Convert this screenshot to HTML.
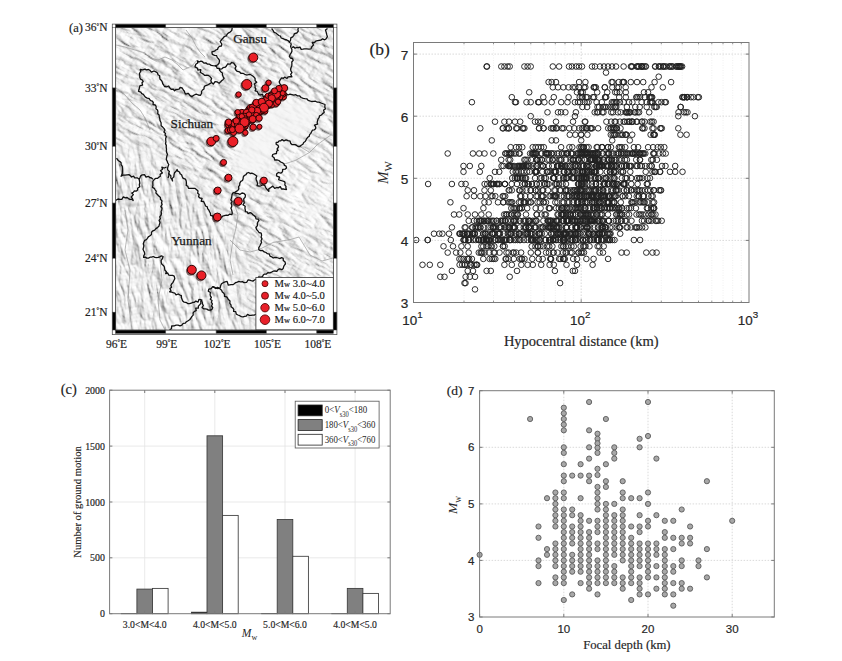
<!DOCTYPE html>
<html><head><meta charset="utf-8"><style>html,body{margin:0;padding:0;background:#fff}svg{display:block}</style></head>
<body><svg width="842" height="661" viewBox="0 0 842 661">
<defs>
<clipPath id="mclip"><rect x="115.5" y="27.6" width="217.9" height="302.4"/></clipPath>
<filter id="reliefA" x="0" y="0" width="100%" height="100%">
<feTurbulence type="turbulence" baseFrequency="0.04 0.12" numOctaves="5" seed="3" result="n"/>
<feColorMatrix in="n" type="matrix" values="0 0 0 0 0  0 0 0 0 0  0 0 0 0 0  1 0 0 0 0" result="h"/>
<feDiffuseLighting in="h" surfaceScale="3.5" diffuseConstant="1.05" lighting-color="#fff"><feDistantLight azimuth="315" elevation="50"/></feDiffuseLighting>
</filter>
<filter id="reliefB" x="0" y="0" width="100%" height="100%">
<feTurbulence type="turbulence" baseFrequency="0.12 0.035" numOctaves="5" seed="5" result="n"/>
<feColorMatrix in="n" type="matrix" values="0 0 0 0 0  0 0 0 0 0  0 0 0 0 0  1 0 0 0 0" result="h"/>
<feDiffuseLighting in="h" surfaceScale="3.5" diffuseConstant="1.05" lighting-color="#fff"><feDistantLight azimuth="315" elevation="50"/></feDiffuseLighting>
</filter>
<filter id="blur2"><feGaussianBlur stdDeviation="6"/></filter>
<filter id="mblur" x="-20%" y="-20%" width="140%" height="140%"><feGaussianBlur stdDeviation="12"/></filter>
<mask id="southwest" maskUnits="userSpaceOnUse" x="0" y="0" width="842" height="661"><polygon points="80,150 150,150 175,175 215,215 235,240 250,370 80,370" fill="#fff" filter="url(#mblur)"/></mask>
<mask id="north" maskUnits="userSpaceOnUse" x="0" y="0" width="842" height="661"><rect x="0" y="0" width="842" height="661" fill="#fff"/><polygon points="80,150 150,150 175,175 215,215 235,240 250,370 80,370" fill="#000" filter="url(#mblur)"/></mask>
</defs>
<g clip-path="url(#mclip)">
<rect x="115.5" y="27.6" width="217.89999999999998" height="302.4" fill="#ffffff"/>
<g mask="url(#north)"><rect x="-150" y="-100" width="600" height="500" transform="rotate(28 225 180)" filter="url(#reliefA)" opacity="0.72"/></g>
<g mask="url(#southwest)"><rect x="90" y="130" width="200" height="220" transform="rotate(-8 190 240)" filter="url(#reliefB)" opacity="0.72"/></g>
<polygon points="238,140 255,112 283,95 318,104 322,112 312,132 298,146 282,142 276,162 262,178 240,182 232,162" fill="#f6f6f6" opacity="0.85" filter="url(#blur2)"/>
<polygon points="280,150 300,148 333,140 333,230 300,240 275,225 270,190" fill="#fff" opacity="0.35" filter="url(#blur2)"/>
<polyline fill="none" stroke="#9a9a9a" stroke-width="0.7" points="116.0,45.0 125.0,47.0 135.0,50.0 145.0,53.0 150.0,58.0 158.0,60.0 165.0,57.0 172.0,60.0 178.0,65.0 183.0,70.0 192.0,66.0 197.0,60.0"/>
<polyline fill="none" stroke="#9a9a9a" stroke-width="0.7" points="186.0,30.0 192.0,38.0 196.0,46.0 200.0,52.0 205.0,57.0"/>
<polyline fill="none" stroke="#9a9a9a" stroke-width="0.7" points="116.0,88.0 125.0,95.0 132.0,103.0 140.0,110.0 145.0,118.0 150.0,130.0"/>
<polyline fill="none" stroke="#9a9a9a" stroke-width="0.7" points="258.8,249.7 273.0,242.5 290.0,239.6 299.0,237.0 310.0,255.0 322.0,261.0 333.0,258.0"/>
<polyline fill="none" stroke="#9a9a9a" stroke-width="0.7" points="230.0,240.0 240.0,250.0 250.0,252.0 258.8,249.7"/>
<polyline fill="none" stroke="#9a9a9a" stroke-width="0.7" points="233.0,200.0 238.0,215.0 236.0,228.0 233.0,240.0 230.0,260.0 233.0,275.0"/>
<polyline fill="none" stroke="#9a9a9a" stroke-width="0.7" points="299.8,146.5 309.6,152.4 317.5,144.5 331.3,134.6"/>
<polyline fill="none" stroke="#9a9a9a" stroke-width="0.7" points="284.1,164.2 295.9,160.2 309.6,152.4"/>
<polyline fill="none" stroke="#9a9a9a" stroke-width="0.7" points="160.0,260.0 162.0,280.0 158.0,300.0 160.0,320.0 165.0,330.0"/>
<polyline fill="none" stroke="#9a9a9a" stroke-width="0.7" points="125.0,210.0 128.0,230.0 125.0,250.0 130.0,270.0 128.0,300.0 132.0,330.0"/>
<polyline fill="none" stroke="#111" stroke-width="1.3" stroke-linejoin="round" points="168.0,178.0 168.9,175.7 168.7,173.3 169.4,171.5 167.7,169.9 167.5,168.2 168.1,166.4 168.8,164.5 167.7,162.9 167.2,161.2 166.3,159.5 166.5,157.8 166.9,156.0 167.5,154.2 166.7,152.6 166.4,150.8 166.5,149.1 166.2,147.3 166.3,145.4 165.5,143.7 165.9,141.8 165.7,140.0 165.7,138.3 166.4,136.6 165.0,135.1 165.5,133.4 163.9,132.0 164.9,130.1 164.1,128.6 162.7,127.1 161.1,125.7 161.1,122.7 160.1,120.8 159.8,118.8 159.2,116.8 159.1,115.0 157.7,113.7 157.9,111.7 157.5,110.0 155.9,108.8 156.2,106.8 155.5,105.2 153.0,104.5 153.3,102.5 152.3,101.1 150.4,100.5 149.2,98.6 147.2,98.1 145.4,97.2 144.4,95.8 143.4,94.4 141.7,93.6 140.8,92.1 138.5,91.3 139.1,89.3 139.5,87.3 140.0,85.6 142.6,85.2 142.0,82.8 143.2,81.5 142.4,80.0 140.5,79.1 139.8,77.5 139.8,75.5 139.4,73.5 140.7,71.5 140.3,69.5 142.7,69.9 145.0,69.2 146.6,69.8 148.4,69.5 150.0,70.3 151.4,72.2 154.0,71.0 155.8,71.8 157.5,73.0 158.0,74.7 159.7,75.7 159.7,77.6 160.1,79.3 161.5,80.5 162.3,82.0 162.7,83.6 163.7,85.0 164.5,86.5 166.3,86.8 168.7,86.0 169.8,87.9 171.2,89.4 173.3,89.1 174.5,90.8 175.7,89.7 177.3,89.3 179.1,89.1 180.0,87.5 182.2,88.0 183.3,90.0 184.4,91.2 184.8,92.8 185.8,94.1 188.3,93.3 189.7,95.2 191.7,96.6 194.2,95.0 196.2,94.1 198.3,95.0 200.5,95.3 201.6,93.3 201.5,91.5 202.5,90.0 204.0,89.0 204.1,87.1 205.0,85.8 207.2,85.2 209.1,84.1 211.6,82.5 210.8,80.8 211.6,78.5 210.0,76.6 208.5,75.5 206.7,75.2 204.7,75.4 203.3,74.1 201.8,73.2 200.3,72.5 200.8,69.6 197.9,70.2 197.5,68.3 195.0,66.9 195.8,64.2 197.7,63.0 197.5,60.8 199.0,62.0 200.9,61.2 202.5,61.7 203.9,63.1 206.1,62.9 207.5,64.2 209.5,64.2 211.2,65.4 213.1,65.7 215.0,65.8 216.5,66.4 217.1,68.4 219.1,68.3 219.5,70.2 220.7,71.7 222.4,73.0 222.5,75.0 223.2,76.7 224.1,78.3 223.0,79.7 221.6,80.8 220.4,82.1 219.1,83.3 217.3,81.9 215.0,81.6 213.3,84.1 211.6,82.5"/>
<polyline fill="none" stroke="#111" stroke-width="1.3" stroke-linejoin="round" points="232.2,27.6 231.8,30.4 230.2,32.0 228.2,33.1 227.1,34.3 226.3,35.8 224.4,36.5 223.1,38.0 221.8,39.4 220.2,41.7 221.8,44.0 221.4,46.0 219.4,46.4 218.2,47.6 217.5,49.4 215.8,50.0 214.5,51.2 211.9,51.8 212.3,54.4 214.5,55.3 216.6,55.6 217.3,57.6 218.5,58.8 219.5,60.3 219.1,63.1 217.5,65.0 215.0,65.8"/>
<polyline fill="none" stroke="#111" stroke-width="1.3" stroke-linejoin="round" points="219.1,68.3 220.0,69.2 221.9,68.8 223.3,67.6 225.3,67.2 226.6,65.8 227.7,63.8 230.3,64.2 231.6,62.5 233.7,63.2 235.0,65.0 236.1,66.5 235.1,68.4 235.8,70.0 237.3,71.4 239.4,71.8 240.8,73.3 242.9,73.3 244.7,74.3 246.6,75.0 248.3,74.7 250.0,74.3 252.0,75.5 253.8,76.8 255.1,78.5 255.1,80.6 256.7,82.3 254.2,84.0 255.1,85.7 255.0,87.4 255.9,89.1 255.1,90.8 257.1,91.3 258.0,93.0 258.9,94.6 260.6,94.8 262.5,94.1 263.3,97.0 265.2,96.5 266.7,95.9 267.8,94.5 269.4,94.0 270.7,93.0 272.0,92.0 273.8,91.8 274.9,90.4 276.7,90.2 278.2,89.5 278.9,87.5 280.2,86.6 281.8,86.0"/>
<polyline fill="none" stroke="#111" stroke-width="1.3" stroke-linejoin="round" points="290.6,42.5 291.2,44.4 290.6,46.3 291.2,48.0 291.9,49.6 291.9,51.4 291.0,53.1 290.0,54.7 289.4,56.5 290.4,58.0 292.5,58.5 293.2,60.3 291.8,62.0 291.9,64.1 291.7,65.9 291.1,67.5 290.6,69.2 290.9,70.9 292.0,72.6 290.6,74.3 291.9,76.8 290.0,76.6 288.1,76.8 287.0,78.5 284.8,77.1 283.5,78.3 281.7,77.8 280.5,79.3 279.2,81.9 280.1,84.1 281.8,85.7 281.3,87.6 281.8,89.5 282.2,91.9 284.3,93.3 286.2,93.6 287.9,95.0 290.0,94.2 291.9,94.6 293.8,95.1 295.8,94.7 297.5,95.9 299.5,95.8 301.1,97.5 303.3,98.4 305.0,98.7 306.8,98.8 308.1,100.3 309.7,100.9 311.5,101.5 313.5,101.4 315.5,101.2 317.3,102.2 319.1,102.2 320.7,102.9 322.4,103.5 325.0,104.5 324.8,107.0 325.4,109.0 323.6,110.0 324.2,112.5 322.6,113.6 321.5,115.0 319.5,115.8 319.1,117.7 318.0,119.1 317.5,120.9 317.2,122.5 317.6,124.2 314.4,125.1 315.8,127.1 315.6,128.7 314.3,129.8 312.4,130.2 311.6,131.8 310.8,133.4 309.6,134.6 309.2,136.4 307.7,137.3 306.7,138.6 306.0,140.1 305.2,141.5 303.7,142.5 302.9,144.3 301.2,145.2 299.8,146.5 298.1,146.5 296.7,145.4 295.2,144.6 293.5,144.7 291.9,144.5 290.6,143.2 290.1,141.1 288.0,140.6 286.1,139.8 283.9,140.9 282.1,139.6 280.8,140.8 279.1,140.9 277.9,142.3 276.2,142.5 276.1,144.2 278.1,145.4 278.6,146.9 277.1,149.0 278.1,150.4 276.6,151.3 276.5,153.5 274.5,153.9 272.7,154.5 272.2,156.3 274.1,157.7 274.7,160.0 276.9,159.9 278.9,160.5 280.6,162.0 282.3,162.7 283.8,163.5 284.4,165.3 286.0,166.0 286.5,167.9 285.1,169.2 282.7,169.4 282.5,171.8 280.8,173.2 278.4,172.5 276.7,173.8 276.6,176.0 279.5,177.2 278.6,179.7 280.5,180.4 282.5,181.0 284.5,181.6 285.1,183.1 284.8,184.9 286.0,186.3 285.9,188.0 286.5,189.5 284.8,189.4 283.2,188.9 281.5,189.0 280.3,186.6 278.3,187.9 276.7,187.5 274.7,188.3 272.8,186.1 270.8,187.5 268.8,188.9 268.8,191.4 267.7,190.0 266.5,188.8 265.5,187.3 264.9,185.6 262.9,184.7 260.9,185.8 259.0,186.1 257.0,185.6 257.6,183.6 257.0,181.6 256.3,179.9 256.0,178.2 256.8,176.0 255.0,174.7 253.5,173.8 251.9,173.2 250.2,173.5 248.7,172.5 246.9,173.1 246.0,174.6 244.3,175.5 243.3,176.8 243.1,178.8 242.5,180.5 240.8,181.4 239.8,183.1 239.7,185.1 238.6,186.7 238.8,188.8 237.8,190.5 236.3,191.4 234.9,192.4 233.0,192.9 232.1,194.4 231.8,196.5 231.5,198.2 230.8,199.9 232.2,201.6 231.0,203.3 231.8,205.0 231.7,206.6 230.9,208.2 231.6,209.8 232.0,211.5 232.3,213.1 231.8,214.7 229.8,214.1 228.2,215.3 226.3,215.1 224.5,215.6 222.7,216.2 221.1,217.9 219.0,216.4 217.3,217.4 215.4,217.1 213.6,217.7 212.9,216.0 210.6,215.4 210.4,213.3 209.6,211.7 208.8,210.0 207.6,208.6 207.3,206.9 205.5,206.0 205.0,204.5 204.3,203.0 203.6,201.5 201.2,201.3 202.1,198.4 200.0,198.0 198.6,196.7 199.2,194.4 197.7,193.2 198.0,191.0 196.7,189.7 195.2,188.4 192.9,188.4 190.7,188.4 188.5,188.4 187.8,186.3 186.2,185.4 186.4,183.2 186.2,180.9 185.4,179.1 183.2,178.4 182.3,176.7 181.6,174.8 180.1,173.8 179.5,172.0 177.8,171.2 177.1,169.5 176.1,171.3 174.5,172.7 174.0,174.8 173.8,176.9 172.1,178.6 172.5,180.9 171.9,179.3 170.8,177.9 170.9,176.0 169.8,174.7 168.7,173.3"/>
<polyline fill="none" stroke="#111" stroke-width="1.3" stroke-linejoin="round" points="271.6,28.5 273.0,30.3 274.1,32.4 275.9,33.0 277.3,34.3 278.8,35.5 280.5,36.2 281.2,38.0 283.0,38.7 284.8,39.5 286.8,40.0 288.4,40.9 289.4,42.5 290.6,40.0 290.8,37.9 292.7,36.9 293.8,35.3 294.5,33.6 296.8,33.0 298.3,31.1 297.9,29.5 298.3,27.9"/>
<polyline fill="none" stroke="#111" stroke-width="1.3" stroke-linejoin="round" points="291.9,47.6 293.5,46.7 295.1,48.2 296.7,47.5 298.3,47.6 300.0,47.1 301.2,49.4 302.9,49.2 304.6,48.9 306.7,48.9 308.9,49.1 311.0,48.9 311.8,46.7 313.5,45.0 312.2,42.5 314.2,42.7 315.7,41.2 317.5,40.7 319.3,40.3 321.1,40.0 322.6,38.8 324.7,39.8 326.2,38.7 327.4,36.6 326.7,34.5 326.2,32.4 325.5,30.0 327.5,28.5"/>
<polyline fill="none" stroke="#111" stroke-width="1.3" stroke-linejoin="round" points="234.5,193.5 236.3,193.5 238.2,193.6 239.9,194.5 242.0,193.0 243.8,193.3 245.4,195.0 245.2,197.1 243.7,198.9 243.9,201.1 244.3,202.8 242.9,204.8 245.2,206.3 244.9,208.2 245.3,209.9 245.4,211.7 247.1,211.8 248.1,213.6 250.2,212.6 251.7,213.4 252.9,214.7 254.3,215.7 255.6,216.9 256.0,218.9 258.0,219.2 259.0,220.7 257.8,222.1 257.3,223.8 257.4,225.7 255.9,227.5 256.6,229.5 257.9,230.9 259.0,232.5 261.2,233.1 261.6,235.3 261.1,237.1 262.0,238.9 261.0,240.7 261.6,242.5 260.6,244.2 259.8,246.0 258.8,247.6 258.8,249.7 260.5,250.6 262.6,250.5 264.2,251.9 266.0,252.5 267.4,253.7 269.3,254.0 270.0,256.1 271.7,256.8 273.2,258.0 275.0,257.4 276.6,257.5 278.2,258.0 279.8,258.6 281.6,257.7 283.2,258.3 283.3,260.4 285.1,261.9 285.4,264.0 284.3,265.3 283.6,266.8 283.2,268.4 281.8,269.7 279.7,268.9 278.1,269.7 276.8,271.4 274.9,271.0 273.1,271.2 271.5,272.2 269.9,272.9 267.8,272.7 266.4,274.0 264.5,274.1 263.2,275.1 262.4,276.7 260.7,277.2 258.5,277.0 258.0,279.0 256.2,279.2 254.5,280.0 252.9,281.1 251.2,280.7 249.6,280.1 248.0,280.0 246.7,282.3 244.1,282.7 242.5,281.6 240.6,281.9 238.8,281.4 237.3,282.1 235.7,282.6 234.3,283.8 232.9,284.7 231.0,284.6 228.3,285.2 227.7,283.3 227.1,281.4 225.1,281.9 223.2,282.7 221.5,283.8 220.6,285.7 220.2,287.9 217.9,288.5 216.1,288.1 214.4,287.2 212.7,286.6 211.2,288.6 208.8,289.2 208.3,291.2 210.4,292.5 210.1,294.4 210.4,296.0 211.4,297.4 210.3,299.2 212.0,300.6 211.4,302.3 212.4,303.9 211.5,306.0 212.7,307.5 212.0,309.4 210.1,310.1 208.4,310.1 206.9,309.1 205.3,308.9 203.6,308.8 202.1,307.4 203.4,305.5 202.4,304.0 202.3,302.3 200.9,299.6 198.9,299.5 198.1,302.1 195.8,301.1 194.4,302.3 192.7,302.4 191.2,303.2 189.6,303.6 187.9,303.6 186.3,302.5 184.2,302.2 182.7,300.9 182.0,299.2 181.3,297.6 181.4,295.7 179.8,295.0 178.3,294.0 176.0,294.8 174.8,293.1 173.1,292.7 171.4,292.0 169.6,291.8 171.0,290.5 169.9,288.6 171.6,287.3 170.9,285.5 171.6,284.0 173.0,282.4 173.9,280.5 174.8,278.7 174.2,276.1 172.6,275.4 170.7,275.3 168.9,275.2 167.7,273.0 165.7,273.5 166.4,271.7 165.0,270.3 164.6,268.6 164.4,267.0 163.4,265.4 161.9,264.2 161.2,262.5 161.1,260.5 162.4,258.6 163.1,256.5 161.4,255.9 159.8,256.8 158.2,257.4 156.6,257.6 154.9,257.4 153.2,256.5 151.6,257.1 150.0,257.2 148.4,258.2 146.8,258.1 145.2,257.1 143.6,257.3 143.8,255.7 144.8,254.1 144.5,252.4 143.7,250.8 143.0,249.2 143.5,247.6 143.9,245.8 143.3,243.8 143.9,242.0 144.7,240.3 146.4,239.7 147.4,238.3 148.3,236.9 150.0,235.8 151.5,234.5 151.5,232.2 152.9,230.8 154.7,230.1 155.9,228.6 157.5,227.6 158.9,226.3 159.4,224.4 160.0,222.6 159.1,220.4 160.4,218.7 159.7,216.8 161.0,215.2 161.5,213.5 161.1,211.6 161.7,209.9 162.0,208.1 160.8,206.5 162.1,204.5 161.5,202.8 162.0,200.9 160.4,199.3 160.4,197.5 158.8,196.1 157.4,194.5 155.9,193.0 156.2,191.1 155.1,189.8 154.3,188.3 152.4,187.3 152.9,185.4 152.8,183.2 152.9,181.1 154.4,179.3 155.8,178.4 157.7,178.3 158.9,177.1 160.4,176.3 160.1,174.4 162.4,172.9 160.5,170.7 162.5,169.2 161.9,167.2 164.2,168.0 166.5,167.2"/>
<polyline fill="none" stroke="#111" stroke-width="1.3" stroke-linejoin="round" points="212.7,286.6 214.2,287.3 215.5,288.5 217.6,287.4 219.1,288.3 220.5,289.2 221.7,290.4 222.3,292.0 223.6,293.0 224.5,294.4 224.5,296.4 226.7,296.8 227.6,298.2 228.4,299.6 230.0,301.0 229.8,303.3 231.0,304.9 231.1,306.7 232.8,308.0 233.8,309.4 233.6,311.4 235.7,311.6 236.3,314.2 238.0,315.0 239.7,315.7 241.4,316.6 243.1,316.9 244.6,316.4 246.2,316.1 247.5,314.4 249.3,315.3 251.0,315.3 252.7,315.1 254.5,315.1 256.0,314.0"/>
<polyline fill="none" stroke="#111" stroke-width="1.3" stroke-linejoin="round" points="202.3,299.6 200.8,301.1 200.9,303.3 199.6,304.9 198.4,306.1 198.3,308.1 195.7,308.2 196.2,310.7 194.4,311.4 193.1,312.9 193.2,315.1 191.8,316.6 190.9,318.3 189.6,319.7 188.1,320.7 186.4,321.7 185.3,323.2 183.2,323.4 181.9,325.1 180.0,325.8 178.1,325.2 176.1,325.2 174.2,325.8 171.7,326.0 171.4,328.7 169.6,329.7"/>
<polyline fill="none" stroke="#111" stroke-width="1.3" stroke-linejoin="round" points="116.5,158.2 117.5,159.5 118.5,160.8 119.9,161.6 121.1,162.7 121.1,164.7 122.3,166.4 122.5,168.4 122.6,170.3 122.5,172.4 122.0,174.4 121.1,176.3 122.9,175.2 125.1,175.2 127.1,174.8 128.9,174.6 130.3,175.6 131.5,177.0 133.6,176.2 134.7,177.8 137.2,177.8 139.2,179.3 140.0,177.6 140.7,175.9 142.3,174.8 144.5,174.6 146.0,177.1 148.3,176.3 149.7,177.5 151.5,178.0 152.9,179.3"/>
<polyline fill="none" stroke="#111" stroke-width="1.3" stroke-linejoin="round" points="139.2,179.3 139.5,181.2 139.8,183.0 139.3,184.8 139.8,186.7 137.6,188.2 137.7,190.0 136.4,191.1 134.4,190.9 133.2,192.3 131.7,193.0 133.4,194.6 131.2,197.0 132.5,198.7 133.2,200.5 131.9,199.2 130.0,199.4 128.4,198.6 127.1,197.5 125.3,197.9 123.3,196.9 121.8,199.3 119.9,199.4 118.0,199.0 115.5,200.5"/>
<text x="233.2" y="42.6" font-size="13.2" font-family='"Liberation Serif", serif' text-anchor="start" fill="#1a1a1a" stroke="#1a1a1a" stroke-width="0.25">Gansu</text>
<text x="170.6" y="128.2" font-size="13.2" font-family='"Liberation Serif", serif' text-anchor="start" fill="#1a1a1a" stroke="#1a1a1a" stroke-width="0.25">Sichuan</text>
<text x="171.3" y="245.2" font-size="13.2" font-family='"Liberation Serif", serif' text-anchor="start" fill="#1a1a1a" stroke="#1a1a1a" stroke-width="0.25">Yunnan</text>
<circle cx="248.1" cy="110.9" r="3.7" fill="#2a0a0a" opacity="0.6"/>
<circle cx="254.4" cy="111.8" r="4.2" fill="#2a0a0a" opacity="0.6"/>
<circle cx="253.4" cy="111.1" r="3.7" fill="#2a0a0a" opacity="0.6"/>
<circle cx="249.8" cy="120.8" r="2.7" fill="#2a0a0a" opacity="0.6"/>
<circle cx="258.4" cy="109.5" r="4.2" fill="#2a0a0a" opacity="0.6"/>
<circle cx="259.9" cy="102.6" r="2.7" fill="#2a0a0a" opacity="0.6"/>
<circle cx="234.5" cy="128.9" r="2.7" fill="#2a0a0a" opacity="0.6"/>
<circle cx="268.2" cy="104.3" r="3.2" fill="#2a0a0a" opacity="0.6"/>
<circle cx="254.9" cy="108.3" r="2.7" fill="#2a0a0a" opacity="0.6"/>
<circle cx="252.1" cy="121.4" r="2.7" fill="#2a0a0a" opacity="0.6"/>
<circle cx="265.5" cy="105.5" r="3.2" fill="#2a0a0a" opacity="0.6"/>
<circle cx="231.2" cy="127.8" r="2.7" fill="#2a0a0a" opacity="0.6"/>
<circle cx="268.4" cy="102.9" r="2.7" fill="#2a0a0a" opacity="0.6"/>
<circle cx="242.2" cy="121.3" r="3.7" fill="#2a0a0a" opacity="0.6"/>
<circle cx="279.0" cy="94.6" r="3.2" fill="#2a0a0a" opacity="0.6"/>
<circle cx="269.6" cy="102.3" r="3.2" fill="#2a0a0a" opacity="0.6"/>
<circle cx="226.8" cy="131.8" r="3.2" fill="#2a0a0a" opacity="0.6"/>
<circle cx="243.8" cy="121.0" r="3.7" fill="#2a0a0a" opacity="0.6"/>
<circle cx="237.1" cy="121.9" r="3.2" fill="#2a0a0a" opacity="0.6"/>
<circle cx="280.4" cy="91.2" r="3.7" fill="#2a0a0a" opacity="0.6"/>
<circle cx="235.1" cy="125.9" r="3.2" fill="#2a0a0a" opacity="0.6"/>
<circle cx="277.3" cy="97.7" r="2.7" fill="#2a0a0a" opacity="0.6"/>
<circle cx="237.5" cy="124.7" r="4.2" fill="#2a0a0a" opacity="0.6"/>
<circle cx="237.5" cy="125.6" r="3.2" fill="#2a0a0a" opacity="0.6"/>
<circle cx="227.7" cy="125.9" r="3.7" fill="#2a0a0a" opacity="0.6"/>
<circle cx="237.3" cy="128.4" r="3.2" fill="#2a0a0a" opacity="0.6"/>
<circle cx="229.2" cy="131.3" r="3.2" fill="#2a0a0a" opacity="0.6"/>
<circle cx="275.5" cy="95.1" r="3.7" fill="#2a0a0a" opacity="0.6"/>
<circle cx="243.0" cy="127.2" r="4.2" fill="#2a0a0a" opacity="0.6"/>
<circle cx="244.8" cy="124.1" r="4.2" fill="#2a0a0a" opacity="0.6"/>
<circle cx="245.5" cy="120.6" r="4.2" fill="#2a0a0a" opacity="0.6"/>
<circle cx="235.9" cy="126.8" r="4.2" fill="#2a0a0a" opacity="0.6"/>
<circle cx="279.2" cy="98.5" r="3.2" fill="#2a0a0a" opacity="0.6"/>
<circle cx="254.2" cy="112.5" r="4.2" fill="#2a0a0a" opacity="0.6"/>
<circle cx="239.4" cy="122.1" r="3.2" fill="#2a0a0a" opacity="0.6"/>
<circle cx="252.8" cy="109.2" r="2.7" fill="#2a0a0a" opacity="0.6"/>
<circle cx="246.3" cy="118.4" r="2.7" fill="#2a0a0a" opacity="0.6"/>
<circle cx="232.7" cy="127.8" r="2.7" fill="#2a0a0a" opacity="0.6"/>
<circle cx="237.4" cy="125.3" r="3.2" fill="#2a0a0a" opacity="0.6"/>
<circle cx="237.2" cy="128.1" r="3.2" fill="#2a0a0a" opacity="0.6"/>
<circle cx="262.5" cy="102.6" r="3.2" fill="#2a0a0a" opacity="0.6"/>
<circle cx="262.8" cy="106.8" r="3.2" fill="#2a0a0a" opacity="0.6"/>
<circle cx="266.4" cy="103.9" r="2.7" fill="#2a0a0a" opacity="0.6"/>
<circle cx="254.6" cy="109.8" r="2.7" fill="#2a0a0a" opacity="0.6"/>
<circle cx="230.6" cy="125.4" r="3.2" fill="#2a0a0a" opacity="0.6"/>
<circle cx="272.5" cy="99.6" r="3.7" fill="#2a0a0a" opacity="0.6"/>
<circle cx="277.6" cy="95.0" r="2.7" fill="#2a0a0a" opacity="0.6"/>
<circle cx="270.8" cy="96.7" r="3.7" fill="#2a0a0a" opacity="0.6"/>
<circle cx="250.7" cy="115.7" r="2.7" fill="#2a0a0a" opacity="0.6"/>
<circle cx="267.9" cy="106.1" r="3.2" fill="#2a0a0a" opacity="0.6"/>
<circle cx="249.9" cy="112.0" r="3.7" fill="#2a0a0a" opacity="0.6"/>
<circle cx="251.0" cy="111.9" r="4.2" fill="#2a0a0a" opacity="0.6"/>
<circle cx="230.0" cy="126.5" r="3.2" fill="#2a0a0a" opacity="0.6"/>
<circle cx="282.0" cy="97.7" r="3.7" fill="#2a0a0a" opacity="0.6"/>
<circle cx="245.7" cy="120.2" r="4.2" fill="#2a0a0a" opacity="0.6"/>
<circle cx="243.6" cy="126.8" r="3.7" fill="#2a0a0a" opacity="0.6"/>
<circle cx="255.9" cy="113.9" r="3.2" fill="#2a0a0a" opacity="0.6"/>
<circle cx="236.6" cy="124.1" r="3.2" fill="#2a0a0a" opacity="0.6"/>
<circle cx="272.3" cy="99.8" r="3.2" fill="#2a0a0a" opacity="0.6"/>
<circle cx="242.8" cy="123.5" r="2.7" fill="#2a0a0a" opacity="0.6"/>
<circle cx="268.3" cy="103.1" r="3.2" fill="#2a0a0a" opacity="0.6"/>
<circle cx="230.8" cy="126.3" r="3.7" fill="#2a0a0a" opacity="0.6"/>
<circle cx="246.2" cy="115.1" r="4.2" fill="#2a0a0a" opacity="0.6"/>
<circle cx="254.0" cy="113.3" r="4.2" fill="#2a0a0a" opacity="0.6"/>
<circle cx="232.0" cy="124.7" r="3.2" fill="#2a0a0a" opacity="0.6"/>
<circle cx="260.0" cy="104.5" r="3.7" fill="#2a0a0a" opacity="0.6"/>
<circle cx="258.2" cy="113.7" r="3.2" fill="#2a0a0a" opacity="0.6"/>
<circle cx="271.8" cy="94.4" r="2.7" fill="#2a0a0a" opacity="0.6"/>
<circle cx="250.6" cy="110.6" r="3.2" fill="#2a0a0a" opacity="0.6"/>
<circle cx="278.1" cy="93.3" r="3.7" fill="#2a0a0a" opacity="0.6"/>
<circle cx="242.7" cy="116.0" r="4.2" fill="#2a0a0a" opacity="0.6"/>
<circle cx="267.4" cy="105.4" r="3.2" fill="#2a0a0a" opacity="0.6"/>
<circle cx="260.6" cy="108.9" r="3.2" fill="#2a0a0a" opacity="0.6"/>
<circle cx="251.9" cy="109.9" r="2.7" fill="#2a0a0a" opacity="0.6"/>
<circle cx="253.3" cy="113.0" r="3.7" fill="#2a0a0a" opacity="0.6"/>
<circle cx="249.6" cy="109.1" r="3.7" fill="#2a0a0a" opacity="0.6"/>
<circle cx="256.6" cy="107.1" r="3.2" fill="#2a0a0a" opacity="0.6"/>
<circle cx="253.0" cy="111.2" r="2.7" fill="#2a0a0a" opacity="0.6"/>
<circle cx="247.1" cy="117.5" r="3.2" fill="#2a0a0a" opacity="0.6"/>
<circle cx="258.2" cy="107.8" r="2.7" fill="#2a0a0a" opacity="0.6"/>
<circle cx="250.6" cy="118.1" r="4.2" fill="#2a0a0a" opacity="0.6"/>
<circle cx="251.0" cy="119.7" r="3.2" fill="#2a0a0a" opacity="0.6"/>
<circle cx="275.4" cy="101.9" r="3.2" fill="#2a0a0a" opacity="0.6"/>
<circle cx="255.3" cy="105.0" r="3.7" fill="#2a0a0a" opacity="0.6"/>
<circle cx="234.2" cy="123.5" r="3.7" fill="#2a0a0a" opacity="0.6"/>
<circle cx="272.0" cy="95.5" r="2.7" fill="#2a0a0a" opacity="0.6"/>
<circle cx="265.7" cy="103.2" r="4.2" fill="#2a0a0a" opacity="0.6"/>
<circle cx="258.0" cy="105.6" r="4.2" fill="#2a0a0a" opacity="0.6"/>
<circle cx="240.7" cy="114.6" r="4.2" fill="#2a0a0a" opacity="0.6"/>
<circle cx="245.1" cy="116.5" r="4.2" fill="#2a0a0a" opacity="0.6"/>
<circle cx="241.9" cy="119.5" r="2.7" fill="#2a0a0a" opacity="0.6"/>
<circle cx="255.5" cy="110.8" r="2.7" fill="#2a0a0a" opacity="0.6"/>
<circle cx="253.0" cy="113.4" r="4.2" fill="#2a0a0a" opacity="0.6"/>
<circle cx="238.2" cy="125.7" r="4.2" fill="#2a0a0a" opacity="0.6"/>
<circle cx="257.7" cy="110.6" r="3.7" fill="#2a0a0a" opacity="0.6"/>
<circle cx="243.0" cy="119.8" r="3.7" fill="#2a0a0a" opacity="0.6"/>
<circle cx="281.0" cy="94.7" r="4.2" fill="#2a0a0a" opacity="0.6"/>
<circle cx="247.9" cy="121.1" r="3.2" fill="#2a0a0a" opacity="0.6"/>
<circle cx="237.4" cy="124.1" r="3.2" fill="#2a0a0a" opacity="0.6"/>
<circle cx="240.6" cy="123.9" r="3.2" fill="#2a0a0a" opacity="0.6"/>
<circle cx="240.1" cy="120.5" r="4.2" fill="#2a0a0a" opacity="0.6"/>
<circle cx="235.0" cy="124.8" r="3.2" fill="#2a0a0a" opacity="0.6"/>
<circle cx="266.3" cy="103.7" r="3.7" fill="#2a0a0a" opacity="0.6"/>
<circle cx="269.7" cy="97.5" r="4.2" fill="#2a0a0a" opacity="0.6"/>
<circle cx="257.9" cy="105.4" r="4.2" fill="#2a0a0a" opacity="0.6"/>
<circle cx="263.8" cy="112.4" r="3.2" fill="#2a0a0a" opacity="0.6"/>
<circle cx="275.1" cy="98.8" r="3.2" fill="#2a0a0a" opacity="0.6"/>
<circle cx="246.9" cy="121.4" r="3.2" fill="#2a0a0a" opacity="0.6"/>
<circle cx="276.0" cy="98.1" r="3.7" fill="#2a0a0a" opacity="0.6"/>
<circle cx="236.9" cy="123.5" r="3.2" fill="#2a0a0a" opacity="0.6"/>
<circle cx="237.7" cy="118.9" r="2.7" fill="#2a0a0a" opacity="0.6"/>
<circle cx="238.6" cy="117.1" r="3.2" fill="#2a0a0a" opacity="0.6"/>
<circle cx="232.4" cy="125.0" r="4.2" fill="#2a0a0a" opacity="0.6"/>
<circle cx="283.0" cy="89.4" r="3.7" fill="#2a0a0a" opacity="0.6"/>
<circle cx="239.2" cy="126.2" r="4.2" fill="#2a0a0a" opacity="0.6"/>
<circle cx="274.4" cy="96.9" r="2.7" fill="#2a0a0a" opacity="0.6"/>
<circle cx="245.1" cy="115.5" r="2.7" fill="#2a0a0a" opacity="0.6"/>
<circle cx="262.3" cy="111.3" r="2.7" fill="#2a0a0a" opacity="0.6"/>
<circle cx="267.7" cy="104.3" r="4.2" fill="#2a0a0a" opacity="0.6"/>
<circle cx="249.1" cy="118.9" r="2.7" fill="#2a0a0a" opacity="0.6"/>
<circle cx="274.2" cy="101.4" r="3.2" fill="#2a0a0a" opacity="0.6"/>
<circle cx="251.6" cy="116.1" r="4.2" fill="#2a0a0a" opacity="0.6"/>
<circle cx="269.9" cy="101.7" r="3.7" fill="#2a0a0a" opacity="0.6"/>
<circle cx="260.5" cy="111.9" r="3.2" fill="#2a0a0a" opacity="0.6"/>
<circle cx="270.8" cy="105.8" r="3.2" fill="#2a0a0a" opacity="0.6"/>
<circle cx="267.1" cy="102.9" r="4.2" fill="#2a0a0a" opacity="0.6"/>
<circle cx="266.0" cy="100.1" r="3.7" fill="#2a0a0a" opacity="0.6"/>
<circle cx="242.9" cy="126.0" r="3.2" fill="#2a0a0a" opacity="0.6"/>
<circle cx="256.6" cy="112.6" r="4.2" fill="#2a0a0a" opacity="0.6"/>
<circle cx="232.4" cy="133.8" r="3.2" fill="#2a0a0a" opacity="0.6"/>
<circle cx="245.9" cy="114.4" r="4.2" fill="#2a0a0a" opacity="0.6"/>
<circle cx="231.7" cy="126.3" r="3.2" fill="#2a0a0a" opacity="0.6"/>
<circle cx="266.4" cy="97.1" r="2.7" fill="#2a0a0a" opacity="0.6"/>
<circle cx="238.0" cy="126.3" r="3.7" fill="#2a0a0a" opacity="0.6"/>
<circle cx="252.4" cy="115.4" r="3.7" fill="#2a0a0a" opacity="0.6"/>
<circle cx="231.2" cy="130.9" r="3.2" fill="#2a0a0a" opacity="0.6"/>
<circle cx="251.8" cy="109.2" r="4.2" fill="#2a0a0a" opacity="0.6"/>
<circle cx="275.3" cy="100.4" r="2.7" fill="#2a0a0a" opacity="0.6"/>
<circle cx="255.2" cy="104.1" r="3.7" fill="#2a0a0a" opacity="0.6"/>
<circle cx="278.8" cy="98.2" r="3.2" fill="#2a0a0a" opacity="0.6"/>
<circle cx="270.3" cy="97.6" r="3.7" fill="#2a0a0a" opacity="0.6"/>
<circle cx="275.4" cy="96.7" r="4.2" fill="#2a0a0a" opacity="0.6"/>
<circle cx="243.6" cy="117.5" r="3.2" fill="#2a0a0a" opacity="0.6"/>
<circle cx="258.0" cy="113.0" r="3.2" fill="#2a0a0a" opacity="0.6"/>
<circle cx="232.6" cy="125.0" r="3.2" fill="#2a0a0a" opacity="0.6"/>
<circle cx="250.9" cy="113.8" r="3.2" fill="#2a0a0a" opacity="0.6"/>
<circle cx="275.3" cy="104.7" r="3.2" fill="#2a0a0a" opacity="0.6"/>
<circle cx="236.7" cy="125.2" r="3.7" fill="#2a0a0a" opacity="0.6"/>
<circle cx="243.4" cy="119.5" r="2.7" fill="#2a0a0a" opacity="0.6"/>
<circle cx="277.2" cy="92.8" r="3.2" fill="#2a0a0a" opacity="0.6"/>
<circle cx="275.1" cy="95.4" r="4.4" fill="#2a0a0a" opacity="0.6"/>
<circle cx="277.8" cy="89.9" r="3.4000000000000004" fill="#2a0a0a" opacity="0.6"/>
<circle cx="281.5" cy="94.5" r="2.7" fill="#2a0a0a" opacity="0.6"/>
<circle cx="273.3" cy="92.2" r="3.2" fill="#2a0a0a" opacity="0.6"/>
<circle cx="270.6" cy="99.5" r="3.8000000000000003" fill="#2a0a0a" opacity="0.6"/>
<circle cx="276.9" cy="103.1" r="2.9000000000000004" fill="#2a0a0a" opacity="0.6"/>
<circle cx="260.6" cy="103.1" r="3.8000000000000003" fill="#2a0a0a" opacity="0.6"/>
<circle cx="267.8" cy="104.9" r="3.8000000000000003" fill="#2a0a0a" opacity="0.6"/>
<circle cx="262.8" cy="109.0" r="4.7" fill="#2a0a0a" opacity="0.6"/>
<circle cx="256.0" cy="112.2" r="3.8000000000000003" fill="#2a0a0a" opacity="0.6"/>
<circle cx="250.6" cy="111.3" r="3.4000000000000004" fill="#2a0a0a" opacity="0.6"/>
<circle cx="236.5" cy="113.5" r="2.9000000000000004" fill="#2a0a0a" opacity="0.6"/>
<circle cx="240.6" cy="117.6" r="2.9000000000000004" fill="#2a0a0a" opacity="0.6"/>
<circle cx="247.8" cy="115.8" r="2.9000000000000004" fill="#2a0a0a" opacity="0.6"/>
<circle cx="255.1" cy="116.7" r="3.2" fill="#2a0a0a" opacity="0.6"/>
<circle cx="251.5" cy="120.4" r="3.8000000000000003" fill="#2a0a0a" opacity="0.6"/>
<circle cx="257.9" cy="119.4" r="3.4000000000000004" fill="#2a0a0a" opacity="0.6"/>
<circle cx="243.3" cy="123.5" r="4.7" fill="#2a0a0a" opacity="0.6"/>
<circle cx="235.1" cy="122.2" r="3.4000000000000004" fill="#2a0a0a" opacity="0.6"/>
<circle cx="227.4" cy="123.5" r="3.4000000000000004" fill="#2a0a0a" opacity="0.6"/>
<circle cx="238.3" cy="129.9" r="4.7" fill="#2a0a0a" opacity="0.6"/>
<circle cx="252.0" cy="128.5" r="3.4000000000000004" fill="#2a0a0a" opacity="0.6"/>
<circle cx="258.3" cy="128.1" r="2.7" fill="#2a0a0a" opacity="0.6"/>
<circle cx="244.2" cy="134.0" r="2.9000000000000004" fill="#2a0a0a" opacity="0.6"/>
<circle cx="252.1" cy="58.8" r="4.7" fill="#2a0a0a" opacity="0.6"/>
<circle cx="245.6" cy="85.8" r="5.2" fill="#2a0a0a" opacity="0.6"/>
<circle cx="267.4" cy="84.0" r="2.9000000000000004" fill="#2a0a0a" opacity="0.6"/>
<circle cx="264.2" cy="89.5" r="3.7" fill="#2a0a0a" opacity="0.6"/>
<circle cx="237.4" cy="95.8" r="2.9000000000000004" fill="#2a0a0a" opacity="0.6"/>
<circle cx="231.7" cy="142.8" r="5.2" fill="#2a0a0a" opacity="0.6"/>
<circle cx="210.1" cy="142.7" r="4.5" fill="#2a0a0a" opacity="0.6"/>
<circle cx="215.0" cy="139.7" r="3.2" fill="#2a0a0a" opacity="0.6"/>
<circle cx="222.4" cy="163.7" r="3.2" fill="#2a0a0a" opacity="0.6"/>
<circle cx="227.3" cy="179.0" r="3.7" fill="#2a0a0a" opacity="0.6"/>
<circle cx="216.5" cy="191.8" r="3.7" fill="#2a0a0a" opacity="0.6"/>
<circle cx="237.1" cy="202.6" r="4.2" fill="#2a0a0a" opacity="0.6"/>
<circle cx="262.7" cy="181.9" r="3.7" fill="#2a0a0a" opacity="0.6"/>
<circle cx="216.1" cy="218.3" r="4.2" fill="#2a0a0a" opacity="0.6"/>
<circle cx="190.6" cy="271.1" r="4.7" fill="#2a0a0a" opacity="0.6"/>
<circle cx="200.3" cy="276.7" r="4.7" fill="#2a0a0a" opacity="0.6"/>
<circle cx="249.3" cy="109.6" r="3.5" fill="#ea1f27" stroke="#2a0404" stroke-width="1.0"/>
<circle cx="255.6" cy="110.5" r="4" fill="#ea1f27" stroke="#2a0404" stroke-width="1.0"/>
<circle cx="254.6" cy="109.8" r="3.5" fill="#ea1f27" stroke="#2a0404" stroke-width="1.0"/>
<circle cx="251.0" cy="119.5" r="2.5" fill="#ea1f27" stroke="#2a0404" stroke-width="1.0"/>
<circle cx="259.6" cy="108.2" r="4" fill="#ea1f27" stroke="#2a0404" stroke-width="1.0"/>
<circle cx="261.1" cy="101.3" r="2.5" fill="#ea1f27" stroke="#2a0404" stroke-width="1.0"/>
<circle cx="235.7" cy="127.6" r="2.5" fill="#ea1f27" stroke="#2a0404" stroke-width="1.0"/>
<circle cx="269.4" cy="103.0" r="3" fill="#ea1f27" stroke="#2a0404" stroke-width="1.0"/>
<circle cx="256.1" cy="107.0" r="2.5" fill="#ea1f27" stroke="#2a0404" stroke-width="1.0"/>
<circle cx="253.3" cy="120.1" r="2.5" fill="#ea1f27" stroke="#2a0404" stroke-width="1.0"/>
<circle cx="266.7" cy="104.2" r="3" fill="#ea1f27" stroke="#2a0404" stroke-width="1.0"/>
<circle cx="232.4" cy="126.5" r="2.5" fill="#ea1f27" stroke="#2a0404" stroke-width="1.0"/>
<circle cx="269.6" cy="101.6" r="2.5" fill="#ea1f27" stroke="#2a0404" stroke-width="1.0"/>
<circle cx="243.4" cy="120.0" r="3.5" fill="#ea1f27" stroke="#2a0404" stroke-width="1.0"/>
<circle cx="280.2" cy="93.3" r="3" fill="#ea1f27" stroke="#2a0404" stroke-width="1.0"/>
<circle cx="270.8" cy="101.0" r="3" fill="#ea1f27" stroke="#2a0404" stroke-width="1.0"/>
<circle cx="228.0" cy="130.5" r="3" fill="#ea1f27" stroke="#2a0404" stroke-width="1.0"/>
<circle cx="245.0" cy="119.7" r="3.5" fill="#ea1f27" stroke="#2a0404" stroke-width="1.0"/>
<circle cx="238.3" cy="120.6" r="3" fill="#ea1f27" stroke="#2a0404" stroke-width="1.0"/>
<circle cx="281.6" cy="89.9" r="3.5" fill="#ea1f27" stroke="#2a0404" stroke-width="1.0"/>
<circle cx="236.3" cy="124.6" r="3" fill="#ea1f27" stroke="#2a0404" stroke-width="1.0"/>
<circle cx="278.5" cy="96.4" r="2.5" fill="#ea1f27" stroke="#2a0404" stroke-width="1.0"/>
<circle cx="238.7" cy="123.4" r="4" fill="#ea1f27" stroke="#2a0404" stroke-width="1.0"/>
<circle cx="238.7" cy="124.3" r="3" fill="#ea1f27" stroke="#2a0404" stroke-width="1.0"/>
<circle cx="228.9" cy="124.6" r="3.5" fill="#ea1f27" stroke="#2a0404" stroke-width="1.0"/>
<circle cx="238.5" cy="127.1" r="3" fill="#ea1f27" stroke="#2a0404" stroke-width="1.0"/>
<circle cx="230.4" cy="130.0" r="3" fill="#ea1f27" stroke="#2a0404" stroke-width="1.0"/>
<circle cx="276.7" cy="93.8" r="3.5" fill="#ea1f27" stroke="#2a0404" stroke-width="1.0"/>
<circle cx="244.2" cy="125.9" r="4" fill="#ea1f27" stroke="#2a0404" stroke-width="1.0"/>
<circle cx="246.0" cy="122.8" r="4" fill="#ea1f27" stroke="#2a0404" stroke-width="1.0"/>
<circle cx="246.7" cy="119.3" r="4" fill="#ea1f27" stroke="#2a0404" stroke-width="1.0"/>
<circle cx="237.1" cy="125.5" r="4" fill="#ea1f27" stroke="#2a0404" stroke-width="1.0"/>
<circle cx="280.4" cy="97.2" r="3" fill="#ea1f27" stroke="#2a0404" stroke-width="1.0"/>
<circle cx="255.4" cy="111.2" r="4" fill="#ea1f27" stroke="#2a0404" stroke-width="1.0"/>
<circle cx="240.6" cy="120.8" r="3" fill="#ea1f27" stroke="#2a0404" stroke-width="1.0"/>
<circle cx="254.0" cy="107.9" r="2.5" fill="#ea1f27" stroke="#2a0404" stroke-width="1.0"/>
<circle cx="247.5" cy="117.1" r="2.5" fill="#ea1f27" stroke="#2a0404" stroke-width="1.0"/>
<circle cx="233.9" cy="126.5" r="2.5" fill="#ea1f27" stroke="#2a0404" stroke-width="1.0"/>
<circle cx="238.6" cy="124.0" r="3" fill="#ea1f27" stroke="#2a0404" stroke-width="1.0"/>
<circle cx="238.4" cy="126.8" r="3" fill="#ea1f27" stroke="#2a0404" stroke-width="1.0"/>
<circle cx="263.7" cy="101.3" r="3" fill="#ea1f27" stroke="#2a0404" stroke-width="1.0"/>
<circle cx="264.0" cy="105.5" r="3" fill="#ea1f27" stroke="#2a0404" stroke-width="1.0"/>
<circle cx="267.6" cy="102.6" r="2.5" fill="#ea1f27" stroke="#2a0404" stroke-width="1.0"/>
<circle cx="255.8" cy="108.5" r="2.5" fill="#ea1f27" stroke="#2a0404" stroke-width="1.0"/>
<circle cx="231.8" cy="124.1" r="3" fill="#ea1f27" stroke="#2a0404" stroke-width="1.0"/>
<circle cx="273.7" cy="98.3" r="3.5" fill="#ea1f27" stroke="#2a0404" stroke-width="1.0"/>
<circle cx="278.8" cy="93.7" r="2.5" fill="#ea1f27" stroke="#2a0404" stroke-width="1.0"/>
<circle cx="272.0" cy="95.4" r="3.5" fill="#ea1f27" stroke="#2a0404" stroke-width="1.0"/>
<circle cx="251.9" cy="114.4" r="2.5" fill="#ea1f27" stroke="#2a0404" stroke-width="1.0"/>
<circle cx="269.1" cy="104.8" r="3" fill="#ea1f27" stroke="#2a0404" stroke-width="1.0"/>
<circle cx="251.1" cy="110.7" r="3.5" fill="#ea1f27" stroke="#2a0404" stroke-width="1.0"/>
<circle cx="252.2" cy="110.6" r="4" fill="#ea1f27" stroke="#2a0404" stroke-width="1.0"/>
<circle cx="231.2" cy="125.2" r="3" fill="#ea1f27" stroke="#2a0404" stroke-width="1.0"/>
<circle cx="283.2" cy="96.4" r="3.5" fill="#ea1f27" stroke="#2a0404" stroke-width="1.0"/>
<circle cx="246.9" cy="118.9" r="4" fill="#ea1f27" stroke="#2a0404" stroke-width="1.0"/>
<circle cx="244.8" cy="125.5" r="3.5" fill="#ea1f27" stroke="#2a0404" stroke-width="1.0"/>
<circle cx="257.1" cy="112.6" r="3" fill="#ea1f27" stroke="#2a0404" stroke-width="1.0"/>
<circle cx="237.8" cy="122.8" r="3" fill="#ea1f27" stroke="#2a0404" stroke-width="1.0"/>
<circle cx="273.5" cy="98.5" r="3" fill="#ea1f27" stroke="#2a0404" stroke-width="1.0"/>
<circle cx="244.0" cy="122.2" r="2.5" fill="#ea1f27" stroke="#2a0404" stroke-width="1.0"/>
<circle cx="269.5" cy="101.8" r="3" fill="#ea1f27" stroke="#2a0404" stroke-width="1.0"/>
<circle cx="232.0" cy="125.0" r="3.5" fill="#ea1f27" stroke="#2a0404" stroke-width="1.0"/>
<circle cx="247.4" cy="113.8" r="4" fill="#ea1f27" stroke="#2a0404" stroke-width="1.0"/>
<circle cx="255.2" cy="112.0" r="4" fill="#ea1f27" stroke="#2a0404" stroke-width="1.0"/>
<circle cx="233.2" cy="123.4" r="3" fill="#ea1f27" stroke="#2a0404" stroke-width="1.0"/>
<circle cx="261.2" cy="103.2" r="3.5" fill="#ea1f27" stroke="#2a0404" stroke-width="1.0"/>
<circle cx="259.4" cy="112.4" r="3" fill="#ea1f27" stroke="#2a0404" stroke-width="1.0"/>
<circle cx="273.0" cy="93.1" r="2.5" fill="#ea1f27" stroke="#2a0404" stroke-width="1.0"/>
<circle cx="251.8" cy="109.3" r="3" fill="#ea1f27" stroke="#2a0404" stroke-width="1.0"/>
<circle cx="279.3" cy="92.0" r="3.5" fill="#ea1f27" stroke="#2a0404" stroke-width="1.0"/>
<circle cx="243.9" cy="114.7" r="4" fill="#ea1f27" stroke="#2a0404" stroke-width="1.0"/>
<circle cx="268.6" cy="104.1" r="3" fill="#ea1f27" stroke="#2a0404" stroke-width="1.0"/>
<circle cx="261.8" cy="107.6" r="3" fill="#ea1f27" stroke="#2a0404" stroke-width="1.0"/>
<circle cx="253.1" cy="108.6" r="2.5" fill="#ea1f27" stroke="#2a0404" stroke-width="1.0"/>
<circle cx="254.5" cy="111.7" r="3.5" fill="#ea1f27" stroke="#2a0404" stroke-width="1.0"/>
<circle cx="250.8" cy="107.8" r="3.5" fill="#ea1f27" stroke="#2a0404" stroke-width="1.0"/>
<circle cx="257.8" cy="105.8" r="3" fill="#ea1f27" stroke="#2a0404" stroke-width="1.0"/>
<circle cx="254.2" cy="109.9" r="2.5" fill="#ea1f27" stroke="#2a0404" stroke-width="1.0"/>
<circle cx="248.3" cy="116.2" r="3" fill="#ea1f27" stroke="#2a0404" stroke-width="1.0"/>
<circle cx="259.4" cy="106.5" r="2.5" fill="#ea1f27" stroke="#2a0404" stroke-width="1.0"/>
<circle cx="251.8" cy="116.8" r="4" fill="#ea1f27" stroke="#2a0404" stroke-width="1.0"/>
<circle cx="252.2" cy="118.4" r="3" fill="#ea1f27" stroke="#2a0404" stroke-width="1.0"/>
<circle cx="276.6" cy="100.6" r="3" fill="#ea1f27" stroke="#2a0404" stroke-width="1.0"/>
<circle cx="256.5" cy="103.7" r="3.5" fill="#ea1f27" stroke="#2a0404" stroke-width="1.0"/>
<circle cx="235.4" cy="122.2" r="3.5" fill="#ea1f27" stroke="#2a0404" stroke-width="1.0"/>
<circle cx="273.2" cy="94.2" r="2.5" fill="#ea1f27" stroke="#2a0404" stroke-width="1.0"/>
<circle cx="266.9" cy="101.9" r="4" fill="#ea1f27" stroke="#2a0404" stroke-width="1.0"/>
<circle cx="259.2" cy="104.3" r="4" fill="#ea1f27" stroke="#2a0404" stroke-width="1.0"/>
<circle cx="241.9" cy="113.3" r="4" fill="#ea1f27" stroke="#2a0404" stroke-width="1.0"/>
<circle cx="246.3" cy="115.2" r="4" fill="#ea1f27" stroke="#2a0404" stroke-width="1.0"/>
<circle cx="243.1" cy="118.2" r="2.5" fill="#ea1f27" stroke="#2a0404" stroke-width="1.0"/>
<circle cx="256.7" cy="109.5" r="2.5" fill="#ea1f27" stroke="#2a0404" stroke-width="1.0"/>
<circle cx="254.2" cy="112.1" r="4" fill="#ea1f27" stroke="#2a0404" stroke-width="1.0"/>
<circle cx="239.4" cy="124.4" r="4" fill="#ea1f27" stroke="#2a0404" stroke-width="1.0"/>
<circle cx="258.9" cy="109.3" r="3.5" fill="#ea1f27" stroke="#2a0404" stroke-width="1.0"/>
<circle cx="244.2" cy="118.5" r="3.5" fill="#ea1f27" stroke="#2a0404" stroke-width="1.0"/>
<circle cx="282.2" cy="93.4" r="4" fill="#ea1f27" stroke="#2a0404" stroke-width="1.0"/>
<circle cx="249.1" cy="119.8" r="3" fill="#ea1f27" stroke="#2a0404" stroke-width="1.0"/>
<circle cx="238.6" cy="122.8" r="3" fill="#ea1f27" stroke="#2a0404" stroke-width="1.0"/>
<circle cx="241.8" cy="122.6" r="3" fill="#ea1f27" stroke="#2a0404" stroke-width="1.0"/>
<circle cx="241.3" cy="119.2" r="4" fill="#ea1f27" stroke="#2a0404" stroke-width="1.0"/>
<circle cx="236.2" cy="123.5" r="3" fill="#ea1f27" stroke="#2a0404" stroke-width="1.0"/>
<circle cx="267.5" cy="102.4" r="3.5" fill="#ea1f27" stroke="#2a0404" stroke-width="1.0"/>
<circle cx="270.9" cy="96.2" r="4" fill="#ea1f27" stroke="#2a0404" stroke-width="1.0"/>
<circle cx="259.1" cy="104.1" r="4" fill="#ea1f27" stroke="#2a0404" stroke-width="1.0"/>
<circle cx="265.0" cy="111.1" r="3" fill="#ea1f27" stroke="#2a0404" stroke-width="1.0"/>
<circle cx="276.3" cy="97.5" r="3" fill="#ea1f27" stroke="#2a0404" stroke-width="1.0"/>
<circle cx="248.1" cy="120.1" r="3" fill="#ea1f27" stroke="#2a0404" stroke-width="1.0"/>
<circle cx="277.2" cy="96.8" r="3.5" fill="#ea1f27" stroke="#2a0404" stroke-width="1.0"/>
<circle cx="238.1" cy="122.2" r="3" fill="#ea1f27" stroke="#2a0404" stroke-width="1.0"/>
<circle cx="238.9" cy="117.6" r="2.5" fill="#ea1f27" stroke="#2a0404" stroke-width="1.0"/>
<circle cx="239.8" cy="115.8" r="3" fill="#ea1f27" stroke="#2a0404" stroke-width="1.0"/>
<circle cx="233.6" cy="123.7" r="4" fill="#ea1f27" stroke="#2a0404" stroke-width="1.0"/>
<circle cx="284.2" cy="88.1" r="3.5" fill="#ea1f27" stroke="#2a0404" stroke-width="1.0"/>
<circle cx="240.4" cy="124.9" r="4" fill="#ea1f27" stroke="#2a0404" stroke-width="1.0"/>
<circle cx="275.6" cy="95.6" r="2.5" fill="#ea1f27" stroke="#2a0404" stroke-width="1.0"/>
<circle cx="246.3" cy="114.2" r="2.5" fill="#ea1f27" stroke="#2a0404" stroke-width="1.0"/>
<circle cx="263.5" cy="110.0" r="2.5" fill="#ea1f27" stroke="#2a0404" stroke-width="1.0"/>
<circle cx="268.9" cy="103.0" r="4" fill="#ea1f27" stroke="#2a0404" stroke-width="1.0"/>
<circle cx="250.3" cy="117.6" r="2.5" fill="#ea1f27" stroke="#2a0404" stroke-width="1.0"/>
<circle cx="275.4" cy="100.1" r="3" fill="#ea1f27" stroke="#2a0404" stroke-width="1.0"/>
<circle cx="252.8" cy="114.8" r="4" fill="#ea1f27" stroke="#2a0404" stroke-width="1.0"/>
<circle cx="271.1" cy="100.4" r="3.5" fill="#ea1f27" stroke="#2a0404" stroke-width="1.0"/>
<circle cx="261.7" cy="110.6" r="3" fill="#ea1f27" stroke="#2a0404" stroke-width="1.0"/>
<circle cx="272.0" cy="104.5" r="3" fill="#ea1f27" stroke="#2a0404" stroke-width="1.0"/>
<circle cx="268.3" cy="101.6" r="4" fill="#ea1f27" stroke="#2a0404" stroke-width="1.0"/>
<circle cx="267.2" cy="98.8" r="3.5" fill="#ea1f27" stroke="#2a0404" stroke-width="1.0"/>
<circle cx="244.1" cy="124.7" r="3" fill="#ea1f27" stroke="#2a0404" stroke-width="1.0"/>
<circle cx="257.8" cy="111.3" r="4" fill="#ea1f27" stroke="#2a0404" stroke-width="1.0"/>
<circle cx="233.6" cy="132.5" r="3" fill="#ea1f27" stroke="#2a0404" stroke-width="1.0"/>
<circle cx="247.1" cy="113.1" r="4" fill="#ea1f27" stroke="#2a0404" stroke-width="1.0"/>
<circle cx="232.9" cy="125.0" r="3" fill="#ea1f27" stroke="#2a0404" stroke-width="1.0"/>
<circle cx="267.6" cy="95.8" r="2.5" fill="#ea1f27" stroke="#2a0404" stroke-width="1.0"/>
<circle cx="239.2" cy="125.0" r="3.5" fill="#ea1f27" stroke="#2a0404" stroke-width="1.0"/>
<circle cx="253.6" cy="114.1" r="3.5" fill="#ea1f27" stroke="#2a0404" stroke-width="1.0"/>
<circle cx="232.4" cy="129.6" r="3" fill="#ea1f27" stroke="#2a0404" stroke-width="1.0"/>
<circle cx="253.0" cy="107.9" r="4" fill="#ea1f27" stroke="#2a0404" stroke-width="1.0"/>
<circle cx="276.5" cy="99.1" r="2.5" fill="#ea1f27" stroke="#2a0404" stroke-width="1.0"/>
<circle cx="256.4" cy="102.8" r="3.5" fill="#ea1f27" stroke="#2a0404" stroke-width="1.0"/>
<circle cx="280.0" cy="96.9" r="3" fill="#ea1f27" stroke="#2a0404" stroke-width="1.0"/>
<circle cx="271.5" cy="96.3" r="3.5" fill="#ea1f27" stroke="#2a0404" stroke-width="1.0"/>
<circle cx="276.6" cy="95.4" r="4" fill="#ea1f27" stroke="#2a0404" stroke-width="1.0"/>
<circle cx="244.8" cy="116.2" r="3" fill="#ea1f27" stroke="#2a0404" stroke-width="1.0"/>
<circle cx="259.2" cy="111.7" r="3" fill="#ea1f27" stroke="#2a0404" stroke-width="1.0"/>
<circle cx="233.8" cy="123.7" r="3" fill="#ea1f27" stroke="#2a0404" stroke-width="1.0"/>
<circle cx="252.1" cy="112.5" r="3" fill="#ea1f27" stroke="#2a0404" stroke-width="1.0"/>
<circle cx="276.5" cy="103.4" r="3" fill="#ea1f27" stroke="#2a0404" stroke-width="1.0"/>
<circle cx="237.9" cy="123.9" r="3.5" fill="#ea1f27" stroke="#2a0404" stroke-width="1.0"/>
<circle cx="244.6" cy="118.2" r="2.5" fill="#ea1f27" stroke="#2a0404" stroke-width="1.0"/>
<circle cx="278.4" cy="91.5" r="3" fill="#ea1f27" stroke="#2a0404" stroke-width="1.0"/>
<circle cx="276.3" cy="94.1" r="4.2" fill="#ea1f27" stroke="#2a0404" stroke-width="1.0"/>
<circle cx="279.0" cy="88.6" r="3.2" fill="#ea1f27" stroke="#2a0404" stroke-width="1.0"/>
<circle cx="282.7" cy="93.2" r="2.5" fill="#ea1f27" stroke="#2a0404" stroke-width="1.0"/>
<circle cx="274.5" cy="90.9" r="3" fill="#ea1f27" stroke="#2a0404" stroke-width="1.0"/>
<circle cx="271.8" cy="98.2" r="3.6" fill="#ea1f27" stroke="#2a0404" stroke-width="1.0"/>
<circle cx="278.1" cy="101.8" r="2.7" fill="#ea1f27" stroke="#2a0404" stroke-width="1.0"/>
<circle cx="261.8" cy="101.8" r="3.6" fill="#ea1f27" stroke="#2a0404" stroke-width="1.0"/>
<circle cx="269.0" cy="103.6" r="3.6" fill="#ea1f27" stroke="#2a0404" stroke-width="1.0"/>
<circle cx="264.0" cy="107.7" r="4.5" fill="#ea1f27" stroke="#2a0404" stroke-width="1.0"/>
<circle cx="257.2" cy="110.9" r="3.6" fill="#ea1f27" stroke="#2a0404" stroke-width="1.0"/>
<circle cx="251.8" cy="110.0" r="3.2" fill="#ea1f27" stroke="#2a0404" stroke-width="1.0"/>
<circle cx="237.7" cy="112.2" r="2.7" fill="#ea1f27" stroke="#2a0404" stroke-width="1.0"/>
<circle cx="241.8" cy="116.3" r="2.7" fill="#ea1f27" stroke="#2a0404" stroke-width="1.0"/>
<circle cx="249.0" cy="114.5" r="2.7" fill="#ea1f27" stroke="#2a0404" stroke-width="1.0"/>
<circle cx="256.3" cy="115.4" r="3" fill="#ea1f27" stroke="#2a0404" stroke-width="1.0"/>
<circle cx="252.7" cy="119.1" r="3.6" fill="#ea1f27" stroke="#2a0404" stroke-width="1.0"/>
<circle cx="259.1" cy="118.1" r="3.2" fill="#ea1f27" stroke="#2a0404" stroke-width="1.0"/>
<circle cx="244.5" cy="122.2" r="4.5" fill="#ea1f27" stroke="#2a0404" stroke-width="1.0"/>
<circle cx="236.3" cy="120.9" r="3.2" fill="#ea1f27" stroke="#2a0404" stroke-width="1.0"/>
<circle cx="228.6" cy="122.2" r="3.2" fill="#ea1f27" stroke="#2a0404" stroke-width="1.0"/>
<circle cx="239.5" cy="128.6" r="4.5" fill="#ea1f27" stroke="#2a0404" stroke-width="1.0"/>
<circle cx="253.2" cy="127.2" r="3.2" fill="#ea1f27" stroke="#2a0404" stroke-width="1.0"/>
<circle cx="259.5" cy="126.8" r="2.5" fill="#ea1f27" stroke="#2a0404" stroke-width="1.0"/>
<circle cx="245.4" cy="132.7" r="2.7" fill="#ea1f27" stroke="#2a0404" stroke-width="1.0"/>
<circle cx="253.3" cy="57.5" r="4.5" fill="#ea1f27" stroke="#2a0404" stroke-width="1.0"/>
<circle cx="246.8" cy="84.5" r="5" fill="#ea1f27" stroke="#2a0404" stroke-width="1.0"/>
<circle cx="268.6" cy="82.7" r="2.7" fill="#ea1f27" stroke="#2a0404" stroke-width="1.0"/>
<circle cx="265.4" cy="88.2" r="3.5" fill="#ea1f27" stroke="#2a0404" stroke-width="1.0"/>
<circle cx="238.6" cy="94.5" r="2.7" fill="#ea1f27" stroke="#2a0404" stroke-width="1.0"/>
<circle cx="232.9" cy="141.5" r="5" fill="#ea1f27" stroke="#2a0404" stroke-width="1.0"/>
<circle cx="211.3" cy="141.4" r="4.3" fill="#ea1f27" stroke="#2a0404" stroke-width="1.0"/>
<circle cx="216.2" cy="138.4" r="3" fill="#ea1f27" stroke="#2a0404" stroke-width="1.0"/>
<circle cx="223.6" cy="162.4" r="3" fill="#ea1f27" stroke="#2a0404" stroke-width="1.0"/>
<circle cx="228.5" cy="177.7" r="3.5" fill="#ea1f27" stroke="#2a0404" stroke-width="1.0"/>
<circle cx="217.7" cy="190.5" r="3.5" fill="#ea1f27" stroke="#2a0404" stroke-width="1.0"/>
<circle cx="238.3" cy="201.3" r="4" fill="#ea1f27" stroke="#2a0404" stroke-width="1.0"/>
<circle cx="263.9" cy="180.6" r="3.5" fill="#ea1f27" stroke="#2a0404" stroke-width="1.0"/>
<circle cx="217.3" cy="217.0" r="4" fill="#ea1f27" stroke="#2a0404" stroke-width="1.0"/>
<circle cx="191.8" cy="269.8" r="4.5" fill="#ea1f27" stroke="#2a0404" stroke-width="1.0"/>
<circle cx="201.5" cy="275.4" r="4.5" fill="#ea1f27" stroke="#2a0404" stroke-width="1.0"/>
</g>
<rect x="255.9" y="277.5" width="77.4" height="52.5" fill="#fff" stroke="#333" stroke-width="0.8"/>
<circle cx="265" cy="283.7" r="3" fill="#e8202a" stroke="#5a0a0a" stroke-width="0.9"/>
<text x="274.6" y="287.3" font-size="10.6" font-family='"Liberation Serif", serif' text-anchor="start" fill="#1a1a1a"  stroke="#1a1a1a" stroke-width="0.18">M<tspan font-size="8.3">w</tspan> 3.0~4.0</text>
<circle cx="265" cy="295.7" r="3.5" fill="#e8202a" stroke="#5a0a0a" stroke-width="0.9"/>
<text x="274.6" y="299.3" font-size="10.6" font-family='"Liberation Serif", serif' text-anchor="start" fill="#1a1a1a"  stroke="#1a1a1a" stroke-width="0.18">M<tspan font-size="8.3">w</tspan> 4.0~5.0</text>
<circle cx="265" cy="307.7" r="4.2" fill="#e8202a" stroke="#5a0a0a" stroke-width="0.9"/>
<text x="274.6" y="311.3" font-size="10.6" font-family='"Liberation Serif", serif' text-anchor="start" fill="#1a1a1a"  stroke="#1a1a1a" stroke-width="0.18">M<tspan font-size="8.3">w</tspan> 5.0~6.0</text>
<circle cx="265" cy="319.7" r="4.8" fill="#e8202a" stroke="#5a0a0a" stroke-width="0.9"/>
<text x="274.6" y="323.3" font-size="10.6" font-family='"Liberation Serif", serif' text-anchor="start" fill="#1a1a1a"  stroke="#1a1a1a" stroke-width="0.18">M<tspan font-size="8.3">w</tspan> 6.0~7.0</text>
<rect x="112.3" y="24.1" width="224.59999999999997" height="310.5" fill="none" stroke="#555" stroke-width="0.8"/>
<rect x="115.5" y="24.3" width="50.3" height="3.3" fill="#000" stroke="#444" stroke-width="0.5"/>
<rect x="115.5" y="330.1" width="50.3" height="3.3" fill="#000" stroke="#444" stroke-width="0.5"/>
<rect x="165.8" y="24.3" width="50.3" height="3.3" fill="#fff" stroke="#444" stroke-width="0.5"/>
<rect x="165.8" y="330.1" width="50.3" height="3.3" fill="#fff" stroke="#444" stroke-width="0.5"/>
<rect x="216.2" y="24.3" width="50.3" height="3.3" fill="#000" stroke="#444" stroke-width="0.5"/>
<rect x="216.2" y="330.1" width="50.3" height="3.3" fill="#000" stroke="#444" stroke-width="0.5"/>
<rect x="266.5" y="24.3" width="50.3" height="3.3" fill="#fff" stroke="#444" stroke-width="0.5"/>
<rect x="266.5" y="330.1" width="50.3" height="3.3" fill="#fff" stroke="#444" stroke-width="0.5"/>
<rect x="316.9" y="24.3" width="16.5" height="3.3" fill="#000" stroke="#444" stroke-width="0.5"/>
<rect x="316.9" y="330.1" width="16.5" height="3.3" fill="#000" stroke="#444" stroke-width="0.5"/>
<rect x="112.5" y="27.6" width="3.3" height="60.4" fill="#fff" stroke="#444" stroke-width="0.5"/>
<rect x="333.5" y="27.6" width="3.3" height="60.4" fill="#fff" stroke="#444" stroke-width="0.5"/>
<rect x="112.5" y="88.0" width="3.3" height="58.4" fill="#000" stroke="#444" stroke-width="0.5"/>
<rect x="333.5" y="88.0" width="3.3" height="58.4" fill="#000" stroke="#444" stroke-width="0.5"/>
<rect x="112.5" y="146.4" width="3.3" height="56.7" fill="#fff" stroke="#444" stroke-width="0.5"/>
<rect x="333.5" y="146.4" width="3.3" height="56.7" fill="#fff" stroke="#444" stroke-width="0.5"/>
<rect x="112.5" y="203.1" width="3.3" height="55.2" fill="#000" stroke="#444" stroke-width="0.5"/>
<rect x="333.5" y="203.1" width="3.3" height="55.2" fill="#000" stroke="#444" stroke-width="0.5"/>
<rect x="112.5" y="258.3" width="3.3" height="53.9" fill="#fff" stroke="#444" stroke-width="0.5"/>
<rect x="333.5" y="258.3" width="3.3" height="53.9" fill="#fff" stroke="#444" stroke-width="0.5"/>
<rect x="112.5" y="312.2" width="3.3" height="17.8" fill="#000" stroke="#444" stroke-width="0.5"/>
<rect x="333.5" y="312.2" width="3.3" height="17.8" fill="#000" stroke="#444" stroke-width="0.5"/>
<rect x="115.5" y="27.6" width="217.89999999999998" height="302.4" fill="none" stroke="#333" stroke-width="0.6"/>
<text x="69.0" y="31.6" font-size="12.5" font-family='"Liberation Serif", serif' text-anchor="start" fill="#222"  stroke="#222" stroke-width="0.18">(a)</text>
<text x="107.5" y="31.4" font-size="11.5" font-family='"Liberation Serif", serif' text-anchor="end" fill="#222"  stroke="#222" stroke-width="0.18">36<tspan font-size="6.5" dy="-3.6">°</tspan><tspan dy="3.6">N</tspan></text>
<text x="107.5" y="91.8" font-size="11.5" font-family='"Liberation Serif", serif' text-anchor="end" fill="#222"  stroke="#222" stroke-width="0.18">33<tspan font-size="6.5" dy="-3.6">°</tspan><tspan dy="3.6">N</tspan></text>
<text x="107.5" y="150.2" font-size="11.5" font-family='"Liberation Serif", serif' text-anchor="end" fill="#222"  stroke="#222" stroke-width="0.18">30<tspan font-size="6.5" dy="-3.6">°</tspan><tspan dy="3.6">N</tspan></text>
<text x="107.5" y="206.9" font-size="11.5" font-family='"Liberation Serif", serif' text-anchor="end" fill="#222"  stroke="#222" stroke-width="0.18">27<tspan font-size="6.5" dy="-3.6">°</tspan><tspan dy="3.6">N</tspan></text>
<text x="107.5" y="262.1" font-size="11.5" font-family='"Liberation Serif", serif' text-anchor="end" fill="#222"  stroke="#222" stroke-width="0.18">24<tspan font-size="6.5" dy="-3.6">°</tspan><tspan dy="3.6">N</tspan></text>
<text x="107.5" y="316.0" font-size="11.5" font-family='"Liberation Serif", serif' text-anchor="end" fill="#222"  stroke="#222" stroke-width="0.18">21<tspan font-size="6.5" dy="-3.6">°</tspan><tspan dy="3.6">N</tspan></text>
<text x="116.5" y="347.6" font-size="11.5" font-family='"Liberation Serif", serif' text-anchor="middle" fill="#222"  stroke="#222" stroke-width="0.18">96<tspan font-size="6.5" dy="-3.6">°</tspan><tspan dy="3.6">E</tspan></text>
<text x="166.8" y="347.6" font-size="11.5" font-family='"Liberation Serif", serif' text-anchor="middle" fill="#222"  stroke="#222" stroke-width="0.18">99<tspan font-size="6.5" dy="-3.6">°</tspan><tspan dy="3.6">E</tspan></text>
<text x="217.2" y="347.6" font-size="11.5" font-family='"Liberation Serif", serif' text-anchor="middle" fill="#222"  stroke="#222" stroke-width="0.18">102<tspan font-size="6.5" dy="-3.6">°</tspan><tspan dy="3.6">E</tspan></text>
<text x="267.5" y="347.6" font-size="11.5" font-family='"Liberation Serif", serif' text-anchor="middle" fill="#222"  stroke="#222" stroke-width="0.18">105<tspan font-size="6.5" dy="-3.6">°</tspan><tspan dy="3.6">E</tspan></text>
<text x="317.9" y="347.6" font-size="11.5" font-family='"Liberation Serif", serif' text-anchor="middle" fill="#222"  stroke="#222" stroke-width="0.18">108<tspan font-size="6.5" dy="-3.6">°</tspan><tspan dy="3.6">E</tspan></text>
<rect x="413.5" y="42.5" width="335.5" height="260.0" fill="#fff"/>
<line x1="464.0" y1="42.5" x2="464.0" y2="302.5" stroke="#ececec" stroke-width="0.8" stroke-dasharray="1,1.5"/>
<line x1="493.5" y1="42.5" x2="493.5" y2="302.5" stroke="#ececec" stroke-width="0.8" stroke-dasharray="1,1.5"/>
<line x1="514.5" y1="42.5" x2="514.5" y2="302.5" stroke="#ececec" stroke-width="0.8" stroke-dasharray="1,1.5"/>
<line x1="530.8" y1="42.5" x2="530.8" y2="302.5" stroke="#ececec" stroke-width="0.8" stroke-dasharray="1,1.5"/>
<line x1="544.0" y1="42.5" x2="544.0" y2="302.5" stroke="#ececec" stroke-width="0.8" stroke-dasharray="1,1.5"/>
<line x1="555.3" y1="42.5" x2="555.3" y2="302.5" stroke="#ececec" stroke-width="0.8" stroke-dasharray="1,1.5"/>
<line x1="565.0" y1="42.5" x2="565.0" y2="302.5" stroke="#ececec" stroke-width="0.8" stroke-dasharray="1,1.5"/>
<line x1="573.6" y1="42.5" x2="573.6" y2="302.5" stroke="#ececec" stroke-width="0.8" stroke-dasharray="1,1.5"/>
<line x1="631.7" y1="42.5" x2="631.7" y2="302.5" stroke="#ececec" stroke-width="0.8" stroke-dasharray="1,1.5"/>
<line x1="661.3" y1="42.5" x2="661.3" y2="302.5" stroke="#ececec" stroke-width="0.8" stroke-dasharray="1,1.5"/>
<line x1="682.2" y1="42.5" x2="682.2" y2="302.5" stroke="#ececec" stroke-width="0.8" stroke-dasharray="1,1.5"/>
<line x1="698.5" y1="42.5" x2="698.5" y2="302.5" stroke="#ececec" stroke-width="0.8" stroke-dasharray="1,1.5"/>
<line x1="711.8" y1="42.5" x2="711.8" y2="302.5" stroke="#ececec" stroke-width="0.8" stroke-dasharray="1,1.5"/>
<line x1="723.0" y1="42.5" x2="723.0" y2="302.5" stroke="#ececec" stroke-width="0.8" stroke-dasharray="1,1.5"/>
<line x1="732.7" y1="42.5" x2="732.7" y2="302.5" stroke="#ececec" stroke-width="0.8" stroke-dasharray="1,1.5"/>
<line x1="741.3" y1="42.5" x2="741.3" y2="302.5" stroke="#ececec" stroke-width="0.8" stroke-dasharray="1,1.5"/>
<line x1="581.2" y1="42.5" x2="581.2" y2="302.5" stroke="#d0d0d0" stroke-width="0.8" stroke-dasharray="1.5,1.5"/>
<line x1="413.5" y1="240.4" x2="749.0" y2="240.4" stroke="#d0d0d0" stroke-width="0.8" stroke-dasharray="1.5,1.5"/>
<line x1="413.5" y1="178.3" x2="749.0" y2="178.3" stroke="#d0d0d0" stroke-width="0.8" stroke-dasharray="1.5,1.5"/>
<line x1="413.5" y1="116.2" x2="749.0" y2="116.2" stroke="#d0d0d0" stroke-width="0.8" stroke-dasharray="1.5,1.5"/>
<line x1="413.5" y1="54.1" x2="749.0" y2="54.1" stroke="#d0d0d0" stroke-width="0.8" stroke-dasharray="1.5,1.5"/>
<g fill="none" stroke="#222" stroke-width="0.95">
<circle cx="486.6" cy="66.5" r="2.8"/>
<circle cx="487.0" cy="66.5" r="2.8"/>
<circle cx="501.3" cy="66.5" r="2.8"/>
<circle cx="504.4" cy="66.5" r="2.8"/>
<circle cx="507.6" cy="66.5" r="2.8"/>
<circle cx="509.7" cy="66.5" r="2.8"/>
<circle cx="524.4" cy="66.5" r="2.8"/>
<circle cx="527.6" cy="66.5" r="2.8"/>
<circle cx="530.7" cy="66.5" r="2.8"/>
<circle cx="552.8" cy="66.5" r="2.8"/>
<circle cx="559.1" cy="66.5" r="2.8"/>
<circle cx="569.0" cy="66.5" r="2.8"/>
<circle cx="572.0" cy="66.5" r="2.8"/>
<circle cx="576.0" cy="66.5" r="2.8"/>
<circle cx="579.0" cy="66.5" r="2.8"/>
<circle cx="582.0" cy="66.5" r="2.8"/>
<circle cx="592.0" cy="66.5" r="2.8"/>
<circle cx="595.0" cy="66.5" r="2.8"/>
<circle cx="600.0" cy="66.5" r="2.8"/>
<circle cx="604.0" cy="66.5" r="2.8"/>
<circle cx="608.0" cy="66.5" r="2.8"/>
<circle cx="612.0" cy="66.5" r="2.8"/>
<circle cx="616.0" cy="66.5" r="2.8"/>
<circle cx="623.6" cy="66.5" r="2.8"/>
<circle cx="663.3" cy="66.5" r="2.8"/>
<circle cx="669.5" cy="66.5" r="2.8"/>
<circle cx="672.3" cy="66.5" r="2.8"/>
<circle cx="680.0" cy="66.5" r="2.8"/>
<circle cx="669.4" cy="66.5" r="2.8"/>
<circle cx="678.9" cy="66.5" r="2.8"/>
<circle cx="632.3" cy="66.5" r="2.8"/>
<circle cx="655.1" cy="66.5" r="2.8"/>
<circle cx="680.0" cy="66.5" r="2.8"/>
<circle cx="664.7" cy="66.5" r="2.8"/>
<circle cx="677.8" cy="66.5" r="2.8"/>
<circle cx="636.7" cy="66.5" r="2.8"/>
<circle cx="655.3" cy="66.5" r="2.8"/>
<circle cx="643.7" cy="66.5" r="2.8"/>
<circle cx="659.2" cy="66.5" r="2.8"/>
<circle cx="660.8" cy="66.5" r="2.8"/>
<circle cx="631.5" cy="66.5" r="2.8"/>
<circle cx="642.1" cy="66.5" r="2.8"/>
<circle cx="645.4" cy="66.5" r="2.8"/>
<circle cx="678.6" cy="66.5" r="2.8"/>
<circle cx="670.8" cy="66.5" r="2.8"/>
<circle cx="639.1" cy="66.5" r="2.8"/>
<circle cx="672.4" cy="66.5" r="2.8"/>
<circle cx="638.0" cy="66.5" r="2.8"/>
<circle cx="663.0" cy="66.5" r="2.8"/>
<circle cx="637.4" cy="66.5" r="2.8"/>
<circle cx="630.9" cy="66.5" r="2.8"/>
<circle cx="676.3" cy="66.5" r="2.8"/>
<circle cx="641.7" cy="66.5" r="2.8"/>
<circle cx="642.0" cy="66.5" r="2.8"/>
<circle cx="682.1" cy="66.5" r="2.8"/>
<circle cx="676.3" cy="66.5" r="2.8"/>
<circle cx="645.9" cy="66.5" r="2.8"/>
<circle cx="681.0" cy="66.5" r="2.8"/>
<circle cx="658.9" cy="66.5" r="2.8"/>
<circle cx="666.2" cy="66.5" r="2.8"/>
<circle cx="641.5" cy="66.5" r="2.8"/>
<circle cx="606.0" cy="72.6" r="2.8"/>
<circle cx="658.7" cy="76.7" r="2.8"/>
<circle cx="548.6" cy="82.1" r="2.8"/>
<circle cx="551.7" cy="82.1" r="2.8"/>
<circle cx="556.0" cy="82.1" r="2.8"/>
<circle cx="579.1" cy="82.1" r="2.8"/>
<circle cx="585.4" cy="82.1" r="2.8"/>
<circle cx="630.8" cy="82.1" r="2.8"/>
<circle cx="637.0" cy="82.1" r="2.8"/>
<circle cx="643.2" cy="82.1" r="2.8"/>
<circle cx="654.6" cy="82.1" r="2.8"/>
<circle cx="671.1" cy="82.1" r="2.8"/>
<circle cx="623.5" cy="82.1" r="2.8"/>
<circle cx="618.8" cy="82.1" r="2.8"/>
<circle cx="624.0" cy="82.1" r="2.8"/>
<circle cx="622.6" cy="82.1" r="2.8"/>
<circle cx="611.6" cy="82.1" r="2.8"/>
<circle cx="612.7" cy="82.1" r="2.8"/>
<circle cx="552.8" cy="87.3" r="2.8"/>
<circle cx="558.0" cy="87.3" r="2.8"/>
<circle cx="563.3" cy="87.3" r="2.8"/>
<circle cx="568.6" cy="87.3" r="2.8"/>
<circle cx="572.8" cy="87.3" r="2.8"/>
<circle cx="651.5" cy="87.3" r="2.8"/>
<circle cx="662.8" cy="87.3" r="2.8"/>
<circle cx="585.3" cy="87.3" r="2.8"/>
<circle cx="584.0" cy="87.3" r="2.8"/>
<circle cx="579.0" cy="87.3" r="2.8"/>
<circle cx="593.7" cy="87.3" r="2.8"/>
<circle cx="612.4" cy="87.3" r="2.8"/>
<circle cx="575.2" cy="87.3" r="2.8"/>
<circle cx="617.0" cy="87.3" r="2.8"/>
<circle cx="595.9" cy="87.3" r="2.8"/>
<circle cx="594.2" cy="87.3" r="2.8"/>
<circle cx="625.7" cy="87.3" r="2.8"/>
<circle cx="604.8" cy="87.3" r="2.8"/>
<circle cx="594.6" cy="87.3" r="2.8"/>
<circle cx="604.8" cy="87.3" r="2.8"/>
<circle cx="618.7" cy="87.3" r="2.8"/>
<circle cx="529.2" cy="92.3" r="2.8"/>
<circle cx="577.0" cy="92.3" r="2.8"/>
<circle cx="644.0" cy="92.3" r="2.8"/>
<circle cx="648.0" cy="92.3" r="2.8"/>
<circle cx="582.7" cy="92.3" r="2.8"/>
<circle cx="625.8" cy="92.3" r="2.8"/>
<circle cx="581.1" cy="92.3" r="2.8"/>
<circle cx="615.2" cy="92.3" r="2.8"/>
<circle cx="619.7" cy="92.3" r="2.8"/>
<circle cx="580.8" cy="92.3" r="2.8"/>
<circle cx="617.0" cy="92.3" r="2.8"/>
<circle cx="597.2" cy="92.3" r="2.8"/>
<circle cx="607.2" cy="92.3" r="2.8"/>
<circle cx="511.8" cy="97.2" r="2.8"/>
<circle cx="543.3" cy="97.2" r="2.8"/>
<circle cx="553.8" cy="97.2" r="2.8"/>
<circle cx="568.6" cy="97.2" r="2.8"/>
<circle cx="579.7" cy="97.2" r="2.8"/>
<circle cx="582.6" cy="97.2" r="2.8"/>
<circle cx="592.9" cy="97.2" r="2.8"/>
<circle cx="652.2" cy="97.2" r="2.8"/>
<circle cx="594.1" cy="97.2" r="2.8"/>
<circle cx="636.9" cy="97.2" r="2.8"/>
<circle cx="650.2" cy="97.2" r="2.8"/>
<circle cx="651.2" cy="97.2" r="2.8"/>
<circle cx="605.4" cy="97.2" r="2.8"/>
<circle cx="606.2" cy="97.2" r="2.8"/>
<circle cx="619.2" cy="97.2" r="2.8"/>
<circle cx="638.4" cy="97.2" r="2.8"/>
<circle cx="587.3" cy="97.2" r="2.8"/>
<circle cx="636.3" cy="97.2" r="2.8"/>
<circle cx="640.1" cy="97.2" r="2.8"/>
<circle cx="644.9" cy="97.2" r="2.8"/>
<circle cx="581.8" cy="97.2" r="2.8"/>
<circle cx="651.4" cy="97.2" r="2.8"/>
<circle cx="586.0" cy="97.2" r="2.8"/>
<circle cx="605.1" cy="97.2" r="2.8"/>
<circle cx="625.8" cy="97.2" r="2.8"/>
<circle cx="649.3" cy="97.2" r="2.8"/>
<circle cx="687.4" cy="97.2" r="2.8"/>
<circle cx="697.7" cy="97.2" r="2.8"/>
<circle cx="691.0" cy="97.2" r="2.8"/>
<circle cx="686.9" cy="97.2" r="2.8"/>
<circle cx="687.0" cy="97.2" r="2.8"/>
<circle cx="684.5" cy="97.2" r="2.8"/>
<circle cx="682.8" cy="97.2" r="2.8"/>
<circle cx="684.0" cy="97.2" r="2.8"/>
<circle cx="693.5" cy="97.2" r="2.8"/>
<circle cx="698.9" cy="97.2" r="2.8"/>
<circle cx="684.2" cy="97.2" r="2.8"/>
<circle cx="682.3" cy="97.2" r="2.8"/>
<circle cx="471.9" cy="102.2" r="2.8"/>
<circle cx="515.0" cy="102.2" r="2.8"/>
<circle cx="516.0" cy="102.2" r="2.8"/>
<circle cx="526.5" cy="102.2" r="2.8"/>
<circle cx="530.7" cy="102.2" r="2.8"/>
<circle cx="538.1" cy="102.2" r="2.8"/>
<circle cx="539.0" cy="102.2" r="2.8"/>
<circle cx="544.4" cy="102.2" r="2.8"/>
<circle cx="551.7" cy="102.2" r="2.8"/>
<circle cx="561.2" cy="102.2" r="2.8"/>
<circle cx="567.5" cy="102.2" r="2.8"/>
<circle cx="574.9" cy="102.2" r="2.8"/>
<circle cx="664.8" cy="102.2" r="2.8"/>
<circle cx="623.6" cy="102.2" r="2.8"/>
<circle cx="611.9" cy="102.2" r="2.8"/>
<circle cx="596.6" cy="102.2" r="2.8"/>
<circle cx="629.1" cy="102.2" r="2.8"/>
<circle cx="650.2" cy="102.2" r="2.8"/>
<circle cx="616.5" cy="102.2" r="2.8"/>
<circle cx="613.4" cy="102.2" r="2.8"/>
<circle cx="580.1" cy="102.2" r="2.8"/>
<circle cx="658.4" cy="102.2" r="2.8"/>
<circle cx="578.0" cy="102.2" r="2.8"/>
<circle cx="619.9" cy="102.2" r="2.8"/>
<circle cx="651.3" cy="102.2" r="2.8"/>
<circle cx="586.9" cy="102.2" r="2.8"/>
<circle cx="641.6" cy="102.2" r="2.8"/>
<circle cx="661.4" cy="102.2" r="2.8"/>
<circle cx="632.4" cy="102.2" r="2.8"/>
<circle cx="646.7" cy="102.2" r="2.8"/>
<circle cx="584.7" cy="102.2" r="2.8"/>
<circle cx="614.5" cy="102.2" r="2.8"/>
<circle cx="588.6" cy="102.2" r="2.8"/>
<circle cx="651.9" cy="102.2" r="2.8"/>
<circle cx="601.8" cy="102.2" r="2.8"/>
<circle cx="616.2" cy="102.2" r="2.8"/>
<circle cx="665.9" cy="102.2" r="2.8"/>
<circle cx="652.6" cy="102.2" r="2.8"/>
<circle cx="655.7" cy="107.0" r="2.8"/>
<circle cx="612.5" cy="107.0" r="2.8"/>
<circle cx="615.4" cy="107.0" r="2.8"/>
<circle cx="635.3" cy="107.0" r="2.8"/>
<circle cx="614.6" cy="107.0" r="2.8"/>
<circle cx="599.1" cy="107.0" r="2.8"/>
<circle cx="608.4" cy="107.0" r="2.8"/>
<circle cx="587.1" cy="107.0" r="2.8"/>
<circle cx="606.2" cy="107.0" r="2.8"/>
<circle cx="656.7" cy="107.0" r="2.8"/>
<circle cx="654.4" cy="107.0" r="2.8"/>
<circle cx="626.9" cy="107.0" r="2.8"/>
<circle cx="616.3" cy="107.0" r="2.8"/>
<circle cx="603.0" cy="107.0" r="2.8"/>
<circle cx="582.4" cy="107.0" r="2.8"/>
<circle cx="597.5" cy="107.0" r="2.8"/>
<circle cx="639.7" cy="107.0" r="2.8"/>
<circle cx="646.7" cy="107.0" r="2.8"/>
<circle cx="604.9" cy="107.0" r="2.8"/>
<circle cx="680.7" cy="107.0" r="2.8"/>
<circle cx="680.6" cy="107.0" r="2.8"/>
<circle cx="547.5" cy="112.3" r="2.8"/>
<circle cx="558.0" cy="112.3" r="2.8"/>
<circle cx="561.0" cy="112.3" r="2.8"/>
<circle cx="565.4" cy="112.3" r="2.8"/>
<circle cx="629.5" cy="112.3" r="2.8"/>
<circle cx="627.1" cy="112.3" r="2.8"/>
<circle cx="634.6" cy="112.3" r="2.8"/>
<circle cx="603.5" cy="112.3" r="2.8"/>
<circle cx="630.3" cy="112.3" r="2.8"/>
<circle cx="597.0" cy="112.3" r="2.8"/>
<circle cx="613.1" cy="112.3" r="2.8"/>
<circle cx="635.4" cy="112.3" r="2.8"/>
<circle cx="629.2" cy="112.3" r="2.8"/>
<circle cx="598.1" cy="112.3" r="2.8"/>
<circle cx="649.2" cy="112.3" r="2.8"/>
<circle cx="626.0" cy="112.3" r="2.8"/>
<circle cx="620.6" cy="112.3" r="2.8"/>
<circle cx="575.9" cy="112.3" r="2.8"/>
<circle cx="617.9" cy="112.3" r="2.8"/>
<circle cx="594.7" cy="112.3" r="2.8"/>
<circle cx="627.7" cy="112.3" r="2.8"/>
<circle cx="611.3" cy="112.3" r="2.8"/>
<circle cx="639.1" cy="112.3" r="2.8"/>
<circle cx="625.8" cy="112.3" r="2.8"/>
<circle cx="637.6" cy="112.3" r="2.8"/>
<circle cx="602.3" cy="112.3" r="2.8"/>
<circle cx="684.0" cy="112.3" r="2.8"/>
<circle cx="685.8" cy="112.3" r="2.8"/>
<circle cx="687.5" cy="112.3" r="2.8"/>
<circle cx="678.5" cy="112.3" r="2.8"/>
<circle cx="530.7" cy="116.2" r="2.8"/>
<circle cx="574.9" cy="116.2" r="2.8"/>
<circle cx="678.3" cy="116.2" r="2.8"/>
<circle cx="694.9" cy="116.2" r="2.8"/>
<circle cx="495.0" cy="121.7" r="2.8"/>
<circle cx="504.4" cy="121.7" r="2.8"/>
<circle cx="509.0" cy="121.7" r="2.8"/>
<circle cx="515.0" cy="121.7" r="2.8"/>
<circle cx="520.2" cy="121.7" r="2.8"/>
<circle cx="535.0" cy="121.7" r="2.8"/>
<circle cx="538.0" cy="121.7" r="2.8"/>
<circle cx="541.2" cy="121.7" r="2.8"/>
<circle cx="556.0" cy="121.7" r="2.8"/>
<circle cx="642.3" cy="121.7" r="2.8"/>
<circle cx="644.6" cy="121.7" r="2.8"/>
<circle cx="629.1" cy="121.7" r="2.8"/>
<circle cx="653.6" cy="121.7" r="2.8"/>
<circle cx="651.9" cy="121.7" r="2.8"/>
<circle cx="614.7" cy="121.7" r="2.8"/>
<circle cx="615.6" cy="121.7" r="2.8"/>
<circle cx="584.8" cy="121.7" r="2.8"/>
<circle cx="641.7" cy="121.7" r="2.8"/>
<circle cx="650.3" cy="121.7" r="2.8"/>
<circle cx="611.2" cy="121.7" r="2.8"/>
<circle cx="629.4" cy="121.7" r="2.8"/>
<circle cx="631.8" cy="121.7" r="2.8"/>
<circle cx="632.7" cy="121.7" r="2.8"/>
<circle cx="585.3" cy="121.7" r="2.8"/>
<circle cx="637.0" cy="121.7" r="2.8"/>
<circle cx="620.0" cy="121.7" r="2.8"/>
<circle cx="627.2" cy="121.7" r="2.8"/>
<circle cx="606.4" cy="121.7" r="2.8"/>
<circle cx="623.7" cy="121.7" r="2.8"/>
<circle cx="636.5" cy="121.7" r="2.8"/>
<circle cx="624.8" cy="121.7" r="2.8"/>
<circle cx="631.9" cy="121.7" r="2.8"/>
<circle cx="573.0" cy="121.7" r="2.8"/>
<circle cx="480.3" cy="128.3" r="2.8"/>
<circle cx="678.3" cy="128.3" r="2.8"/>
<circle cx="506.7" cy="128.3" r="2.8"/>
<circle cx="516.2" cy="128.3" r="2.8"/>
<circle cx="523.2" cy="128.3" r="2.8"/>
<circle cx="508.7" cy="128.3" r="2.8"/>
<circle cx="524.4" cy="128.3" r="2.8"/>
<circle cx="522.6" cy="128.3" r="2.8"/>
<circle cx="502.7" cy="128.3" r="2.8"/>
<circle cx="517.2" cy="128.3" r="2.8"/>
<circle cx="508.9" cy="128.3" r="2.8"/>
<circle cx="503.1" cy="128.3" r="2.8"/>
<circle cx="555.9" cy="128.3" r="2.8"/>
<circle cx="579.3" cy="128.3" r="2.8"/>
<circle cx="562.0" cy="128.3" r="2.8"/>
<circle cx="563.5" cy="128.3" r="2.8"/>
<circle cx="543.5" cy="128.3" r="2.8"/>
<circle cx="598.1" cy="128.3" r="2.8"/>
<circle cx="587.3" cy="128.3" r="2.8"/>
<circle cx="616.6" cy="128.3" r="2.8"/>
<circle cx="613.9" cy="128.3" r="2.8"/>
<circle cx="569.2" cy="128.3" r="2.8"/>
<circle cx="653.6" cy="128.3" r="2.8"/>
<circle cx="539.1" cy="128.3" r="2.8"/>
<circle cx="590.4" cy="128.3" r="2.8"/>
<circle cx="574.3" cy="128.3" r="2.8"/>
<circle cx="591.0" cy="128.3" r="2.8"/>
<circle cx="553.6" cy="128.3" r="2.8"/>
<circle cx="644.5" cy="128.3" r="2.8"/>
<circle cx="586.4" cy="128.3" r="2.8"/>
<circle cx="543.6" cy="128.3" r="2.8"/>
<circle cx="616.9" cy="128.3" r="2.8"/>
<circle cx="551.0" cy="128.3" r="2.8"/>
<circle cx="608.2" cy="128.3" r="2.8"/>
<circle cx="582.1" cy="128.3" r="2.8"/>
<circle cx="612.7" cy="128.3" r="2.8"/>
<circle cx="660.6" cy="128.3" r="2.8"/>
<circle cx="642.9" cy="128.3" r="2.8"/>
<circle cx="592.2" cy="128.3" r="2.8"/>
<circle cx="642.2" cy="128.3" r="2.8"/>
<circle cx="620.5" cy="128.3" r="2.8"/>
<circle cx="585.9" cy="128.3" r="2.8"/>
<circle cx="557.0" cy="128.3" r="2.8"/>
<circle cx="614.6" cy="128.3" r="2.8"/>
<circle cx="610.6" cy="128.3" r="2.8"/>
<circle cx="660.5" cy="128.3" r="2.8"/>
<circle cx="661.8" cy="128.3" r="2.8"/>
<circle cx="616.2" cy="128.3" r="2.8"/>
<circle cx="583.6" cy="128.3" r="2.8"/>
<circle cx="652.4" cy="128.3" r="2.8"/>
<circle cx="539.1" cy="128.3" r="2.8"/>
<circle cx="552.7" cy="128.3" r="2.8"/>
<circle cx="610.8" cy="128.3" r="2.8"/>
<circle cx="680.4" cy="134.7" r="2.8"/>
<circle cx="686.6" cy="134.7" r="2.8"/>
<circle cx="581.0" cy="134.7" r="2.8"/>
<circle cx="569.8" cy="134.7" r="2.8"/>
<circle cx="581.3" cy="134.7" r="2.8"/>
<circle cx="587.4" cy="134.7" r="2.8"/>
<circle cx="575.3" cy="134.7" r="2.8"/>
<circle cx="622.7" cy="134.7" r="2.8"/>
<circle cx="610.8" cy="134.7" r="2.8"/>
<circle cx="614.6" cy="134.7" r="2.8"/>
<circle cx="654.0" cy="134.7" r="2.8"/>
<circle cx="619.7" cy="134.7" r="2.8"/>
<circle cx="653.3" cy="134.7" r="2.8"/>
<circle cx="650.6" cy="134.7" r="2.8"/>
<circle cx="632.2" cy="134.7" r="2.8"/>
<circle cx="612.7" cy="134.7" r="2.8"/>
<circle cx="654.5" cy="134.7" r="2.8"/>
<circle cx="626.4" cy="134.7" r="2.8"/>
<circle cx="621.8" cy="134.7" r="2.8"/>
<circle cx="616.2" cy="134.7" r="2.8"/>
<circle cx="654.7" cy="134.7" r="2.8"/>
<circle cx="626.2" cy="134.7" r="2.8"/>
<circle cx="614.3" cy="134.7" r="2.8"/>
<circle cx="625.3" cy="134.7" r="2.8"/>
<circle cx="491.8" cy="140.4" r="2.8"/>
<circle cx="551.7" cy="140.4" r="2.8"/>
<circle cx="556.0" cy="140.4" r="2.8"/>
<circle cx="581.2" cy="140.4" r="2.8"/>
<circle cx="612.2" cy="140.4" r="2.8"/>
<circle cx="629.8" cy="140.4" r="2.8"/>
<circle cx="510.7" cy="147.2" r="2.8"/>
<circle cx="516.0" cy="147.2" r="2.8"/>
<circle cx="519.0" cy="147.2" r="2.8"/>
<circle cx="522.3" cy="147.2" r="2.8"/>
<circle cx="532.7" cy="147.2" r="2.8"/>
<circle cx="541.1" cy="147.2" r="2.8"/>
<circle cx="538.2" cy="147.2" r="2.8"/>
<circle cx="535.6" cy="147.2" r="2.8"/>
<circle cx="543.8" cy="147.2" r="2.8"/>
<circle cx="625.3" cy="147.2" r="2.8"/>
<circle cx="561.1" cy="147.2" r="2.8"/>
<circle cx="602.1" cy="147.2" r="2.8"/>
<circle cx="581.7" cy="147.2" r="2.8"/>
<circle cx="633.9" cy="147.2" r="2.8"/>
<circle cx="621.8" cy="147.2" r="2.8"/>
<circle cx="579.5" cy="147.2" r="2.8"/>
<circle cx="581.2" cy="147.2" r="2.8"/>
<circle cx="572.3" cy="147.2" r="2.8"/>
<circle cx="638.1" cy="147.2" r="2.8"/>
<circle cx="583.2" cy="147.2" r="2.8"/>
<circle cx="608.1" cy="147.2" r="2.8"/>
<circle cx="597.5" cy="147.2" r="2.8"/>
<circle cx="611.0" cy="147.2" r="2.8"/>
<circle cx="607.7" cy="147.2" r="2.8"/>
<circle cx="618.8" cy="147.2" r="2.8"/>
<circle cx="569.4" cy="147.2" r="2.8"/>
<circle cx="620.1" cy="147.2" r="2.8"/>
<circle cx="583.8" cy="147.2" r="2.8"/>
<circle cx="602.2" cy="147.2" r="2.8"/>
<circle cx="586.6" cy="147.2" r="2.8"/>
<circle cx="583.5" cy="147.2" r="2.8"/>
<circle cx="601.9" cy="147.2" r="2.8"/>
<circle cx="596.7" cy="147.2" r="2.8"/>
<circle cx="588.6" cy="147.2" r="2.8"/>
<circle cx="664.3" cy="147.2" r="2.8"/>
<circle cx="660.8" cy="147.2" r="2.8"/>
<circle cx="648.1" cy="147.2" r="2.8"/>
<circle cx="653.1" cy="147.2" r="2.8"/>
<circle cx="657.7" cy="147.2" r="2.8"/>
<circle cx="447.7" cy="153.5" r="2.8"/>
<circle cx="472.9" cy="153.5" r="2.8"/>
<circle cx="479.2" cy="153.5" r="2.8"/>
<circle cx="484.5" cy="153.5" r="2.8"/>
<circle cx="519.8" cy="153.5" r="2.8"/>
<circle cx="519.0" cy="153.5" r="2.8"/>
<circle cx="508.9" cy="153.5" r="2.8"/>
<circle cx="493.3" cy="153.5" r="2.8"/>
<circle cx="515.8" cy="153.5" r="2.8"/>
<circle cx="505.5" cy="153.5" r="2.8"/>
<circle cx="509.8" cy="153.5" r="2.8"/>
<circle cx="513.7" cy="153.5" r="2.8"/>
<circle cx="511.5" cy="153.5" r="2.8"/>
<circle cx="507.1" cy="153.5" r="2.8"/>
<circle cx="653.6" cy="153.5" r="2.8"/>
<circle cx="580.2" cy="153.5" r="2.8"/>
<circle cx="581.1" cy="153.5" r="2.8"/>
<circle cx="645.3" cy="153.5" r="2.8"/>
<circle cx="553.9" cy="153.5" r="2.8"/>
<circle cx="567.8" cy="153.5" r="2.8"/>
<circle cx="642.2" cy="153.5" r="2.8"/>
<circle cx="535.7" cy="153.5" r="2.8"/>
<circle cx="643.1" cy="153.5" r="2.8"/>
<circle cx="623.3" cy="153.5" r="2.8"/>
<circle cx="586.8" cy="153.5" r="2.8"/>
<circle cx="566.4" cy="153.5" r="2.8"/>
<circle cx="635.3" cy="153.5" r="2.8"/>
<circle cx="653.4" cy="153.5" r="2.8"/>
<circle cx="546.4" cy="153.5" r="2.8"/>
<circle cx="593.2" cy="153.5" r="2.8"/>
<circle cx="603.0" cy="153.5" r="2.8"/>
<circle cx="595.9" cy="153.5" r="2.8"/>
<circle cx="572.6" cy="153.5" r="2.8"/>
<circle cx="547.9" cy="153.5" r="2.8"/>
<circle cx="608.2" cy="153.5" r="2.8"/>
<circle cx="639.7" cy="153.5" r="2.8"/>
<circle cx="536.0" cy="153.5" r="2.8"/>
<circle cx="558.6" cy="153.5" r="2.8"/>
<circle cx="640.8" cy="153.5" r="2.8"/>
<circle cx="636.9" cy="153.5" r="2.8"/>
<circle cx="619.0" cy="153.5" r="2.8"/>
<circle cx="530.1" cy="153.5" r="2.8"/>
<circle cx="627.2" cy="153.5" r="2.8"/>
<circle cx="662.9" cy="153.5" r="2.8"/>
<circle cx="665.7" cy="153.5" r="2.8"/>
<circle cx="624.3" cy="153.5" r="2.8"/>
<circle cx="533.3" cy="153.5" r="2.8"/>
<circle cx="643.9" cy="153.5" r="2.8"/>
<circle cx="557.1" cy="153.5" r="2.8"/>
<circle cx="616.5" cy="153.5" r="2.8"/>
<circle cx="659.2" cy="153.5" r="2.8"/>
<circle cx="625.8" cy="153.5" r="2.8"/>
<circle cx="545.3" cy="153.5" r="2.8"/>
<circle cx="567.3" cy="153.5" r="2.8"/>
<circle cx="654.5" cy="153.5" r="2.8"/>
<circle cx="547.4" cy="153.5" r="2.8"/>
<circle cx="611.6" cy="153.5" r="2.8"/>
<circle cx="584.2" cy="153.5" r="2.8"/>
<circle cx="549.0" cy="153.5" r="2.8"/>
<circle cx="613.3" cy="153.5" r="2.8"/>
<circle cx="532.6" cy="153.5" r="2.8"/>
<circle cx="541.6" cy="153.5" r="2.8"/>
<circle cx="579.4" cy="153.5" r="2.8"/>
<circle cx="536.5" cy="153.5" r="2.8"/>
<circle cx="534.5" cy="153.5" r="2.8"/>
<circle cx="606.7" cy="153.5" r="2.8"/>
<circle cx="565.8" cy="159.8" r="2.8"/>
<circle cx="578.6" cy="159.8" r="2.8"/>
<circle cx="508.6" cy="159.8" r="2.8"/>
<circle cx="536.6" cy="159.8" r="2.8"/>
<circle cx="525.6" cy="159.8" r="2.8"/>
<circle cx="552.4" cy="159.8" r="2.8"/>
<circle cx="542.0" cy="159.8" r="2.8"/>
<circle cx="584.2" cy="159.8" r="2.8"/>
<circle cx="531.2" cy="159.8" r="2.8"/>
<circle cx="501.2" cy="159.8" r="2.8"/>
<circle cx="561.5" cy="159.8" r="2.8"/>
<circle cx="510.2" cy="159.8" r="2.8"/>
<circle cx="555.3" cy="159.8" r="2.8"/>
<circle cx="607.5" cy="159.8" r="2.8"/>
<circle cx="621.5" cy="159.8" r="2.8"/>
<circle cx="609.2" cy="159.8" r="2.8"/>
<circle cx="611.5" cy="159.8" r="2.8"/>
<circle cx="599.1" cy="159.8" r="2.8"/>
<circle cx="609.1" cy="159.8" r="2.8"/>
<circle cx="598.8" cy="159.8" r="2.8"/>
<circle cx="616.0" cy="159.8" r="2.8"/>
<circle cx="656.9" cy="159.8" r="2.8"/>
<circle cx="651.3" cy="159.8" r="2.8"/>
<circle cx="652.8" cy="159.8" r="2.8"/>
<circle cx="463.5" cy="166.0" r="2.8"/>
<circle cx="469.8" cy="166.0" r="2.8"/>
<circle cx="481.3" cy="166.0" r="2.8"/>
<circle cx="675.2" cy="166.0" r="2.8"/>
<circle cx="565.2" cy="166.0" r="2.8"/>
<circle cx="626.1" cy="166.0" r="2.8"/>
<circle cx="533.3" cy="166.0" r="2.8"/>
<circle cx="622.2" cy="166.0" r="2.8"/>
<circle cx="612.5" cy="166.0" r="2.8"/>
<circle cx="517.6" cy="166.0" r="2.8"/>
<circle cx="614.7" cy="166.0" r="2.8"/>
<circle cx="518.6" cy="166.0" r="2.8"/>
<circle cx="524.2" cy="166.0" r="2.8"/>
<circle cx="602.4" cy="166.0" r="2.8"/>
<circle cx="543.1" cy="166.0" r="2.8"/>
<circle cx="649.5" cy="166.0" r="2.8"/>
<circle cx="583.4" cy="166.0" r="2.8"/>
<circle cx="557.3" cy="166.0" r="2.8"/>
<circle cx="636.1" cy="166.0" r="2.8"/>
<circle cx="508.3" cy="166.0" r="2.8"/>
<circle cx="624.2" cy="166.0" r="2.8"/>
<circle cx="512.3" cy="166.0" r="2.8"/>
<circle cx="528.5" cy="166.0" r="2.8"/>
<circle cx="662.0" cy="166.0" r="2.8"/>
<circle cx="616.9" cy="166.0" r="2.8"/>
<circle cx="540.6" cy="166.0" r="2.8"/>
<circle cx="522.7" cy="166.0" r="2.8"/>
<circle cx="665.5" cy="166.0" r="2.8"/>
<circle cx="614.2" cy="166.0" r="2.8"/>
<circle cx="640.1" cy="166.0" r="2.8"/>
<circle cx="526.7" cy="166.0" r="2.8"/>
<circle cx="607.5" cy="166.0" r="2.8"/>
<circle cx="562.4" cy="166.0" r="2.8"/>
<circle cx="542.6" cy="166.0" r="2.8"/>
<circle cx="558.9" cy="166.0" r="2.8"/>
<circle cx="605.7" cy="166.0" r="2.8"/>
<circle cx="561.5" cy="166.0" r="2.8"/>
<circle cx="567.7" cy="166.0" r="2.8"/>
<circle cx="526.1" cy="166.0" r="2.8"/>
<circle cx="641.9" cy="166.0" r="2.8"/>
<circle cx="611.3" cy="166.0" r="2.8"/>
<circle cx="637.4" cy="166.0" r="2.8"/>
<circle cx="575.6" cy="166.0" r="2.8"/>
<circle cx="645.3" cy="166.0" r="2.8"/>
<circle cx="589.6" cy="166.0" r="2.8"/>
<circle cx="602.1" cy="166.0" r="2.8"/>
<circle cx="598.9" cy="166.0" r="2.8"/>
<circle cx="626.7" cy="166.0" r="2.8"/>
<circle cx="569.3" cy="166.0" r="2.8"/>
<circle cx="519.6" cy="166.0" r="2.8"/>
<circle cx="508.9" cy="166.0" r="2.8"/>
<circle cx="537.1" cy="166.0" r="2.8"/>
<circle cx="510.0" cy="166.0" r="2.8"/>
<circle cx="651.6" cy="166.0" r="2.8"/>
<circle cx="583.5" cy="166.0" r="2.8"/>
<circle cx="630.1" cy="166.0" r="2.8"/>
<circle cx="503.5" cy="166.0" r="2.8"/>
<circle cx="581.7" cy="166.0" r="2.8"/>
<circle cx="651.6" cy="166.0" r="2.8"/>
<circle cx="606.6" cy="166.0" r="2.8"/>
<circle cx="574.8" cy="166.0" r="2.8"/>
<circle cx="463.5" cy="171.8" r="2.8"/>
<circle cx="479.8" cy="171.8" r="2.8"/>
<circle cx="495.0" cy="171.8" r="2.8"/>
<circle cx="499.2" cy="171.8" r="2.8"/>
<circle cx="670.0" cy="171.8" r="2.8"/>
<circle cx="675.2" cy="171.8" r="2.8"/>
<circle cx="682.5" cy="171.8" r="2.8"/>
<circle cx="582.6" cy="171.8" r="2.8"/>
<circle cx="527.0" cy="171.8" r="2.8"/>
<circle cx="535.3" cy="171.8" r="2.8"/>
<circle cx="536.0" cy="171.8" r="2.8"/>
<circle cx="568.8" cy="171.8" r="2.8"/>
<circle cx="570.5" cy="171.8" r="2.8"/>
<circle cx="645.7" cy="171.8" r="2.8"/>
<circle cx="534.9" cy="171.8" r="2.8"/>
<circle cx="550.4" cy="171.8" r="2.8"/>
<circle cx="554.0" cy="171.8" r="2.8"/>
<circle cx="536.4" cy="171.8" r="2.8"/>
<circle cx="555.5" cy="171.8" r="2.8"/>
<circle cx="547.6" cy="171.8" r="2.8"/>
<circle cx="585.1" cy="171.8" r="2.8"/>
<circle cx="516.7" cy="171.8" r="2.8"/>
<circle cx="652.4" cy="171.8" r="2.8"/>
<circle cx="567.9" cy="171.8" r="2.8"/>
<circle cx="654.5" cy="171.8" r="2.8"/>
<circle cx="616.4" cy="171.8" r="2.8"/>
<circle cx="614.3" cy="171.8" r="2.8"/>
<circle cx="583.6" cy="171.8" r="2.8"/>
<circle cx="655.6" cy="171.8" r="2.8"/>
<circle cx="529.7" cy="171.8" r="2.8"/>
<circle cx="613.5" cy="171.8" r="2.8"/>
<circle cx="556.1" cy="171.8" r="2.8"/>
<circle cx="614.4" cy="171.8" r="2.8"/>
<circle cx="622.7" cy="171.8" r="2.8"/>
<circle cx="536.6" cy="171.8" r="2.8"/>
<circle cx="542.4" cy="171.8" r="2.8"/>
<circle cx="515.6" cy="171.8" r="2.8"/>
<circle cx="546.9" cy="171.8" r="2.8"/>
<circle cx="523.7" cy="171.8" r="2.8"/>
<circle cx="572.8" cy="171.8" r="2.8"/>
<circle cx="659.9" cy="171.8" r="2.8"/>
<circle cx="567.2" cy="171.8" r="2.8"/>
<circle cx="559.2" cy="171.8" r="2.8"/>
<circle cx="583.0" cy="171.8" r="2.8"/>
<circle cx="554.9" cy="171.8" r="2.8"/>
<circle cx="623.2" cy="171.8" r="2.8"/>
<circle cx="621.0" cy="171.8" r="2.8"/>
<circle cx="536.6" cy="171.8" r="2.8"/>
<circle cx="548.4" cy="171.8" r="2.8"/>
<circle cx="614.0" cy="171.8" r="2.8"/>
<circle cx="654.8" cy="171.8" r="2.8"/>
<circle cx="610.0" cy="171.8" r="2.8"/>
<circle cx="577.3" cy="171.8" r="2.8"/>
<circle cx="660.2" cy="171.8" r="2.8"/>
<circle cx="512.8" cy="171.8" r="2.8"/>
<circle cx="521.1" cy="171.8" r="2.8"/>
<circle cx="630.3" cy="171.8" r="2.8"/>
<circle cx="574.2" cy="171.8" r="2.8"/>
<circle cx="518.6" cy="171.8" r="2.8"/>
<circle cx="489.7" cy="178.1" r="2.8"/>
<circle cx="587.5" cy="178.1" r="2.8"/>
<circle cx="650.0" cy="178.1" r="2.8"/>
<circle cx="583.3" cy="178.1" r="2.8"/>
<circle cx="559.3" cy="178.1" r="2.8"/>
<circle cx="523.0" cy="178.1" r="2.8"/>
<circle cx="519.8" cy="178.1" r="2.8"/>
<circle cx="637.1" cy="178.1" r="2.8"/>
<circle cx="579.3" cy="178.1" r="2.8"/>
<circle cx="642.4" cy="178.1" r="2.8"/>
<circle cx="517.3" cy="178.1" r="2.8"/>
<circle cx="544.2" cy="178.1" r="2.8"/>
<circle cx="516.9" cy="178.1" r="2.8"/>
<circle cx="566.0" cy="178.1" r="2.8"/>
<circle cx="518.2" cy="178.1" r="2.8"/>
<circle cx="545.9" cy="178.1" r="2.8"/>
<circle cx="567.5" cy="178.1" r="2.8"/>
<circle cx="553.1" cy="178.1" r="2.8"/>
<circle cx="517.0" cy="178.1" r="2.8"/>
<circle cx="515.0" cy="178.1" r="2.8"/>
<circle cx="647.5" cy="178.1" r="2.8"/>
<circle cx="535.1" cy="178.1" r="2.8"/>
<circle cx="581.8" cy="178.1" r="2.8"/>
<circle cx="566.8" cy="178.1" r="2.8"/>
<circle cx="585.0" cy="178.1" r="2.8"/>
<circle cx="521.7" cy="178.1" r="2.8"/>
<circle cx="554.2" cy="178.1" r="2.8"/>
<circle cx="525.0" cy="178.1" r="2.8"/>
<circle cx="586.5" cy="178.1" r="2.8"/>
<circle cx="640.3" cy="178.1" r="2.8"/>
<circle cx="594.5" cy="178.1" r="2.8"/>
<circle cx="631.2" cy="178.1" r="2.8"/>
<circle cx="540.1" cy="178.1" r="2.8"/>
<circle cx="512.2" cy="178.1" r="2.8"/>
<circle cx="586.2" cy="178.1" r="2.8"/>
<circle cx="578.7" cy="178.1" r="2.8"/>
<circle cx="590.7" cy="178.1" r="2.8"/>
<circle cx="563.1" cy="178.1" r="2.8"/>
<circle cx="598.3" cy="178.1" r="2.8"/>
<circle cx="612.6" cy="178.1" r="2.8"/>
<circle cx="639.2" cy="178.1" r="2.8"/>
<circle cx="553.3" cy="178.1" r="2.8"/>
<circle cx="573.4" cy="178.1" r="2.8"/>
<circle cx="626.9" cy="178.1" r="2.8"/>
<circle cx="541.5" cy="178.1" r="2.8"/>
<circle cx="526.1" cy="178.1" r="2.8"/>
<circle cx="553.9" cy="178.1" r="2.8"/>
<circle cx="428.1" cy="184.0" r="2.8"/>
<circle cx="451.9" cy="184.0" r="2.8"/>
<circle cx="461.4" cy="184.0" r="2.8"/>
<circle cx="465.6" cy="184.0" r="2.8"/>
<circle cx="497.6" cy="184.0" r="2.8"/>
<circle cx="616.2" cy="184.0" r="2.8"/>
<circle cx="624.3" cy="184.0" r="2.8"/>
<circle cx="536.6" cy="184.0" r="2.8"/>
<circle cx="504.9" cy="184.0" r="2.8"/>
<circle cx="496.6" cy="184.0" r="2.8"/>
<circle cx="524.8" cy="184.0" r="2.8"/>
<circle cx="497.0" cy="184.0" r="2.8"/>
<circle cx="556.6" cy="184.0" r="2.8"/>
<circle cx="582.3" cy="184.0" r="2.8"/>
<circle cx="524.9" cy="184.0" r="2.8"/>
<circle cx="493.0" cy="184.0" r="2.8"/>
<circle cx="603.7" cy="184.0" r="2.8"/>
<circle cx="490.7" cy="184.0" r="2.8"/>
<circle cx="517.0" cy="184.0" r="2.8"/>
<circle cx="531.9" cy="184.0" r="2.8"/>
<circle cx="547.1" cy="184.0" r="2.8"/>
<circle cx="499.5" cy="184.0" r="2.8"/>
<circle cx="555.2" cy="184.0" r="2.8"/>
<circle cx="536.8" cy="184.0" r="2.8"/>
<circle cx="612.7" cy="184.0" r="2.8"/>
<circle cx="578.7" cy="184.0" r="2.8"/>
<circle cx="637.6" cy="184.0" r="2.8"/>
<circle cx="595.7" cy="184.0" r="2.8"/>
<circle cx="614.0" cy="184.0" r="2.8"/>
<circle cx="581.9" cy="184.0" r="2.8"/>
<circle cx="559.0" cy="184.0" r="2.8"/>
<circle cx="623.9" cy="184.0" r="2.8"/>
<circle cx="595.9" cy="184.0" r="2.8"/>
<circle cx="647.8" cy="184.0" r="2.8"/>
<circle cx="608.5" cy="184.0" r="2.8"/>
<circle cx="603.8" cy="184.0" r="2.8"/>
<circle cx="528.8" cy="184.0" r="2.8"/>
<circle cx="623.1" cy="184.0" r="2.8"/>
<circle cx="548.6" cy="184.0" r="2.8"/>
<circle cx="505.0" cy="184.0" r="2.8"/>
<circle cx="493.8" cy="184.0" r="2.8"/>
<circle cx="511.7" cy="184.0" r="2.8"/>
<circle cx="527.9" cy="184.0" r="2.8"/>
<circle cx="599.5" cy="184.0" r="2.8"/>
<circle cx="531.9" cy="184.0" r="2.8"/>
<circle cx="493.4" cy="184.0" r="2.8"/>
<circle cx="614.7" cy="184.0" r="2.8"/>
<circle cx="578.9" cy="184.0" r="2.8"/>
<circle cx="487.2" cy="184.0" r="2.8"/>
<circle cx="491.2" cy="184.0" r="2.8"/>
<circle cx="504.9" cy="184.0" r="2.8"/>
<circle cx="544.3" cy="184.0" r="2.8"/>
<circle cx="631.3" cy="184.0" r="2.8"/>
<circle cx="646.8" cy="184.0" r="2.8"/>
<circle cx="588.4" cy="184.0" r="2.8"/>
<circle cx="522.4" cy="184.0" r="2.8"/>
<circle cx="556.7" cy="184.0" r="2.8"/>
<circle cx="545.2" cy="184.0" r="2.8"/>
<circle cx="539.6" cy="184.0" r="2.8"/>
<circle cx="484.6" cy="184.0" r="2.8"/>
<circle cx="583.6" cy="184.0" r="2.8"/>
<circle cx="625.6" cy="184.0" r="2.8"/>
<circle cx="608.3" cy="184.0" r="2.8"/>
<circle cx="498.9" cy="184.0" r="2.8"/>
<circle cx="467.7" cy="190.3" r="2.8"/>
<circle cx="474.0" cy="190.3" r="2.8"/>
<circle cx="484.5" cy="190.3" r="2.8"/>
<circle cx="490.8" cy="190.3" r="2.8"/>
<circle cx="588.5" cy="190.3" r="2.8"/>
<circle cx="530.9" cy="190.3" r="2.8"/>
<circle cx="617.3" cy="190.3" r="2.8"/>
<circle cx="575.0" cy="190.3" r="2.8"/>
<circle cx="654.0" cy="190.3" r="2.8"/>
<circle cx="631.0" cy="190.3" r="2.8"/>
<circle cx="522.4" cy="190.3" r="2.8"/>
<circle cx="554.3" cy="190.3" r="2.8"/>
<circle cx="650.3" cy="190.3" r="2.8"/>
<circle cx="577.4" cy="190.3" r="2.8"/>
<circle cx="573.1" cy="190.3" r="2.8"/>
<circle cx="574.2" cy="190.3" r="2.8"/>
<circle cx="626.6" cy="190.3" r="2.8"/>
<circle cx="653.7" cy="190.3" r="2.8"/>
<circle cx="588.9" cy="190.3" r="2.8"/>
<circle cx="659.0" cy="190.3" r="2.8"/>
<circle cx="599.1" cy="190.3" r="2.8"/>
<circle cx="520.0" cy="190.3" r="2.8"/>
<circle cx="634.1" cy="190.3" r="2.8"/>
<circle cx="570.7" cy="190.3" r="2.8"/>
<circle cx="511.8" cy="190.3" r="2.8"/>
<circle cx="660.4" cy="190.3" r="2.8"/>
<circle cx="508.7" cy="190.3" r="2.8"/>
<circle cx="596.0" cy="190.3" r="2.8"/>
<circle cx="580.8" cy="190.3" r="2.8"/>
<circle cx="644.9" cy="190.3" r="2.8"/>
<circle cx="566.4" cy="190.3" r="2.8"/>
<circle cx="538.0" cy="190.3" r="2.8"/>
<circle cx="547.9" cy="190.3" r="2.8"/>
<circle cx="535.7" cy="190.3" r="2.8"/>
<circle cx="593.7" cy="190.3" r="2.8"/>
<circle cx="560.7" cy="190.3" r="2.8"/>
<circle cx="623.9" cy="190.3" r="2.8"/>
<circle cx="542.2" cy="190.3" r="2.8"/>
<circle cx="559.9" cy="190.3" r="2.8"/>
<circle cx="543.2" cy="190.3" r="2.8"/>
<circle cx="661.1" cy="190.3" r="2.8"/>
<circle cx="638.3" cy="190.3" r="2.8"/>
<circle cx="639.8" cy="190.3" r="2.8"/>
<circle cx="602.6" cy="190.3" r="2.8"/>
<circle cx="567.7" cy="190.3" r="2.8"/>
<circle cx="526.4" cy="190.3" r="2.8"/>
<circle cx="636.9" cy="190.3" r="2.8"/>
<circle cx="582.1" cy="190.3" r="2.8"/>
<circle cx="509.5" cy="190.3" r="2.8"/>
<circle cx="530.6" cy="190.3" r="2.8"/>
<circle cx="519.2" cy="190.3" r="2.8"/>
<circle cx="618.6" cy="190.3" r="2.8"/>
<circle cx="647.9" cy="190.3" r="2.8"/>
<circle cx="535.4" cy="190.3" r="2.8"/>
<circle cx="631.3" cy="190.3" r="2.8"/>
<circle cx="555.4" cy="190.3" r="2.8"/>
<circle cx="613.0" cy="190.3" r="2.8"/>
<circle cx="641.9" cy="190.3" r="2.8"/>
<circle cx="603.4" cy="190.3" r="2.8"/>
<circle cx="466.6" cy="196.2" r="2.8"/>
<circle cx="474.0" cy="196.2" r="2.8"/>
<circle cx="480.3" cy="196.2" r="2.8"/>
<circle cx="485.5" cy="196.2" r="2.8"/>
<circle cx="622.7" cy="196.2" r="2.8"/>
<circle cx="552.8" cy="196.2" r="2.8"/>
<circle cx="492.5" cy="196.2" r="2.8"/>
<circle cx="575.1" cy="196.2" r="2.8"/>
<circle cx="587.5" cy="196.2" r="2.8"/>
<circle cx="521.2" cy="196.2" r="2.8"/>
<circle cx="554.9" cy="196.2" r="2.8"/>
<circle cx="543.1" cy="196.2" r="2.8"/>
<circle cx="495.3" cy="196.2" r="2.8"/>
<circle cx="542.2" cy="196.2" r="2.8"/>
<circle cx="553.9" cy="196.2" r="2.8"/>
<circle cx="569.3" cy="196.2" r="2.8"/>
<circle cx="606.7" cy="196.2" r="2.8"/>
<circle cx="556.6" cy="196.2" r="2.8"/>
<circle cx="652.7" cy="196.2" r="2.8"/>
<circle cx="625.2" cy="196.2" r="2.8"/>
<circle cx="643.1" cy="196.2" r="2.8"/>
<circle cx="605.0" cy="196.2" r="2.8"/>
<circle cx="601.2" cy="196.2" r="2.8"/>
<circle cx="579.3" cy="196.2" r="2.8"/>
<circle cx="622.4" cy="196.2" r="2.8"/>
<circle cx="550.6" cy="196.2" r="2.8"/>
<circle cx="588.6" cy="196.2" r="2.8"/>
<circle cx="602.8" cy="196.2" r="2.8"/>
<circle cx="576.9" cy="196.2" r="2.8"/>
<circle cx="537.6" cy="196.2" r="2.8"/>
<circle cx="503.6" cy="196.2" r="2.8"/>
<circle cx="505.2" cy="196.2" r="2.8"/>
<circle cx="549.4" cy="196.2" r="2.8"/>
<circle cx="586.4" cy="196.2" r="2.8"/>
<circle cx="616.0" cy="196.2" r="2.8"/>
<circle cx="608.5" cy="196.2" r="2.8"/>
<circle cx="541.4" cy="196.2" r="2.8"/>
<circle cx="643.9" cy="196.2" r="2.8"/>
<circle cx="536.1" cy="196.2" r="2.8"/>
<circle cx="608.8" cy="196.2" r="2.8"/>
<circle cx="502.7" cy="196.2" r="2.8"/>
<circle cx="615.0" cy="196.2" r="2.8"/>
<circle cx="601.2" cy="196.2" r="2.8"/>
<circle cx="648.5" cy="196.2" r="2.8"/>
<circle cx="638.7" cy="196.2" r="2.8"/>
<circle cx="604.1" cy="196.2" r="2.8"/>
<circle cx="628.9" cy="196.2" r="2.8"/>
<circle cx="612.5" cy="196.2" r="2.8"/>
<circle cx="591.5" cy="196.2" r="2.8"/>
<circle cx="525.2" cy="196.2" r="2.8"/>
<circle cx="576.0" cy="196.2" r="2.8"/>
<circle cx="638.5" cy="196.2" r="2.8"/>
<circle cx="530.2" cy="196.2" r="2.8"/>
<circle cx="651.4" cy="196.2" r="2.8"/>
<circle cx="580.4" cy="196.2" r="2.8"/>
<circle cx="555.6" cy="196.2" r="2.8"/>
<circle cx="491.3" cy="196.2" r="2.8"/>
<circle cx="555.1" cy="196.2" r="2.8"/>
<circle cx="520.2" cy="196.2" r="2.8"/>
<circle cx="598.4" cy="196.2" r="2.8"/>
<circle cx="639.0" cy="196.2" r="2.8"/>
<circle cx="450.4" cy="202.3" r="2.8"/>
<circle cx="484.5" cy="202.3" r="2.8"/>
<circle cx="488.7" cy="202.3" r="2.8"/>
<circle cx="644.7" cy="202.3" r="2.8"/>
<circle cx="595.2" cy="202.3" r="2.8"/>
<circle cx="557.4" cy="202.3" r="2.8"/>
<circle cx="511.1" cy="202.3" r="2.8"/>
<circle cx="607.8" cy="202.3" r="2.8"/>
<circle cx="585.2" cy="202.3" r="2.8"/>
<circle cx="612.2" cy="202.3" r="2.8"/>
<circle cx="555.3" cy="202.3" r="2.8"/>
<circle cx="640.8" cy="202.3" r="2.8"/>
<circle cx="528.4" cy="202.3" r="2.8"/>
<circle cx="543.9" cy="202.3" r="2.8"/>
<circle cx="537.5" cy="202.3" r="2.8"/>
<circle cx="596.7" cy="202.3" r="2.8"/>
<circle cx="642.6" cy="202.3" r="2.8"/>
<circle cx="520.8" cy="202.3" r="2.8"/>
<circle cx="598.5" cy="202.3" r="2.8"/>
<circle cx="620.8" cy="202.3" r="2.8"/>
<circle cx="530.4" cy="202.3" r="2.8"/>
<circle cx="503.4" cy="202.3" r="2.8"/>
<circle cx="587.3" cy="202.3" r="2.8"/>
<circle cx="631.4" cy="202.3" r="2.8"/>
<circle cx="639.4" cy="202.3" r="2.8"/>
<circle cx="614.3" cy="202.3" r="2.8"/>
<circle cx="562.4" cy="202.3" r="2.8"/>
<circle cx="563.9" cy="202.3" r="2.8"/>
<circle cx="581.1" cy="202.3" r="2.8"/>
<circle cx="643.8" cy="202.3" r="2.8"/>
<circle cx="543.3" cy="202.3" r="2.8"/>
<circle cx="539.7" cy="202.3" r="2.8"/>
<circle cx="593.9" cy="202.3" r="2.8"/>
<circle cx="654.1" cy="202.3" r="2.8"/>
<circle cx="524.1" cy="202.3" r="2.8"/>
<circle cx="498.0" cy="202.3" r="2.8"/>
<circle cx="512.2" cy="202.3" r="2.8"/>
<circle cx="586.7" cy="202.3" r="2.8"/>
<circle cx="593.6" cy="202.3" r="2.8"/>
<circle cx="523.6" cy="202.3" r="2.8"/>
<circle cx="524.6" cy="202.3" r="2.8"/>
<circle cx="592.1" cy="202.3" r="2.8"/>
<circle cx="600.7" cy="202.3" r="2.8"/>
<circle cx="608.0" cy="202.3" r="2.8"/>
<circle cx="614.5" cy="202.3" r="2.8"/>
<circle cx="503.1" cy="202.3" r="2.8"/>
<circle cx="573.7" cy="202.3" r="2.8"/>
<circle cx="632.1" cy="202.3" r="2.8"/>
<circle cx="652.6" cy="202.3" r="2.8"/>
<circle cx="546.0" cy="202.3" r="2.8"/>
<circle cx="634.7" cy="202.3" r="2.8"/>
<circle cx="600.5" cy="202.3" r="2.8"/>
<circle cx="647.5" cy="202.3" r="2.8"/>
<circle cx="531.1" cy="202.3" r="2.8"/>
<circle cx="609.1" cy="202.3" r="2.8"/>
<circle cx="633.1" cy="202.3" r="2.8"/>
<circle cx="572.4" cy="202.3" r="2.8"/>
<circle cx="509.7" cy="202.3" r="2.8"/>
<circle cx="525.2" cy="202.3" r="2.8"/>
<circle cx="519.0" cy="202.3" r="2.8"/>
<circle cx="508.4" cy="202.3" r="2.8"/>
<circle cx="463.5" cy="208.2" r="2.8"/>
<circle cx="483.4" cy="208.2" r="2.8"/>
<circle cx="527.2" cy="208.2" r="2.8"/>
<circle cx="599.6" cy="208.2" r="2.8"/>
<circle cx="519.8" cy="208.2" r="2.8"/>
<circle cx="621.9" cy="208.2" r="2.8"/>
<circle cx="618.5" cy="208.2" r="2.8"/>
<circle cx="631.0" cy="208.2" r="2.8"/>
<circle cx="629.0" cy="208.2" r="2.8"/>
<circle cx="614.9" cy="208.2" r="2.8"/>
<circle cx="647.8" cy="208.2" r="2.8"/>
<circle cx="653.0" cy="208.2" r="2.8"/>
<circle cx="601.1" cy="208.2" r="2.8"/>
<circle cx="654.2" cy="208.2" r="2.8"/>
<circle cx="519.5" cy="208.2" r="2.8"/>
<circle cx="519.5" cy="208.2" r="2.8"/>
<circle cx="513.5" cy="208.2" r="2.8"/>
<circle cx="535.7" cy="208.2" r="2.8"/>
<circle cx="561.9" cy="208.2" r="2.8"/>
<circle cx="575.1" cy="208.2" r="2.8"/>
<circle cx="609.8" cy="208.2" r="2.8"/>
<circle cx="619.5" cy="208.2" r="2.8"/>
<circle cx="516.5" cy="208.2" r="2.8"/>
<circle cx="566.4" cy="208.2" r="2.8"/>
<circle cx="588.3" cy="208.2" r="2.8"/>
<circle cx="562.0" cy="208.2" r="2.8"/>
<circle cx="521.8" cy="208.2" r="2.8"/>
<circle cx="596.7" cy="208.2" r="2.8"/>
<circle cx="561.9" cy="208.2" r="2.8"/>
<circle cx="610.3" cy="208.2" r="2.8"/>
<circle cx="580.8" cy="208.2" r="2.8"/>
<circle cx="653.9" cy="208.2" r="2.8"/>
<circle cx="651.1" cy="208.2" r="2.8"/>
<circle cx="514.7" cy="208.2" r="2.8"/>
<circle cx="622.2" cy="208.2" r="2.8"/>
<circle cx="616.1" cy="208.2" r="2.8"/>
<circle cx="549.7" cy="208.2" r="2.8"/>
<circle cx="521.7" cy="208.2" r="2.8"/>
<circle cx="578.3" cy="208.2" r="2.8"/>
<circle cx="558.8" cy="208.2" r="2.8"/>
<circle cx="618.6" cy="208.2" r="2.8"/>
<circle cx="646.9" cy="208.2" r="2.8"/>
<circle cx="563.1" cy="208.2" r="2.8"/>
<circle cx="548.8" cy="208.2" r="2.8"/>
<circle cx="581.4" cy="208.2" r="2.8"/>
<circle cx="612.3" cy="208.2" r="2.8"/>
<circle cx="626.7" cy="208.2" r="2.8"/>
<circle cx="593.4" cy="208.2" r="2.8"/>
<circle cx="549.7" cy="208.2" r="2.8"/>
<circle cx="556.1" cy="208.2" r="2.8"/>
<circle cx="635.9" cy="208.2" r="2.8"/>
<circle cx="584.6" cy="208.2" r="2.8"/>
<circle cx="511.3" cy="208.2" r="2.8"/>
<circle cx="569.2" cy="208.2" r="2.8"/>
<circle cx="540.6" cy="208.2" r="2.8"/>
<circle cx="607.5" cy="208.2" r="2.8"/>
<circle cx="454.0" cy="214.5" r="2.8"/>
<circle cx="459.2" cy="214.5" r="2.8"/>
<circle cx="467.7" cy="214.5" r="2.8"/>
<circle cx="475.0" cy="214.5" r="2.8"/>
<circle cx="481.3" cy="214.5" r="2.8"/>
<circle cx="488.7" cy="214.5" r="2.8"/>
<circle cx="514.6" cy="214.5" r="2.8"/>
<circle cx="544.7" cy="214.5" r="2.8"/>
<circle cx="518.0" cy="214.5" r="2.8"/>
<circle cx="576.1" cy="214.5" r="2.8"/>
<circle cx="653.3" cy="214.5" r="2.8"/>
<circle cx="585.8" cy="214.5" r="2.8"/>
<circle cx="562.2" cy="214.5" r="2.8"/>
<circle cx="645.5" cy="214.5" r="2.8"/>
<circle cx="517.4" cy="214.5" r="2.8"/>
<circle cx="557.5" cy="214.5" r="2.8"/>
<circle cx="626.8" cy="214.5" r="2.8"/>
<circle cx="504.2" cy="214.5" r="2.8"/>
<circle cx="620.0" cy="214.5" r="2.8"/>
<circle cx="558.4" cy="214.5" r="2.8"/>
<circle cx="505.9" cy="214.5" r="2.8"/>
<circle cx="541.6" cy="214.5" r="2.8"/>
<circle cx="573.1" cy="214.5" r="2.8"/>
<circle cx="561.7" cy="214.5" r="2.8"/>
<circle cx="582.1" cy="214.5" r="2.8"/>
<circle cx="511.5" cy="214.5" r="2.8"/>
<circle cx="536.7" cy="214.5" r="2.8"/>
<circle cx="651.7" cy="214.5" r="2.8"/>
<circle cx="570.8" cy="214.5" r="2.8"/>
<circle cx="575.2" cy="214.5" r="2.8"/>
<circle cx="516.4" cy="214.5" r="2.8"/>
<circle cx="545.9" cy="214.5" r="2.8"/>
<circle cx="648.7" cy="214.5" r="2.8"/>
<circle cx="608.0" cy="214.5" r="2.8"/>
<circle cx="580.7" cy="214.5" r="2.8"/>
<circle cx="511.5" cy="214.5" r="2.8"/>
<circle cx="563.2" cy="214.5" r="2.8"/>
<circle cx="621.9" cy="214.5" r="2.8"/>
<circle cx="569.6" cy="214.5" r="2.8"/>
<circle cx="593.7" cy="214.5" r="2.8"/>
<circle cx="640.7" cy="214.5" r="2.8"/>
<circle cx="601.6" cy="214.5" r="2.8"/>
<circle cx="600.2" cy="214.5" r="2.8"/>
<circle cx="508.9" cy="214.5" r="2.8"/>
<circle cx="507.0" cy="214.5" r="2.8"/>
<circle cx="620.5" cy="214.5" r="2.8"/>
<circle cx="566.3" cy="214.5" r="2.8"/>
<circle cx="636.5" cy="214.5" r="2.8"/>
<circle cx="629.1" cy="214.5" r="2.8"/>
<circle cx="642.7" cy="214.5" r="2.8"/>
<circle cx="561.0" cy="214.5" r="2.8"/>
<circle cx="655.5" cy="214.5" r="2.8"/>
<circle cx="618.5" cy="214.5" r="2.8"/>
<circle cx="639.1" cy="214.5" r="2.8"/>
<circle cx="526.0" cy="214.5" r="2.8"/>
<circle cx="622.3" cy="214.5" r="2.8"/>
<circle cx="567.6" cy="214.5" r="2.8"/>
<circle cx="651.4" cy="214.5" r="2.8"/>
<circle cx="468.7" cy="220.8" r="2.8"/>
<circle cx="474.0" cy="220.8" r="2.8"/>
<circle cx="661.7" cy="220.8" r="2.8"/>
<circle cx="519.8" cy="220.8" r="2.8"/>
<circle cx="557.2" cy="220.8" r="2.8"/>
<circle cx="529.7" cy="220.8" r="2.8"/>
<circle cx="566.0" cy="220.8" r="2.8"/>
<circle cx="532.6" cy="220.8" r="2.8"/>
<circle cx="601.9" cy="220.8" r="2.8"/>
<circle cx="502.8" cy="220.8" r="2.8"/>
<circle cx="511.2" cy="220.8" r="2.8"/>
<circle cx="563.8" cy="220.8" r="2.8"/>
<circle cx="493.8" cy="220.8" r="2.8"/>
<circle cx="549.9" cy="220.8" r="2.8"/>
<circle cx="644.1" cy="220.8" r="2.8"/>
<circle cx="641.9" cy="220.8" r="2.8"/>
<circle cx="516.2" cy="220.8" r="2.8"/>
<circle cx="483.7" cy="220.8" r="2.8"/>
<circle cx="631.5" cy="220.8" r="2.8"/>
<circle cx="655.6" cy="220.8" r="2.8"/>
<circle cx="589.6" cy="220.8" r="2.8"/>
<circle cx="505.2" cy="220.8" r="2.8"/>
<circle cx="523.5" cy="220.8" r="2.8"/>
<circle cx="648.2" cy="220.8" r="2.8"/>
<circle cx="651.4" cy="220.8" r="2.8"/>
<circle cx="486.0" cy="220.8" r="2.8"/>
<circle cx="514.0" cy="220.8" r="2.8"/>
<circle cx="558.6" cy="220.8" r="2.8"/>
<circle cx="529.0" cy="220.8" r="2.8"/>
<circle cx="617.9" cy="220.8" r="2.8"/>
<circle cx="548.4" cy="220.8" r="2.8"/>
<circle cx="621.8" cy="220.8" r="2.8"/>
<circle cx="508.0" cy="220.8" r="2.8"/>
<circle cx="574.9" cy="220.8" r="2.8"/>
<circle cx="658.2" cy="220.8" r="2.8"/>
<circle cx="608.4" cy="220.8" r="2.8"/>
<circle cx="496.7" cy="220.8" r="2.8"/>
<circle cx="500.6" cy="220.8" r="2.8"/>
<circle cx="597.7" cy="220.8" r="2.8"/>
<circle cx="548.7" cy="220.8" r="2.8"/>
<circle cx="547.6" cy="220.8" r="2.8"/>
<circle cx="567.5" cy="220.8" r="2.8"/>
<circle cx="586.5" cy="220.8" r="2.8"/>
<circle cx="656.6" cy="220.8" r="2.8"/>
<circle cx="524.3" cy="220.8" r="2.8"/>
<circle cx="584.1" cy="220.8" r="2.8"/>
<circle cx="528.3" cy="220.8" r="2.8"/>
<circle cx="579.8" cy="220.8" r="2.8"/>
<circle cx="613.8" cy="220.8" r="2.8"/>
<circle cx="504.7" cy="220.8" r="2.8"/>
<circle cx="568.1" cy="220.8" r="2.8"/>
<circle cx="609.1" cy="220.8" r="2.8"/>
<circle cx="481.8" cy="220.8" r="2.8"/>
<circle cx="621.0" cy="220.8" r="2.8"/>
<circle cx="556.7" cy="220.8" r="2.8"/>
<circle cx="572.3" cy="220.8" r="2.8"/>
<circle cx="591.7" cy="220.8" r="2.8"/>
<circle cx="625.0" cy="220.8" r="2.8"/>
<circle cx="490.5" cy="220.8" r="2.8"/>
<circle cx="571.7" cy="220.8" r="2.8"/>
<circle cx="487.3" cy="220.8" r="2.8"/>
<circle cx="550.7" cy="220.8" r="2.8"/>
<circle cx="543.4" cy="220.8" r="2.8"/>
<circle cx="484.2" cy="220.8" r="2.8"/>
<circle cx="534.6" cy="220.8" r="2.8"/>
<circle cx="562.4" cy="220.8" r="2.8"/>
<circle cx="599.8" cy="220.8" r="2.8"/>
<circle cx="649.1" cy="220.8" r="2.8"/>
<circle cx="547.9" cy="220.8" r="2.8"/>
<circle cx="577.0" cy="220.8" r="2.8"/>
<circle cx="451.9" cy="227.4" r="2.8"/>
<circle cx="465.6" cy="227.4" r="2.8"/>
<circle cx="472.0" cy="227.4" r="2.8"/>
<circle cx="480.3" cy="227.4" r="2.8"/>
<circle cx="601.2" cy="227.4" r="2.8"/>
<circle cx="637.2" cy="227.4" r="2.8"/>
<circle cx="639.2" cy="227.4" r="2.8"/>
<circle cx="645.4" cy="227.4" r="2.8"/>
<circle cx="535.1" cy="227.4" r="2.8"/>
<circle cx="513.4" cy="227.4" r="2.8"/>
<circle cx="636.4" cy="227.4" r="2.8"/>
<circle cx="499.0" cy="227.4" r="2.8"/>
<circle cx="558.7" cy="227.4" r="2.8"/>
<circle cx="604.9" cy="227.4" r="2.8"/>
<circle cx="571.6" cy="227.4" r="2.8"/>
<circle cx="549.1" cy="227.4" r="2.8"/>
<circle cx="635.2" cy="227.4" r="2.8"/>
<circle cx="534.7" cy="227.4" r="2.8"/>
<circle cx="575.3" cy="227.4" r="2.8"/>
<circle cx="619.9" cy="227.4" r="2.8"/>
<circle cx="508.8" cy="227.4" r="2.8"/>
<circle cx="543.0" cy="227.4" r="2.8"/>
<circle cx="566.0" cy="227.4" r="2.8"/>
<circle cx="577.5" cy="227.4" r="2.8"/>
<circle cx="519.9" cy="227.4" r="2.8"/>
<circle cx="559.5" cy="227.4" r="2.8"/>
<circle cx="496.2" cy="227.4" r="2.8"/>
<circle cx="500.7" cy="227.4" r="2.8"/>
<circle cx="541.6" cy="227.4" r="2.8"/>
<circle cx="509.7" cy="227.4" r="2.8"/>
<circle cx="642.1" cy="227.4" r="2.8"/>
<circle cx="528.9" cy="227.4" r="2.8"/>
<circle cx="530.9" cy="227.4" r="2.8"/>
<circle cx="612.5" cy="227.4" r="2.8"/>
<circle cx="605.7" cy="227.4" r="2.8"/>
<circle cx="528.7" cy="227.4" r="2.8"/>
<circle cx="619.8" cy="227.4" r="2.8"/>
<circle cx="587.2" cy="227.4" r="2.8"/>
<circle cx="549.0" cy="227.4" r="2.8"/>
<circle cx="587.6" cy="227.4" r="2.8"/>
<circle cx="526.1" cy="227.4" r="2.8"/>
<circle cx="528.9" cy="227.4" r="2.8"/>
<circle cx="627.5" cy="227.4" r="2.8"/>
<circle cx="557.1" cy="227.4" r="2.8"/>
<circle cx="630.8" cy="227.4" r="2.8"/>
<circle cx="515.0" cy="227.4" r="2.8"/>
<circle cx="508.7" cy="227.4" r="2.8"/>
<circle cx="494.9" cy="227.4" r="2.8"/>
<circle cx="605.5" cy="227.4" r="2.8"/>
<circle cx="576.8" cy="227.4" r="2.8"/>
<circle cx="488.2" cy="227.4" r="2.8"/>
<circle cx="493.6" cy="227.4" r="2.8"/>
<circle cx="619.0" cy="227.4" r="2.8"/>
<circle cx="566.0" cy="227.4" r="2.8"/>
<circle cx="626.6" cy="227.4" r="2.8"/>
<circle cx="493.0" cy="227.4" r="2.8"/>
<circle cx="581.2" cy="227.4" r="2.8"/>
<circle cx="505.5" cy="227.4" r="2.8"/>
<circle cx="602.5" cy="227.4" r="2.8"/>
<circle cx="434.0" cy="233.7" r="2.8"/>
<circle cx="439.3" cy="233.7" r="2.8"/>
<circle cx="442.4" cy="233.7" r="2.8"/>
<circle cx="551.2" cy="233.7" r="2.8"/>
<circle cx="551.3" cy="233.7" r="2.8"/>
<circle cx="485.8" cy="233.7" r="2.8"/>
<circle cx="607.8" cy="233.7" r="2.8"/>
<circle cx="467.3" cy="233.7" r="2.8"/>
<circle cx="459.4" cy="233.7" r="2.8"/>
<circle cx="563.3" cy="233.7" r="2.8"/>
<circle cx="464.3" cy="233.7" r="2.8"/>
<circle cx="459.9" cy="233.7" r="2.8"/>
<circle cx="525.8" cy="233.7" r="2.8"/>
<circle cx="557.5" cy="233.7" r="2.8"/>
<circle cx="598.2" cy="233.7" r="2.8"/>
<circle cx="569.5" cy="233.7" r="2.8"/>
<circle cx="460.3" cy="233.7" r="2.8"/>
<circle cx="556.5" cy="233.7" r="2.8"/>
<circle cx="590.1" cy="233.7" r="2.8"/>
<circle cx="468.9" cy="233.7" r="2.8"/>
<circle cx="575.2" cy="233.7" r="2.8"/>
<circle cx="492.1" cy="233.7" r="2.8"/>
<circle cx="498.8" cy="233.7" r="2.8"/>
<circle cx="449.0" cy="233.7" r="2.8"/>
<circle cx="575.8" cy="233.7" r="2.8"/>
<circle cx="535.1" cy="233.7" r="2.8"/>
<circle cx="599.9" cy="233.7" r="2.8"/>
<circle cx="526.7" cy="233.7" r="2.8"/>
<circle cx="474.7" cy="233.7" r="2.8"/>
<circle cx="485.0" cy="233.7" r="2.8"/>
<circle cx="492.8" cy="233.7" r="2.8"/>
<circle cx="607.4" cy="233.7" r="2.8"/>
<circle cx="483.1" cy="233.7" r="2.8"/>
<circle cx="463.5" cy="233.7" r="2.8"/>
<circle cx="507.8" cy="233.7" r="2.8"/>
<circle cx="462.0" cy="233.7" r="2.8"/>
<circle cx="520.0" cy="233.7" r="2.8"/>
<circle cx="552.9" cy="233.7" r="2.8"/>
<circle cx="557.7" cy="233.7" r="2.8"/>
<circle cx="478.0" cy="233.7" r="2.8"/>
<circle cx="472.0" cy="233.7" r="2.8"/>
<circle cx="531.0" cy="233.7" r="2.8"/>
<circle cx="563.9" cy="233.7" r="2.8"/>
<circle cx="523.6" cy="233.7" r="2.8"/>
<circle cx="544.8" cy="233.7" r="2.8"/>
<circle cx="601.6" cy="233.7" r="2.8"/>
<circle cx="473.0" cy="233.7" r="2.8"/>
<circle cx="493.6" cy="233.7" r="2.8"/>
<circle cx="531.5" cy="233.7" r="2.8"/>
<circle cx="538.6" cy="233.7" r="2.8"/>
<circle cx="599.6" cy="233.7" r="2.8"/>
<circle cx="541.8" cy="233.7" r="2.8"/>
<circle cx="559.7" cy="233.7" r="2.8"/>
<circle cx="519.0" cy="233.7" r="2.8"/>
<circle cx="580.1" cy="233.7" r="2.8"/>
<circle cx="588.8" cy="233.7" r="2.8"/>
<circle cx="497.9" cy="233.7" r="2.8"/>
<circle cx="466.8" cy="233.7" r="2.8"/>
<circle cx="492.1" cy="233.7" r="2.8"/>
<circle cx="508.6" cy="233.7" r="2.8"/>
<circle cx="597.8" cy="233.7" r="2.8"/>
<circle cx="416.2" cy="240.0" r="2.8"/>
<circle cx="427.7" cy="240.0" r="2.8"/>
<circle cx="427.7" cy="240.0" r="2.8"/>
<circle cx="450.8" cy="240.0" r="2.8"/>
<circle cx="463.5" cy="240.0" r="2.8"/>
<circle cx="633.9" cy="240.0" r="2.8"/>
<circle cx="640.1" cy="240.0" r="2.8"/>
<circle cx="510.1" cy="240.0" r="2.8"/>
<circle cx="562.8" cy="240.0" r="2.8"/>
<circle cx="564.4" cy="240.0" r="2.8"/>
<circle cx="610.0" cy="240.0" r="2.8"/>
<circle cx="488.7" cy="240.0" r="2.8"/>
<circle cx="583.1" cy="240.0" r="2.8"/>
<circle cx="520.5" cy="240.0" r="2.8"/>
<circle cx="486.8" cy="240.0" r="2.8"/>
<circle cx="563.2" cy="240.0" r="2.8"/>
<circle cx="593.8" cy="240.0" r="2.8"/>
<circle cx="556.0" cy="240.0" r="2.8"/>
<circle cx="479.1" cy="240.0" r="2.8"/>
<circle cx="612.3" cy="240.0" r="2.8"/>
<circle cx="527.4" cy="240.0" r="2.8"/>
<circle cx="563.8" cy="240.0" r="2.8"/>
<circle cx="576.4" cy="240.0" r="2.8"/>
<circle cx="509.5" cy="240.0" r="2.8"/>
<circle cx="530.9" cy="240.0" r="2.8"/>
<circle cx="519.5" cy="240.0" r="2.8"/>
<circle cx="485.8" cy="240.0" r="2.8"/>
<circle cx="481.2" cy="240.0" r="2.8"/>
<circle cx="575.4" cy="240.0" r="2.8"/>
<circle cx="531.2" cy="240.0" r="2.8"/>
<circle cx="597.5" cy="240.0" r="2.8"/>
<circle cx="481.0" cy="240.0" r="2.8"/>
<circle cx="515.4" cy="240.0" r="2.8"/>
<circle cx="497.9" cy="240.0" r="2.8"/>
<circle cx="608.1" cy="240.0" r="2.8"/>
<circle cx="586.1" cy="240.0" r="2.8"/>
<circle cx="601.3" cy="240.0" r="2.8"/>
<circle cx="545.0" cy="240.0" r="2.8"/>
<circle cx="486.9" cy="240.0" r="2.8"/>
<circle cx="532.0" cy="240.0" r="2.8"/>
<circle cx="504.6" cy="240.0" r="2.8"/>
<circle cx="475.8" cy="240.0" r="2.8"/>
<circle cx="553.5" cy="240.0" r="2.8"/>
<circle cx="513.8" cy="240.0" r="2.8"/>
<circle cx="487.5" cy="240.0" r="2.8"/>
<circle cx="545.8" cy="240.0" r="2.8"/>
<circle cx="606.7" cy="240.0" r="2.8"/>
<circle cx="608.5" cy="240.0" r="2.8"/>
<circle cx="539.2" cy="240.0" r="2.8"/>
<circle cx="486.7" cy="240.0" r="2.8"/>
<circle cx="582.9" cy="240.0" r="2.8"/>
<circle cx="488.5" cy="240.0" r="2.8"/>
<circle cx="549.5" cy="240.0" r="2.8"/>
<circle cx="484.0" cy="240.0" r="2.8"/>
<circle cx="614.5" cy="240.0" r="2.8"/>
<circle cx="550.3" cy="240.0" r="2.8"/>
<circle cx="535.1" cy="240.0" r="2.8"/>
<circle cx="443.5" cy="246.3" r="2.8"/>
<circle cx="453.0" cy="246.3" r="2.8"/>
<circle cx="461.4" cy="246.3" r="2.8"/>
<circle cx="467.7" cy="246.3" r="2.8"/>
<circle cx="483.3" cy="246.3" r="2.8"/>
<circle cx="491.8" cy="246.3" r="2.8"/>
<circle cx="504.7" cy="246.3" r="2.8"/>
<circle cx="488.1" cy="246.3" r="2.8"/>
<circle cx="481.4" cy="246.3" r="2.8"/>
<circle cx="490.7" cy="246.3" r="2.8"/>
<circle cx="503.0" cy="246.3" r="2.8"/>
<circle cx="486.6" cy="246.3" r="2.8"/>
<circle cx="494.3" cy="246.3" r="2.8"/>
<circle cx="503.0" cy="246.3" r="2.8"/>
<circle cx="552.4" cy="246.3" r="2.8"/>
<circle cx="589.5" cy="246.3" r="2.8"/>
<circle cx="568.0" cy="246.3" r="2.8"/>
<circle cx="538.2" cy="246.3" r="2.8"/>
<circle cx="531.7" cy="246.3" r="2.8"/>
<circle cx="599.2" cy="246.3" r="2.8"/>
<circle cx="563.2" cy="246.3" r="2.8"/>
<circle cx="561.4" cy="246.3" r="2.8"/>
<circle cx="597.6" cy="246.3" r="2.8"/>
<circle cx="571.4" cy="246.3" r="2.8"/>
<circle cx="565.8" cy="246.3" r="2.8"/>
<circle cx="549.3" cy="246.3" r="2.8"/>
<circle cx="584.4" cy="246.3" r="2.8"/>
<circle cx="547.2" cy="246.3" r="2.8"/>
<circle cx="563.5" cy="246.3" r="2.8"/>
<circle cx="585.5" cy="246.3" r="2.8"/>
<circle cx="573.8" cy="246.3" r="2.8"/>
<circle cx="537.8" cy="246.3" r="2.8"/>
<circle cx="543.1" cy="246.3" r="2.8"/>
<circle cx="580.6" cy="246.3" r="2.8"/>
<circle cx="583.2" cy="246.3" r="2.8"/>
<circle cx="535.4" cy="246.3" r="2.8"/>
<circle cx="603.7" cy="246.3" r="2.8"/>
<circle cx="537.8" cy="246.3" r="2.8"/>
<circle cx="540.4" cy="246.3" r="2.8"/>
<circle cx="447.7" cy="252.6" r="2.8"/>
<circle cx="456.1" cy="252.6" r="2.8"/>
<circle cx="460.3" cy="252.6" r="2.8"/>
<circle cx="468.7" cy="252.6" r="2.8"/>
<circle cx="621.5" cy="252.6" r="2.8"/>
<circle cx="626.7" cy="252.6" r="2.8"/>
<circle cx="646.3" cy="252.6" r="2.8"/>
<circle cx="652.5" cy="252.6" r="2.8"/>
<circle cx="656.6" cy="252.6" r="2.8"/>
<circle cx="480.7" cy="252.6" r="2.8"/>
<circle cx="499.5" cy="252.6" r="2.8"/>
<circle cx="508.6" cy="252.6" r="2.8"/>
<circle cx="521.1" cy="252.6" r="2.8"/>
<circle cx="484.6" cy="252.6" r="2.8"/>
<circle cx="512.8" cy="252.6" r="2.8"/>
<circle cx="481.5" cy="252.6" r="2.8"/>
<circle cx="506.5" cy="252.6" r="2.8"/>
<circle cx="489.2" cy="252.6" r="2.8"/>
<circle cx="494.7" cy="252.6" r="2.8"/>
<circle cx="478.8" cy="252.6" r="2.8"/>
<circle cx="513.9" cy="252.6" r="2.8"/>
<circle cx="482.4" cy="252.6" r="2.8"/>
<circle cx="516.2" cy="252.6" r="2.8"/>
<circle cx="493.7" cy="252.6" r="2.8"/>
<circle cx="563.0" cy="252.6" r="2.8"/>
<circle cx="565.6" cy="252.6" r="2.8"/>
<circle cx="557.4" cy="252.6" r="2.8"/>
<circle cx="578.4" cy="252.6" r="2.8"/>
<circle cx="580.9" cy="252.6" r="2.8"/>
<circle cx="546.1" cy="252.6" r="2.8"/>
<circle cx="548.9" cy="252.6" r="2.8"/>
<circle cx="578.6" cy="252.6" r="2.8"/>
<circle cx="538.0" cy="252.6" r="2.8"/>
<circle cx="553.6" cy="252.6" r="2.8"/>
<circle cx="553.3" cy="252.6" r="2.8"/>
<circle cx="584.0" cy="252.6" r="2.8"/>
<circle cx="537.7" cy="252.6" r="2.8"/>
<circle cx="566.5" cy="252.6" r="2.8"/>
<circle cx="572.0" cy="252.6" r="2.8"/>
<circle cx="570.5" cy="252.6" r="2.8"/>
<circle cx="530.8" cy="252.6" r="2.8"/>
<circle cx="582.2" cy="252.6" r="2.8"/>
<circle cx="599.6" cy="252.6" r="2.8"/>
<circle cx="603.0" cy="252.6" r="2.8"/>
<circle cx="577.0" cy="258.9" r="2.8"/>
<circle cx="586.4" cy="258.9" r="2.8"/>
<circle cx="593.6" cy="258.9" r="2.8"/>
<circle cx="608.1" cy="258.9" r="2.8"/>
<circle cx="467.5" cy="258.9" r="2.8"/>
<circle cx="461.4" cy="258.9" r="2.8"/>
<circle cx="471.9" cy="258.9" r="2.8"/>
<circle cx="467.8" cy="258.9" r="2.8"/>
<circle cx="459.4" cy="258.9" r="2.8"/>
<circle cx="469.2" cy="258.9" r="2.8"/>
<circle cx="463.5" cy="258.9" r="2.8"/>
<circle cx="493.7" cy="258.9" r="2.8"/>
<circle cx="491.9" cy="258.9" r="2.8"/>
<circle cx="495.3" cy="258.9" r="2.8"/>
<circle cx="483.3" cy="258.9" r="2.8"/>
<circle cx="489.6" cy="258.9" r="2.8"/>
<circle cx="505.6" cy="258.9" r="2.8"/>
<circle cx="560.5" cy="258.9" r="2.8"/>
<circle cx="559.1" cy="258.9" r="2.8"/>
<circle cx="563.7" cy="258.9" r="2.8"/>
<circle cx="508.5" cy="258.9" r="2.8"/>
<circle cx="542.7" cy="258.9" r="2.8"/>
<circle cx="538.8" cy="258.9" r="2.8"/>
<circle cx="513.8" cy="258.9" r="2.8"/>
<circle cx="519.6" cy="258.9" r="2.8"/>
<circle cx="573.2" cy="258.9" r="2.8"/>
<circle cx="564.8" cy="258.9" r="2.8"/>
<circle cx="522.1" cy="258.9" r="2.8"/>
<circle cx="563.1" cy="258.9" r="2.8"/>
<circle cx="550.7" cy="258.9" r="2.8"/>
<circle cx="532.3" cy="258.9" r="2.8"/>
<circle cx="550.3" cy="258.9" r="2.8"/>
<circle cx="521.4" cy="258.9" r="2.8"/>
<circle cx="524.5" cy="258.9" r="2.8"/>
<circle cx="506.2" cy="258.9" r="2.8"/>
<circle cx="551.1" cy="258.9" r="2.8"/>
<circle cx="422.5" cy="264.8" r="2.8"/>
<circle cx="429.8" cy="264.8" r="2.8"/>
<circle cx="440.3" cy="264.8" r="2.8"/>
<circle cx="504.4" cy="264.8" r="2.8"/>
<circle cx="511.8" cy="264.8" r="2.8"/>
<circle cx="521.3" cy="264.8" r="2.8"/>
<circle cx="527.6" cy="264.8" r="2.8"/>
<circle cx="532.8" cy="264.8" r="2.8"/>
<circle cx="541.2" cy="264.8" r="2.8"/>
<circle cx="549.6" cy="264.8" r="2.8"/>
<circle cx="553.8" cy="264.8" r="2.8"/>
<circle cx="566.5" cy="264.8" r="2.8"/>
<circle cx="577.0" cy="264.8" r="2.8"/>
<circle cx="592.6" cy="264.8" r="2.8"/>
<circle cx="470.3" cy="264.8" r="2.8"/>
<circle cx="476.6" cy="264.8" r="2.8"/>
<circle cx="467.3" cy="264.8" r="2.8"/>
<circle cx="464.6" cy="264.8" r="2.8"/>
<circle cx="459.6" cy="264.8" r="2.8"/>
<circle cx="476.3" cy="264.8" r="2.8"/>
<circle cx="462.2" cy="264.8" r="2.8"/>
<circle cx="470.9" cy="264.8" r="2.8"/>
<circle cx="477.2" cy="264.8" r="2.8"/>
<circle cx="465.0" cy="264.8" r="2.8"/>
<circle cx="474.4" cy="264.8" r="2.8"/>
<circle cx="451.9" cy="270.9" r="2.8"/>
<circle cx="467.7" cy="270.9" r="2.8"/>
<circle cx="473.0" cy="270.9" r="2.8"/>
<circle cx="486.6" cy="270.9" r="2.8"/>
<circle cx="490.8" cy="270.9" r="2.8"/>
<circle cx="517.0" cy="270.9" r="2.8"/>
<circle cx="554.9" cy="270.9" r="2.8"/>
<circle cx="572.8" cy="270.9" r="2.8"/>
<circle cx="575.0" cy="270.9" r="2.8"/>
<circle cx="440.3" cy="276.8" r="2.8"/>
<circle cx="444.5" cy="276.8" r="2.8"/>
<circle cx="465.6" cy="276.8" r="2.8"/>
<circle cx="469.8" cy="276.8" r="2.8"/>
<circle cx="475.0" cy="276.8" r="2.8"/>
<circle cx="509.7" cy="276.8" r="2.8"/>
<circle cx="464.5" cy="283.1" r="2.8"/>
<circle cx="465.5" cy="283.1" r="2.8"/>
<circle cx="560.1" cy="283.1" r="2.8"/>
<circle cx="475.0" cy="289.4" r="2.8"/>
<circle cx="602.2" cy="233.7" r="2.8"/>
<circle cx="595.0" cy="153.5" r="2.8"/>
<circle cx="593.5" cy="153.5" r="2.8"/>
<circle cx="594.6" cy="171.8" r="2.8"/>
<circle cx="590.8" cy="196.2" r="2.8"/>
<circle cx="582.0" cy="196.2" r="2.8"/>
<circle cx="605.4" cy="178.1" r="2.8"/>
<circle cx="578.6" cy="202.3" r="2.8"/>
<circle cx="616.0" cy="220.8" r="2.8"/>
<circle cx="603.1" cy="227.4" r="2.8"/>
<circle cx="575.5" cy="208.2" r="2.8"/>
<circle cx="577.6" cy="208.2" r="2.8"/>
<circle cx="560.5" cy="233.7" r="2.8"/>
<circle cx="567.4" cy="208.2" r="2.8"/>
<circle cx="597.0" cy="196.2" r="2.8"/>
<circle cx="613.7" cy="202.3" r="2.8"/>
<circle cx="591.9" cy="184.0" r="2.8"/>
<circle cx="596.0" cy="171.8" r="2.8"/>
<circle cx="603.2" cy="159.8" r="2.8"/>
<circle cx="599.6" cy="166.0" r="2.8"/>
<circle cx="590.3" cy="190.3" r="2.8"/>
<circle cx="591.4" cy="153.5" r="2.8"/>
<circle cx="581.5" cy="190.3" r="2.8"/>
<circle cx="616.1" cy="190.3" r="2.8"/>
<circle cx="611.2" cy="190.3" r="2.8"/>
<circle cx="626.4" cy="220.8" r="2.8"/>
<circle cx="593.4" cy="196.2" r="2.8"/>
<circle cx="598.4" cy="166.0" r="2.8"/>
<circle cx="586.7" cy="196.2" r="2.8"/>
<circle cx="592.1" cy="202.3" r="2.8"/>
<circle cx="592.9" cy="233.7" r="2.8"/>
<circle cx="564.0" cy="233.7" r="2.8"/>
<circle cx="578.2" cy="233.7" r="2.8"/>
<circle cx="563.7" cy="171.8" r="2.8"/>
<circle cx="616.2" cy="190.3" r="2.8"/>
<circle cx="575.0" cy="233.7" r="2.8"/>
<circle cx="576.6" cy="233.7" r="2.8"/>
<circle cx="569.0" cy="220.8" r="2.8"/>
<circle cx="587.4" cy="171.8" r="2.8"/>
<circle cx="562.5" cy="184.0" r="2.8"/>
<circle cx="566.5" cy="233.7" r="2.8"/>
<circle cx="576.7" cy="227.4" r="2.8"/>
<circle cx="620.2" cy="233.7" r="2.8"/>
<circle cx="599.0" cy="166.0" r="2.8"/>
<circle cx="585.0" cy="208.2" r="2.8"/>
<circle cx="595.7" cy="190.3" r="2.8"/>
<circle cx="583.9" cy="178.1" r="2.8"/>
<circle cx="597.2" cy="166.0" r="2.8"/>
<circle cx="599.6" cy="190.3" r="2.8"/>
<circle cx="590.4" cy="159.8" r="2.8"/>
<circle cx="588.8" cy="196.2" r="2.8"/>
<circle cx="563.6" cy="233.7" r="2.8"/>
<circle cx="597.6" cy="159.8" r="2.8"/>
<circle cx="577.0" cy="196.2" r="2.8"/>
<circle cx="591.2" cy="153.5" r="2.8"/>
<circle cx="591.6" cy="220.8" r="2.8"/>
<circle cx="567.1" cy="196.2" r="2.8"/>
<circle cx="572.9" cy="178.1" r="2.8"/>
<circle cx="596.1" cy="184.0" r="2.8"/>
<circle cx="572.4" cy="208.2" r="2.8"/>
<circle cx="607.2" cy="190.3" r="2.8"/>
<circle cx="586.6" cy="190.3" r="2.8"/>
<circle cx="546.2" cy="153.5" r="2.8"/>
<circle cx="573.0" cy="171.8" r="2.8"/>
<circle cx="581.9" cy="202.3" r="2.8"/>
<circle cx="591.0" cy="159.8" r="2.8"/>
<circle cx="593.2" cy="159.8" r="2.8"/>
<circle cx="570.7" cy="214.5" r="2.8"/>
<circle cx="581.7" cy="159.8" r="2.8"/>
<circle cx="577.8" cy="220.8" r="2.8"/>
<circle cx="585.2" cy="184.0" r="2.8"/>
<circle cx="599.4" cy="233.7" r="2.8"/>
<circle cx="590.6" cy="214.5" r="2.8"/>
<circle cx="585.1" cy="214.5" r="2.8"/>
<circle cx="597.1" cy="159.8" r="2.8"/>
<circle cx="551.8" cy="227.4" r="2.8"/>
<circle cx="566.0" cy="214.5" r="2.8"/>
<circle cx="560.7" cy="159.8" r="2.8"/>
<circle cx="609.7" cy="196.2" r="2.8"/>
<circle cx="595.2" cy="171.8" r="2.8"/>
<circle cx="580.9" cy="178.1" r="2.8"/>
<circle cx="593.4" cy="208.2" r="2.8"/>
<circle cx="583.8" cy="214.5" r="2.8"/>
<circle cx="592.0" cy="202.3" r="2.8"/>
<circle cx="590.6" cy="159.8" r="2.8"/>
<circle cx="604.1" cy="208.2" r="2.8"/>
<circle cx="577.2" cy="178.1" r="2.8"/>
<circle cx="627.2" cy="190.3" r="2.8"/>
<circle cx="602.9" cy="190.3" r="2.8"/>
<circle cx="598.9" cy="159.8" r="2.8"/>
<circle cx="624.3" cy="184.0" r="2.8"/>
<circle cx="587.5" cy="214.5" r="2.8"/>
<circle cx="602.0" cy="233.7" r="2.8"/>
<circle cx="599.2" cy="233.7" r="2.8"/>
<circle cx="585.4" cy="196.2" r="2.8"/>
<circle cx="590.1" cy="220.8" r="2.8"/>
<circle cx="594.1" cy="171.8" r="2.8"/>
<circle cx="585.8" cy="178.1" r="2.8"/>
<circle cx="583.1" cy="202.3" r="2.8"/>
<circle cx="607.6" cy="202.3" r="2.8"/>
<circle cx="578.5" cy="233.7" r="2.8"/>
<circle cx="606.6" cy="202.3" r="2.8"/>
<circle cx="573.1" cy="214.5" r="2.8"/>
<circle cx="582.1" cy="171.8" r="2.8"/>
<circle cx="577.0" cy="190.3" r="2.8"/>
<circle cx="578.5" cy="159.8" r="2.8"/>
<circle cx="602.4" cy="153.5" r="2.8"/>
<circle cx="603.5" cy="178.1" r="2.8"/>
<circle cx="594.0" cy="208.2" r="2.8"/>
<circle cx="572.7" cy="159.8" r="2.8"/>
<circle cx="598.3" cy="220.8" r="2.8"/>
<circle cx="606.5" cy="178.1" r="2.8"/>
<circle cx="597.9" cy="227.4" r="2.8"/>
<circle cx="592.1" cy="220.8" r="2.8"/>
<circle cx="595.3" cy="159.8" r="2.8"/>
<circle cx="586.4" cy="178.1" r="2.8"/>
<circle cx="580.3" cy="214.5" r="2.8"/>
<circle cx="580.1" cy="171.8" r="2.8"/>
<circle cx="608.3" cy="166.0" r="2.8"/>
<circle cx="594.0" cy="220.8" r="2.8"/>
<circle cx="577.1" cy="202.3" r="2.8"/>
<circle cx="612.7" cy="208.2" r="2.8"/>
<circle cx="609.7" cy="208.2" r="2.8"/>
<circle cx="564.0" cy="196.2" r="2.8"/>
<circle cx="596.1" cy="196.2" r="2.8"/>
<circle cx="581.3" cy="184.0" r="2.8"/>
<circle cx="594.3" cy="196.2" r="2.8"/>
<circle cx="584.1" cy="178.1" r="2.8"/>
<circle cx="569.6" cy="214.5" r="2.8"/>
<circle cx="611.6" cy="159.8" r="2.8"/>
<circle cx="564.1" cy="178.1" r="2.8"/>
<circle cx="611.3" cy="166.0" r="2.8"/>
<circle cx="608.8" cy="202.3" r="2.8"/>
<circle cx="614.1" cy="196.2" r="2.8"/>
<circle cx="583.3" cy="190.3" r="2.8"/>
<circle cx="598.4" cy="153.5" r="2.8"/>
<circle cx="605.7" cy="178.1" r="2.8"/>
<circle cx="582.8" cy="171.8" r="2.8"/>
<circle cx="576.7" cy="208.2" r="2.8"/>
<circle cx="577.6" cy="202.3" r="2.8"/>
<circle cx="576.6" cy="153.5" r="2.8"/>
<circle cx="593.9" cy="171.8" r="2.8"/>
<circle cx="600.4" cy="171.8" r="2.8"/>
<circle cx="567.3" cy="220.8" r="2.8"/>
<circle cx="567.6" cy="202.3" r="2.8"/>
<circle cx="590.1" cy="153.5" r="2.8"/>
<circle cx="614.0" cy="178.1" r="2.8"/>
<circle cx="572.8" cy="159.8" r="2.8"/>
<circle cx="577.6" cy="166.0" r="2.8"/>
<circle cx="609.8" cy="233.7" r="2.8"/>
<circle cx="594.7" cy="196.2" r="2.8"/>
<circle cx="587.9" cy="153.5" r="2.8"/>
<circle cx="587.0" cy="153.5" r="2.8"/>
<circle cx="610.6" cy="171.8" r="2.8"/>
<circle cx="605.2" cy="184.0" r="2.8"/>
<circle cx="589.3" cy="171.8" r="2.8"/>
<circle cx="587.9" cy="220.8" r="2.8"/>
<circle cx="592.3" cy="159.8" r="2.8"/>
<circle cx="590.5" cy="220.8" r="2.8"/>
<circle cx="581.9" cy="178.1" r="2.8"/>
<circle cx="616.6" cy="214.5" r="2.8"/>
<circle cx="614.8" cy="159.8" r="2.8"/>
<circle cx="595.0" cy="208.2" r="2.8"/>
<circle cx="554.2" cy="233.7" r="2.8"/>
<circle cx="580.9" cy="190.3" r="2.8"/>
<circle cx="602.4" cy="166.0" r="2.8"/>
<circle cx="592.5" cy="190.3" r="2.8"/>
<circle cx="575.7" cy="166.0" r="2.8"/>
<circle cx="592.5" cy="233.7" r="2.8"/>
<circle cx="633.6" cy="153.5" r="2.8"/>
<circle cx="592.1" cy="171.8" r="2.8"/>
<circle cx="571.0" cy="233.7" r="2.8"/>
<circle cx="616.5" cy="227.4" r="2.8"/>
<circle cx="599.6" cy="202.3" r="2.8"/>
<circle cx="595.0" cy="159.8" r="2.8"/>
<circle cx="614.6" cy="178.1" r="2.8"/>
<circle cx="564.2" cy="153.5" r="2.8"/>
<circle cx="592.5" cy="196.2" r="2.8"/>
<circle cx="606.8" cy="171.8" r="2.8"/>
<circle cx="612.3" cy="184.0" r="2.8"/>
<circle cx="561.2" cy="196.2" r="2.8"/>
<circle cx="621.4" cy="153.5" r="2.8"/>
<circle cx="604.6" cy="208.2" r="2.8"/>
<circle cx="566.0" cy="184.0" r="2.8"/>
<circle cx="574.3" cy="178.1" r="2.8"/>
<circle cx="587.8" cy="214.5" r="2.8"/>
<circle cx="597.0" cy="208.2" r="2.8"/>
<circle cx="621.8" cy="178.1" r="2.8"/>
<circle cx="565.3" cy="208.2" r="2.8"/>
<circle cx="597.5" cy="208.2" r="2.8"/>
<circle cx="601.8" cy="208.2" r="2.8"/>
<circle cx="625.4" cy="178.1" r="2.8"/>
<circle cx="600.6" cy="190.3" r="2.8"/>
<circle cx="596.6" cy="214.5" r="2.8"/>
<circle cx="582.8" cy="233.7" r="2.8"/>
<circle cx="580.5" cy="220.8" r="2.8"/>
<circle cx="608.5" cy="166.0" r="2.8"/>
<circle cx="612.0" cy="159.8" r="2.8"/>
<circle cx="571.5" cy="233.7" r="2.8"/>
<circle cx="575.5" cy="220.8" r="2.8"/>
<circle cx="580.1" cy="196.2" r="2.8"/>
<circle cx="583.2" cy="214.5" r="2.8"/>
<circle cx="585.5" cy="208.2" r="2.8"/>
<circle cx="602.2" cy="166.0" r="2.8"/>
<circle cx="564.2" cy="214.5" r="2.8"/>
<circle cx="573.7" cy="159.8" r="2.8"/>
<circle cx="579.1" cy="208.2" r="2.8"/>
<circle cx="568.3" cy="196.2" r="2.8"/>
<circle cx="639.4" cy="153.5" r="2.8"/>
<circle cx="572.2" cy="178.1" r="2.8"/>
<circle cx="600.2" cy="166.0" r="2.8"/>
<circle cx="590.9" cy="214.5" r="2.8"/>
<circle cx="593.8" cy="233.7" r="2.8"/>
<circle cx="573.8" cy="196.2" r="2.8"/>
<circle cx="603.9" cy="184.0" r="2.8"/>
<circle cx="571.4" cy="166.0" r="2.8"/>
<circle cx="597.4" cy="214.5" r="2.8"/>
<circle cx="610.1" cy="171.8" r="2.8"/>
<circle cx="588.8" cy="233.7" r="2.8"/>
<circle cx="566.7" cy="153.5" r="2.8"/>
<circle cx="599.2" cy="202.3" r="2.8"/>
<circle cx="584.4" cy="153.5" r="2.8"/>
<circle cx="598.6" cy="178.1" r="2.8"/>
<circle cx="615.6" cy="190.3" r="2.8"/>
<circle cx="596.3" cy="214.5" r="2.8"/>
<circle cx="578.0" cy="184.0" r="2.8"/>
<circle cx="586.9" cy="171.8" r="2.8"/>
<circle cx="597.7" cy="153.5" r="2.8"/>
<circle cx="557.6" cy="227.4" r="2.8"/>
<circle cx="565.3" cy="190.3" r="2.8"/>
<circle cx="577.7" cy="196.2" r="2.8"/>
<circle cx="594.7" cy="190.3" r="2.8"/>
<circle cx="580.4" cy="214.5" r="2.8"/>
<circle cx="590.9" cy="220.8" r="2.8"/>
<circle cx="630.0" cy="153.5" r="2.8"/>
<circle cx="586.6" cy="227.4" r="2.8"/>
<circle cx="607.1" cy="208.2" r="2.8"/>
<circle cx="588.8" cy="153.5" r="2.8"/>
<circle cx="598.8" cy="178.1" r="2.8"/>
<circle cx="617.9" cy="184.0" r="2.8"/>
<circle cx="579.4" cy="190.3" r="2.8"/>
<circle cx="589.8" cy="208.2" r="2.8"/>
<circle cx="599.1" cy="166.0" r="2.8"/>
<circle cx="566.1" cy="190.3" r="2.8"/>
<circle cx="583.0" cy="220.8" r="2.8"/>
<circle cx="564.2" cy="171.8" r="2.8"/>
<circle cx="562.7" cy="214.5" r="2.8"/>
<circle cx="578.0" cy="153.5" r="2.8"/>
<circle cx="580.1" cy="190.3" r="2.8"/>
<circle cx="636.7" cy="196.2" r="2.8"/>
<circle cx="557.1" cy="166.0" r="2.8"/>
<circle cx="594.3" cy="227.4" r="2.8"/>
<circle cx="597.3" cy="196.2" r="2.8"/>
<circle cx="572.0" cy="196.2" r="2.8"/>
<circle cx="581.5" cy="171.8" r="2.8"/>
<circle cx="580.8" cy="184.0" r="2.8"/>
<circle cx="587.1" cy="166.0" r="2.8"/>
<circle cx="578.4" cy="159.8" r="2.8"/>
<circle cx="603.2" cy="196.2" r="2.8"/>
<circle cx="602.9" cy="202.3" r="2.8"/>
<circle cx="588.5" cy="214.5" r="2.8"/>
<circle cx="587.9" cy="166.0" r="2.8"/>
<circle cx="616.2" cy="214.5" r="2.8"/>
<circle cx="592.3" cy="220.8" r="2.8"/>
<circle cx="595.3" cy="153.5" r="2.8"/>
<circle cx="596.4" cy="233.7" r="2.8"/>
<circle cx="592.4" cy="196.2" r="2.8"/>
<circle cx="557.4" cy="166.0" r="2.8"/>
<circle cx="616.9" cy="184.0" r="2.8"/>
<circle cx="580.5" cy="227.4" r="2.8"/>
<circle cx="592.6" cy="214.5" r="2.8"/>
<circle cx="569.2" cy="202.3" r="2.8"/>
<circle cx="567.9" cy="220.8" r="2.8"/>
<circle cx="564.1" cy="171.8" r="2.8"/>
<circle cx="609.5" cy="196.2" r="2.8"/>
<circle cx="586.3" cy="233.7" r="2.8"/>
<circle cx="578.0" cy="153.5" r="2.8"/>
<circle cx="571.8" cy="227.4" r="2.8"/>
<circle cx="604.4" cy="196.2" r="2.8"/>
<circle cx="586.2" cy="153.5" r="2.8"/>
<circle cx="596.2" cy="178.1" r="2.8"/>
<circle cx="610.5" cy="178.1" r="2.8"/>
<circle cx="602.1" cy="214.5" r="2.8"/>
<circle cx="587.8" cy="171.8" r="2.8"/>
<circle cx="584.1" cy="196.2" r="2.8"/>
<circle cx="592.2" cy="196.2" r="2.8"/>
<circle cx="591.8" cy="171.8" r="2.8"/>
<circle cx="607.5" cy="184.0" r="2.8"/>
<circle cx="576.4" cy="227.4" r="2.8"/>
<circle cx="595.8" cy="166.0" r="2.8"/>
<circle cx="591.1" cy="171.8" r="2.8"/>
<circle cx="603.9" cy="184.0" r="2.8"/>
<circle cx="595.1" cy="159.8" r="2.8"/>
<circle cx="536.7" cy="214.5" r="2.8"/>
<circle cx="577.9" cy="202.3" r="2.8"/>
<circle cx="585.3" cy="202.3" r="2.8"/>
<circle cx="586.5" cy="214.5" r="2.8"/>
<circle cx="586.3" cy="227.4" r="2.8"/>
<circle cx="595.2" cy="178.1" r="2.8"/>
<circle cx="584.1" cy="227.4" r="2.8"/>
<circle cx="483.8" cy="227.4" r="2.8"/>
<circle cx="509.6" cy="227.4" r="2.8"/>
<circle cx="468.5" cy="240.0" r="2.8"/>
<circle cx="519.5" cy="220.8" r="2.8"/>
<circle cx="500.9" cy="240.0" r="2.8"/>
<circle cx="572.6" cy="220.8" r="2.8"/>
<circle cx="463.0" cy="233.7" r="2.8"/>
<circle cx="546.1" cy="227.4" r="2.8"/>
<circle cx="598.4" cy="227.4" r="2.8"/>
<circle cx="516.5" cy="233.7" r="2.8"/>
<circle cx="503.7" cy="240.0" r="2.8"/>
<circle cx="526.0" cy="220.8" r="2.8"/>
<circle cx="530.0" cy="233.7" r="2.8"/>
<circle cx="572.8" cy="240.0" r="2.8"/>
<circle cx="476.8" cy="220.8" r="2.8"/>
<circle cx="498.6" cy="240.0" r="2.8"/>
<circle cx="478.5" cy="227.4" r="2.8"/>
<circle cx="558.2" cy="240.0" r="2.8"/>
<circle cx="540.5" cy="240.0" r="2.8"/>
<circle cx="540.2" cy="233.7" r="2.8"/>
<circle cx="492.3" cy="220.8" r="2.8"/>
<circle cx="465.6" cy="240.0" r="2.8"/>
<circle cx="524.0" cy="240.0" r="2.8"/>
<circle cx="512.6" cy="227.4" r="2.8"/>
<circle cx="596.6" cy="240.0" r="2.8"/>
<circle cx="500.8" cy="227.4" r="2.8"/>
<circle cx="589.9" cy="240.0" r="2.8"/>
<circle cx="500.0" cy="233.7" r="2.8"/>
<circle cx="474.8" cy="233.7" r="2.8"/>
<circle cx="610.1" cy="240.0" r="2.8"/>
<circle cx="468.9" cy="240.0" r="2.8"/>
<circle cx="602.5" cy="227.4" r="2.8"/>
<circle cx="469.6" cy="240.0" r="2.8"/>
<circle cx="539.6" cy="227.4" r="2.8"/>
<circle cx="493.3" cy="227.4" r="2.8"/>
<circle cx="564.9" cy="240.0" r="2.8"/>
<circle cx="489.2" cy="240.0" r="2.8"/>
<circle cx="603.8" cy="240.0" r="2.8"/>
<circle cx="548.0" cy="227.4" r="2.8"/>
<circle cx="528.7" cy="227.4" r="2.8"/>
<circle cx="591.8" cy="240.0" r="2.8"/>
<circle cx="479.2" cy="240.0" r="2.8"/>
<circle cx="506.6" cy="240.0" r="2.8"/>
<circle cx="510.4" cy="233.7" r="2.8"/>
<circle cx="587.6" cy="227.4" r="2.8"/>
<circle cx="473.0" cy="233.7" r="2.8"/>
<circle cx="560.9" cy="233.7" r="2.8"/>
<circle cx="598.3" cy="220.8" r="2.8"/>
<circle cx="573.5" cy="233.7" r="2.8"/>
<circle cx="513.8" cy="227.4" r="2.8"/>
<circle cx="589.5" cy="240.0" r="2.8"/>
<circle cx="539.4" cy="233.7" r="2.8"/>
<circle cx="552.6" cy="240.0" r="2.8"/>
<circle cx="523.8" cy="227.4" r="2.8"/>
<circle cx="551.5" cy="220.8" r="2.8"/>
<circle cx="513.3" cy="220.8" r="2.8"/>
<circle cx="476.3" cy="227.4" r="2.8"/>
<circle cx="598.4" cy="240.0" r="2.8"/>
<circle cx="574.9" cy="240.0" r="2.8"/>
<circle cx="562.8" cy="220.8" r="2.8"/>
<circle cx="526.2" cy="227.4" r="2.8"/>
<circle cx="517.5" cy="240.0" r="2.8"/>
<circle cx="478.9" cy="220.8" r="2.8"/>
<circle cx="518.7" cy="233.7" r="2.8"/>
<circle cx="604.5" cy="233.7" r="2.8"/>
<circle cx="485.5" cy="233.7" r="2.8"/>
<circle cx="503.8" cy="233.7" r="2.8"/>
<circle cx="535.9" cy="227.4" r="2.8"/>
<circle cx="496.6" cy="220.8" r="2.8"/>
<circle cx="575.6" cy="233.7" r="2.8"/>
<circle cx="495.1" cy="240.0" r="2.8"/>
<circle cx="515.8" cy="233.7" r="2.8"/>
<circle cx="475.4" cy="227.4" r="2.8"/>
<circle cx="553.1" cy="240.0" r="2.8"/>
<circle cx="576.7" cy="227.4" r="2.8"/>
<circle cx="533.0" cy="240.0" r="2.8"/>
<circle cx="527.8" cy="233.7" r="2.8"/>
<circle cx="601.6" cy="220.8" r="2.8"/>
<circle cx="580.5" cy="227.4" r="2.8"/>
<circle cx="477.9" cy="227.4" r="2.8"/>
<circle cx="539.0" cy="233.7" r="2.8"/>
<circle cx="566.9" cy="220.8" r="2.8"/>
<circle cx="589.1" cy="233.7" r="2.8"/>
<circle cx="603.4" cy="220.8" r="2.8"/>
<circle cx="567.1" cy="227.4" r="2.8"/>
<circle cx="561.9" cy="227.4" r="2.8"/>
<circle cx="565.6" cy="233.7" r="2.8"/>
<circle cx="505.1" cy="227.4" r="2.8"/>
<circle cx="553.5" cy="227.4" r="2.8"/>
<circle cx="482.8" cy="240.0" r="2.8"/>
<circle cx="505.1" cy="240.0" r="2.8"/>
<circle cx="572.5" cy="233.7" r="2.8"/>
<circle cx="569.7" cy="233.7" r="2.8"/>
<circle cx="511.6" cy="233.7" r="2.8"/>
<circle cx="560.6" cy="240.0" r="2.8"/>
<circle cx="553.3" cy="227.4" r="2.8"/>
<circle cx="501.3" cy="220.8" r="2.8"/>
<circle cx="581.6" cy="220.8" r="2.8"/>
<circle cx="549.3" cy="240.0" r="2.8"/>
<circle cx="608.7" cy="220.8" r="2.8"/>
<circle cx="590.0" cy="227.4" r="2.8"/>
<circle cx="536.5" cy="240.0" r="2.8"/>
<circle cx="467.5" cy="233.7" r="2.8"/>
<circle cx="510.2" cy="233.7" r="2.8"/>
<circle cx="480.4" cy="227.4" r="2.8"/>
<circle cx="550.3" cy="220.8" r="2.8"/>
<circle cx="536.5" cy="220.8" r="2.8"/>
<circle cx="514.4" cy="227.4" r="2.8"/>
<circle cx="555.8" cy="227.4" r="2.8"/>
<circle cx="576.6" cy="240.0" r="2.8"/>
<circle cx="478.4" cy="240.0" r="2.8"/>
<circle cx="575.9" cy="227.4" r="2.8"/>
<circle cx="598.3" cy="240.0" r="2.8"/>
<circle cx="566.5" cy="233.7" r="2.8"/>
<circle cx="574.2" cy="220.8" r="2.8"/>
<circle cx="550.6" cy="227.4" r="2.8"/>
<circle cx="550.3" cy="227.4" r="2.8"/>
<circle cx="549.3" cy="240.0" r="2.8"/>
<circle cx="537.6" cy="240.0" r="2.8"/>
<circle cx="507.3" cy="227.4" r="2.8"/>
<circle cx="482.9" cy="240.0" r="2.8"/>
<circle cx="553.1" cy="240.0" r="2.8"/>
<circle cx="464.7" cy="227.4" r="2.8"/>
<circle cx="556.2" cy="240.0" r="2.8"/>
<circle cx="556.6" cy="227.4" r="2.8"/>
<circle cx="564.3" cy="240.0" r="2.8"/>
<circle cx="574.9" cy="240.0" r="2.8"/>
<circle cx="487.5" cy="233.7" r="2.8"/>
<circle cx="550.5" cy="240.0" r="2.8"/>
<circle cx="560.4" cy="240.0" r="2.8"/>
<circle cx="525.1" cy="227.4" r="2.8"/>
<circle cx="511.0" cy="233.7" r="2.8"/>
<circle cx="533.4" cy="240.0" r="2.8"/>
<circle cx="480.0" cy="220.8" r="2.8"/>
<circle cx="603.5" cy="220.8" r="2.8"/>
<circle cx="491.0" cy="240.0" r="2.8"/>
<circle cx="602.3" cy="233.7" r="2.8"/>
<circle cx="511.0" cy="240.0" r="2.8"/>
<circle cx="610.6" cy="233.7" r="2.8"/>
<circle cx="503.0" cy="220.8" r="2.8"/>
<circle cx="480.7" cy="220.8" r="2.8"/>
<circle cx="472.6" cy="227.4" r="2.8"/>
<circle cx="473.0" cy="240.0" r="2.8"/>
<circle cx="527.6" cy="233.7" r="2.8"/>
<circle cx="519.3" cy="233.7" r="2.8"/>
<circle cx="490.6" cy="227.4" r="2.8"/>
<circle cx="474.6" cy="233.7" r="2.8"/>
<circle cx="501.9" cy="240.0" r="2.8"/>
<circle cx="597.8" cy="240.0" r="2.8"/>
<circle cx="495.0" cy="233.7" r="2.8"/>
<circle cx="605.5" cy="227.4" r="2.8"/>
<circle cx="463.8" cy="240.0" r="2.8"/>
<circle cx="556.5" cy="220.8" r="2.8"/>
<circle cx="588.4" cy="233.7" r="2.8"/>
<circle cx="579.7" cy="240.0" r="2.8"/>
<circle cx="536.0" cy="220.8" r="2.8"/>
<circle cx="529.8" cy="220.8" r="2.8"/>
<circle cx="563.3" cy="233.7" r="2.8"/>
<circle cx="488.1" cy="220.8" r="2.8"/>
<circle cx="580.4" cy="220.8" r="2.8"/>
<circle cx="557.7" cy="233.7" r="2.8"/>
<circle cx="585.4" cy="220.8" r="2.8"/>
<circle cx="585.5" cy="240.0" r="2.8"/>
<circle cx="591.9" cy="220.8" r="2.8"/>
<circle cx="542.6" cy="227.4" r="2.8"/>
<circle cx="553.3" cy="220.8" r="2.8"/>
<circle cx="567.2" cy="240.0" r="2.8"/>
<circle cx="514.7" cy="220.8" r="2.8"/>
<circle cx="576.7" cy="227.4" r="2.8"/>
<circle cx="532.5" cy="233.7" r="2.8"/>
<circle cx="495.2" cy="240.0" r="2.8"/>
<circle cx="550.3" cy="227.4" r="2.8"/>
<circle cx="609.9" cy="227.4" r="2.8"/>
<circle cx="594.4" cy="220.8" r="2.8"/>
<circle cx="571.5" cy="240.0" r="2.8"/>
<circle cx="555.8" cy="220.8" r="2.8"/>
<circle cx="564.6" cy="233.7" r="2.8"/>
<circle cx="601.7" cy="240.0" r="2.8"/>
<circle cx="492.6" cy="227.4" r="2.8"/>
<circle cx="464.9" cy="240.0" r="2.8"/>
<circle cx="602.1" cy="227.4" r="2.8"/>
<circle cx="483.5" cy="233.7" r="2.8"/>
<circle cx="488.1" cy="220.8" r="2.8"/>
<circle cx="565.6" cy="233.7" r="2.8"/>
<circle cx="609.1" cy="233.7" r="2.8"/>
<circle cx="559.6" cy="233.7" r="2.8"/>
<circle cx="489.6" cy="240.0" r="2.8"/>
<circle cx="570.7" cy="240.0" r="2.8"/>
<circle cx="499.4" cy="233.7" r="2.8"/>
<circle cx="470.2" cy="233.7" r="2.8"/>
<circle cx="639.4" cy="153.5" r="2.8"/>
<circle cx="636.2" cy="159.8" r="2.8"/>
<circle cx="635.6" cy="153.5" r="2.8"/>
<circle cx="573.2" cy="159.8" r="2.8"/>
<circle cx="603.4" cy="159.8" r="2.8"/>
<circle cx="537.4" cy="159.8" r="2.8"/>
<circle cx="632.3" cy="153.5" r="2.8"/>
<circle cx="592.3" cy="159.8" r="2.8"/>
<circle cx="609.2" cy="153.5" r="2.8"/>
<circle cx="565.0" cy="166.0" r="2.8"/>
<circle cx="522.6" cy="166.0" r="2.8"/>
<circle cx="551.5" cy="153.5" r="2.8"/>
<circle cx="599.0" cy="159.8" r="2.8"/>
<circle cx="632.3" cy="153.5" r="2.8"/>
<circle cx="537.6" cy="159.8" r="2.8"/>
<circle cx="531.9" cy="153.5" r="2.8"/>
<circle cx="581.6" cy="153.5" r="2.8"/>
<circle cx="599.7" cy="166.0" r="2.8"/>
<circle cx="625.0" cy="159.8" r="2.8"/>
<circle cx="596.4" cy="166.0" r="2.8"/>
<circle cx="621.0" cy="153.5" r="2.8"/>
<circle cx="639.9" cy="159.8" r="2.8"/>
<circle cx="598.8" cy="159.8" r="2.8"/>
<circle cx="631.5" cy="166.0" r="2.8"/>
<circle cx="511.1" cy="166.0" r="2.8"/>
<circle cx="543.1" cy="166.0" r="2.8"/>
<circle cx="581.9" cy="153.5" r="2.8"/>
<circle cx="640.0" cy="159.8" r="2.8"/>
<circle cx="633.1" cy="153.5" r="2.8"/>
<circle cx="626.9" cy="159.8" r="2.8"/>
<circle cx="547.5" cy="159.8" r="2.8"/>
<circle cx="578.2" cy="159.8" r="2.8"/>
<circle cx="527.5" cy="159.8" r="2.8"/>
<circle cx="608.5" cy="159.8" r="2.8"/>
<circle cx="520.1" cy="166.0" r="2.8"/>
<circle cx="510.9" cy="153.5" r="2.8"/>
<circle cx="523.4" cy="166.0" r="2.8"/>
<circle cx="510.0" cy="166.0" r="2.8"/>
<circle cx="591.0" cy="159.8" r="2.8"/>
<circle cx="601.6" cy="166.0" r="2.8"/>
<circle cx="615.9" cy="166.0" r="2.8"/>
<circle cx="559.2" cy="159.8" r="2.8"/>
<circle cx="539.8" cy="159.8" r="2.8"/>
<circle cx="561.0" cy="166.0" r="2.8"/>
<circle cx="628.2" cy="153.5" r="2.8"/>
<circle cx="529.5" cy="166.0" r="2.8"/>
<circle cx="551.5" cy="153.5" r="2.8"/>
<circle cx="570.5" cy="159.8" r="2.8"/>
<circle cx="552.8" cy="159.8" r="2.8"/>
<circle cx="549.3" cy="159.8" r="2.8"/>
<circle cx="585.1" cy="159.8" r="2.8"/>
<circle cx="597.1" cy="153.5" r="2.8"/>
<circle cx="571.1" cy="153.5" r="2.8"/>
<circle cx="593.4" cy="153.5" r="2.8"/>
<circle cx="596.2" cy="166.0" r="2.8"/>
<circle cx="621.4" cy="166.0" r="2.8"/>
<circle cx="585.0" cy="153.5" r="2.8"/>
<circle cx="578.4" cy="166.0" r="2.8"/>
<circle cx="541.4" cy="153.5" r="2.8"/>
<circle cx="575.7" cy="159.8" r="2.8"/>
<circle cx="571.4" cy="153.5" r="2.8"/>
<circle cx="562.0" cy="153.5" r="2.8"/>
<circle cx="589.8" cy="159.8" r="2.8"/>
<circle cx="521.9" cy="166.0" r="2.8"/>
<circle cx="561.8" cy="153.5" r="2.8"/>
<circle cx="541.7" cy="159.8" r="2.8"/>
<circle cx="514.0" cy="166.0" r="2.8"/>
<circle cx="548.7" cy="166.0" r="2.8"/>
<circle cx="552.2" cy="166.0" r="2.8"/>
<circle cx="520.9" cy="166.0" r="2.8"/>
<circle cx="536.2" cy="166.0" r="2.8"/>
<circle cx="534.6" cy="153.5" r="2.8"/>
<circle cx="598.3" cy="153.5" r="2.8"/>
<circle cx="536.4" cy="159.8" r="2.8"/>
<circle cx="589.4" cy="166.0" r="2.8"/>
<circle cx="533.5" cy="153.5" r="2.8"/>
<circle cx="557.9" cy="166.0" r="2.8"/>
<circle cx="505.4" cy="153.5" r="2.8"/>
<circle cx="524.4" cy="159.8" r="2.8"/>
<circle cx="582.7" cy="153.5" r="2.8"/>
<circle cx="608.7" cy="153.5" r="2.8"/>
<circle cx="619.0" cy="159.8" r="2.8"/>
<circle cx="587.3" cy="166.0" r="2.8"/>
<circle cx="586.2" cy="166.0" r="2.8"/>
<circle cx="501.6" cy="166.0" r="2.8"/>
<circle cx="561.8" cy="166.0" r="2.8"/>
<circle cx="618.0" cy="153.5" r="2.8"/>
<circle cx="600.4" cy="159.8" r="2.8"/>
<circle cx="629.3" cy="166.0" r="2.8"/>
<circle cx="522.3" cy="166.0" r="2.8"/>
</g>
<rect x="413.5" y="42.5" width="335.5" height="260.0" fill="none" stroke="#7a7a7a" stroke-width="1"/>
<line x1="413.5" y1="302.5" x2="416.9" y2="302.5" stroke="#7a7a7a" stroke-width="1"/>
<line x1="749.0" y1="302.5" x2="745.6" y2="302.5" stroke="#7a7a7a" stroke-width="1"/>
<text x="408.2" y="307.9" font-size="13.6" font-family='"Liberation Sans", sans-serif' text-anchor="end" fill="#262626" stroke="#262626" stroke-width="0.2">3</text>
<line x1="413.5" y1="240.4" x2="416.9" y2="240.4" stroke="#7a7a7a" stroke-width="1"/>
<line x1="749.0" y1="240.4" x2="745.6" y2="240.4" stroke="#7a7a7a" stroke-width="1"/>
<text x="408.2" y="245.8" font-size="13.6" font-family='"Liberation Sans", sans-serif' text-anchor="end" fill="#262626" stroke="#262626" stroke-width="0.2">4</text>
<line x1="413.5" y1="178.3" x2="416.9" y2="178.3" stroke="#7a7a7a" stroke-width="1"/>
<line x1="749.0" y1="178.3" x2="745.6" y2="178.3" stroke="#7a7a7a" stroke-width="1"/>
<text x="408.2" y="183.7" font-size="13.6" font-family='"Liberation Sans", sans-serif' text-anchor="end" fill="#262626" stroke="#262626" stroke-width="0.2">5</text>
<line x1="413.5" y1="116.2" x2="416.9" y2="116.2" stroke="#7a7a7a" stroke-width="1"/>
<line x1="749.0" y1="116.2" x2="745.6" y2="116.2" stroke="#7a7a7a" stroke-width="1"/>
<text x="408.2" y="121.6" font-size="13.6" font-family='"Liberation Sans", sans-serif' text-anchor="end" fill="#262626" stroke="#262626" stroke-width="0.2">6</text>
<line x1="413.5" y1="54.1" x2="416.9" y2="54.1" stroke="#7a7a7a" stroke-width="1"/>
<line x1="749.0" y1="54.1" x2="745.6" y2="54.1" stroke="#7a7a7a" stroke-width="1"/>
<text x="408.2" y="59.5" font-size="13.6" font-family='"Liberation Sans", sans-serif' text-anchor="end" fill="#262626" stroke="#262626" stroke-width="0.2">7</text>
<line x1="413.5" y1="302.5" x2="413.5" y2="299.1" stroke="#7a7a7a" stroke-width="0.8"/>
<line x1="413.5" y1="42.5" x2="413.5" y2="45.9" stroke="#7a7a7a" stroke-width="0.8"/>
<line x1="464.0" y1="302.5" x2="464.0" y2="300.7" stroke="#7a7a7a" stroke-width="0.8"/>
<line x1="464.0" y1="42.5" x2="464.0" y2="44.3" stroke="#7a7a7a" stroke-width="0.8"/>
<line x1="493.5" y1="302.5" x2="493.5" y2="300.7" stroke="#7a7a7a" stroke-width="0.8"/>
<line x1="493.5" y1="42.5" x2="493.5" y2="44.3" stroke="#7a7a7a" stroke-width="0.8"/>
<line x1="514.5" y1="302.5" x2="514.5" y2="300.7" stroke="#7a7a7a" stroke-width="0.8"/>
<line x1="514.5" y1="42.5" x2="514.5" y2="44.3" stroke="#7a7a7a" stroke-width="0.8"/>
<line x1="530.8" y1="302.5" x2="530.8" y2="300.7" stroke="#7a7a7a" stroke-width="0.8"/>
<line x1="530.8" y1="42.5" x2="530.8" y2="44.3" stroke="#7a7a7a" stroke-width="0.8"/>
<line x1="544.0" y1="302.5" x2="544.0" y2="300.7" stroke="#7a7a7a" stroke-width="0.8"/>
<line x1="544.0" y1="42.5" x2="544.0" y2="44.3" stroke="#7a7a7a" stroke-width="0.8"/>
<line x1="555.3" y1="302.5" x2="555.3" y2="300.7" stroke="#7a7a7a" stroke-width="0.8"/>
<line x1="555.3" y1="42.5" x2="555.3" y2="44.3" stroke="#7a7a7a" stroke-width="0.8"/>
<line x1="565.0" y1="302.5" x2="565.0" y2="300.7" stroke="#7a7a7a" stroke-width="0.8"/>
<line x1="565.0" y1="42.5" x2="565.0" y2="44.3" stroke="#7a7a7a" stroke-width="0.8"/>
<line x1="573.6" y1="302.5" x2="573.6" y2="300.7" stroke="#7a7a7a" stroke-width="0.8"/>
<line x1="573.6" y1="42.5" x2="573.6" y2="44.3" stroke="#7a7a7a" stroke-width="0.8"/>
<line x1="581.2" y1="302.5" x2="581.2" y2="299.1" stroke="#7a7a7a" stroke-width="0.8"/>
<line x1="581.2" y1="42.5" x2="581.2" y2="45.9" stroke="#7a7a7a" stroke-width="0.8"/>
<line x1="631.7" y1="302.5" x2="631.7" y2="300.7" stroke="#7a7a7a" stroke-width="0.8"/>
<line x1="631.7" y1="42.5" x2="631.7" y2="44.3" stroke="#7a7a7a" stroke-width="0.8"/>
<line x1="661.3" y1="302.5" x2="661.3" y2="300.7" stroke="#7a7a7a" stroke-width="0.8"/>
<line x1="661.3" y1="42.5" x2="661.3" y2="44.3" stroke="#7a7a7a" stroke-width="0.8"/>
<line x1="682.2" y1="302.5" x2="682.2" y2="300.7" stroke="#7a7a7a" stroke-width="0.8"/>
<line x1="682.2" y1="42.5" x2="682.2" y2="44.3" stroke="#7a7a7a" stroke-width="0.8"/>
<line x1="698.5" y1="302.5" x2="698.5" y2="300.7" stroke="#7a7a7a" stroke-width="0.8"/>
<line x1="698.5" y1="42.5" x2="698.5" y2="44.3" stroke="#7a7a7a" stroke-width="0.8"/>
<line x1="711.8" y1="302.5" x2="711.8" y2="300.7" stroke="#7a7a7a" stroke-width="0.8"/>
<line x1="711.8" y1="42.5" x2="711.8" y2="44.3" stroke="#7a7a7a" stroke-width="0.8"/>
<line x1="723.0" y1="302.5" x2="723.0" y2="300.7" stroke="#7a7a7a" stroke-width="0.8"/>
<line x1="723.0" y1="42.5" x2="723.0" y2="44.3" stroke="#7a7a7a" stroke-width="0.8"/>
<line x1="732.7" y1="302.5" x2="732.7" y2="300.7" stroke="#7a7a7a" stroke-width="0.8"/>
<line x1="732.7" y1="42.5" x2="732.7" y2="44.3" stroke="#7a7a7a" stroke-width="0.8"/>
<line x1="741.3" y1="302.5" x2="741.3" y2="300.7" stroke="#7a7a7a" stroke-width="0.8"/>
<line x1="741.3" y1="42.5" x2="741.3" y2="44.3" stroke="#7a7a7a" stroke-width="0.8"/>
<text x="412.5" y="324.9" font-size="13.4" font-family='"Liberation Sans", sans-serif' text-anchor="middle" fill="#262626" stroke="#262626" stroke-width="0.2">10<tspan font-size="9.8" dy="-6.9">1</tspan></text>
<text x="580.2" y="324.9" font-size="13.4" font-family='"Liberation Sans", sans-serif' text-anchor="middle" fill="#262626" stroke="#262626" stroke-width="0.2">10<tspan font-size="9.8" dy="-6.9">2</tspan></text>
<text x="748.0" y="324.9" font-size="13.4" font-family='"Liberation Sans", sans-serif' text-anchor="middle" fill="#262626" stroke="#262626" stroke-width="0.2">10<tspan font-size="9.8" dy="-6.9">3</tspan></text>
<text x="581.2" y="345.5" font-size="14.5" font-family='"Liberation Serif", serif' text-anchor="middle" fill="#262626"  stroke="#262626" stroke-width="0.18">Hypocentral distance (km)</text>
<text transform="translate(388,184) rotate(-90)" font-family='"Liberation Serif", serif' fill="#262626" font-size="15"><tspan font-style="italic">M</tspan><tspan font-size="11" dy="4">W</tspan></text>
<text x="369.4" y="54.5" font-size="17.5" font-family='"Liberation Serif", serif' text-anchor="start" fill="#222"  stroke="#222" stroke-width="0.18">(b)</text>
<line x1="109.6" y1="557.8" x2="390.2" y2="557.8" stroke="#e3e3e3" stroke-width="0.8"/>
<line x1="109.6" y1="502.0" x2="390.2" y2="502.0" stroke="#e3e3e3" stroke-width="0.8"/>
<line x1="109.6" y1="446.1" x2="390.2" y2="446.1" stroke="#e3e3e3" stroke-width="0.8"/>
<line x1="144.7" y1="390.2" x2="144.7" y2="613.7" stroke="#e3e3e3" stroke-width="0.8"/>
<line x1="214.8" y1="390.2" x2="214.8" y2="613.7" stroke="#e3e3e3" stroke-width="0.8"/>
<line x1="285.0" y1="390.2" x2="285.0" y2="613.7" stroke="#e3e3e3" stroke-width="0.8"/>
<line x1="355.1" y1="390.2" x2="355.1" y2="613.7" stroke="#e3e3e3" stroke-width="0.8"/>
<rect x="121.3" y="613.6" width="15.6" height="0.1" fill="#000" stroke="#3a3a3a" stroke-width="0.85"/>
<rect x="136.9" y="589.1" width="15.6" height="24.6" fill="#808080" stroke="#3a3a3a" stroke-width="0.85"/>
<rect x="152.5" y="588.4" width="15.6" height="25.3" fill="#fff" stroke="#3a3a3a" stroke-width="0.85"/>
<rect x="191.4" y="612.2" width="15.6" height="1.5" fill="#000" stroke="#3a3a3a" stroke-width="0.85"/>
<rect x="207.0" y="435.8" width="15.6" height="177.9" fill="#808080" stroke="#3a3a3a" stroke-width="0.85"/>
<rect x="222.6" y="515.4" width="15.6" height="98.3" fill="#fff" stroke="#3a3a3a" stroke-width="0.85"/>
<rect x="261.6" y="613.5" width="15.6" height="0.2" fill="#000" stroke="#3a3a3a" stroke-width="0.85"/>
<rect x="277.2" y="519.5" width="15.6" height="94.2" fill="#808080" stroke="#3a3a3a" stroke-width="0.85"/>
<rect x="292.8" y="556.3" width="15.6" height="57.4" fill="#fff" stroke="#3a3a3a" stroke-width="0.85"/>
<rect x="331.7" y="613.6" width="15.6" height="0.1" fill="#000" stroke="#3a3a3a" stroke-width="0.85"/>
<rect x="347.3" y="588.4" width="15.6" height="25.3" fill="#808080" stroke="#3a3a3a" stroke-width="0.85"/>
<rect x="362.9" y="593.4" width="15.6" height="20.3" fill="#fff" stroke="#3a3a3a" stroke-width="0.85"/>
<rect x="109.6" y="390.2" width="280.6" height="223.50000000000006" fill="none" stroke="#7a7a7a" stroke-width="1"/>
<line x1="109.6" y1="613.7" x2="112.39999999999999" y2="613.7" stroke="#7a7a7a" stroke-width="1"/>
<line x1="390.2" y1="613.7" x2="387.4" y2="613.7" stroke="#7a7a7a" stroke-width="1"/>
<text x="104.9" y="617.2" font-size="9.9" font-family='"Liberation Serif", serif' text-anchor="end" fill="#262626"  stroke="#262626" stroke-width="0.18">0</text>
<line x1="109.6" y1="557.8" x2="112.39999999999999" y2="557.8" stroke="#7a7a7a" stroke-width="1"/>
<line x1="390.2" y1="557.8" x2="387.4" y2="557.8" stroke="#7a7a7a" stroke-width="1"/>
<text x="104.9" y="561.3" font-size="9.9" font-family='"Liberation Serif", serif' text-anchor="end" fill="#262626"  stroke="#262626" stroke-width="0.18">500</text>
<line x1="109.6" y1="502.0" x2="112.39999999999999" y2="502.0" stroke="#7a7a7a" stroke-width="1"/>
<line x1="390.2" y1="502.0" x2="387.4" y2="502.0" stroke="#7a7a7a" stroke-width="1"/>
<text x="104.9" y="505.5" font-size="9.9" font-family='"Liberation Serif", serif' text-anchor="end" fill="#262626"  stroke="#262626" stroke-width="0.18">1000</text>
<line x1="109.6" y1="446.1" x2="112.39999999999999" y2="446.1" stroke="#7a7a7a" stroke-width="1"/>
<line x1="390.2" y1="446.1" x2="387.4" y2="446.1" stroke="#7a7a7a" stroke-width="1"/>
<text x="104.9" y="449.6" font-size="9.9" font-family='"Liberation Serif", serif' text-anchor="end" fill="#262626"  stroke="#262626" stroke-width="0.18">1500</text>
<line x1="109.6" y1="390.2" x2="112.39999999999999" y2="390.2" stroke="#7a7a7a" stroke-width="1"/>
<line x1="390.2" y1="390.2" x2="387.4" y2="390.2" stroke="#7a7a7a" stroke-width="1"/>
<text x="104.9" y="393.7" font-size="9.9" font-family='"Liberation Serif", serif' text-anchor="end" fill="#262626"  stroke="#262626" stroke-width="0.18">2000</text>
<line x1="144.7" y1="613.7" x2="144.7" y2="610.9000000000001" stroke="#7a7a7a" stroke-width="1"/>
<line x1="144.7" y1="390.2" x2="144.7" y2="393.0" stroke="#7a7a7a" stroke-width="1"/>
<text x="144.7" y="627.5" font-size="9.7" font-family='"Liberation Serif", serif' text-anchor="middle" fill="#262626"  stroke="#262626" stroke-width="0.18">3.0&lt;M&lt;4.0</text>
<line x1="214.8" y1="613.7" x2="214.8" y2="610.9000000000001" stroke="#7a7a7a" stroke-width="1"/>
<line x1="214.8" y1="390.2" x2="214.8" y2="393.0" stroke="#7a7a7a" stroke-width="1"/>
<text x="214.8" y="627.5" font-size="9.7" font-family='"Liberation Serif", serif' text-anchor="middle" fill="#262626"  stroke="#262626" stroke-width="0.18">4.0&lt;M&lt;5.0</text>
<line x1="285.0" y1="613.7" x2="285.0" y2="610.9000000000001" stroke="#7a7a7a" stroke-width="1"/>
<line x1="285.0" y1="390.2" x2="285.0" y2="393.0" stroke="#7a7a7a" stroke-width="1"/>
<text x="285.0" y="627.5" font-size="9.7" font-family='"Liberation Serif", serif' text-anchor="middle" fill="#262626"  stroke="#262626" stroke-width="0.18">5.0&lt;M&lt;6.0</text>
<line x1="355.1" y1="613.7" x2="355.1" y2="610.9000000000001" stroke="#7a7a7a" stroke-width="1"/>
<line x1="355.1" y1="390.2" x2="355.1" y2="393.0" stroke="#7a7a7a" stroke-width="1"/>
<text x="355.1" y="627.5" font-size="9.7" font-family='"Liberation Serif", serif' text-anchor="middle" fill="#262626"  stroke="#262626" stroke-width="0.18">4.0&lt;M&lt;5.0</text>
<text x="249.5" y="637" font-family='"Liberation Serif", serif' fill="#262626" font-size="11.5" text-anchor="middle"><tspan font-style="italic">M</tspan><tspan font-size="8" dy="3">w</tspan></text>
<text transform="translate(80.5,502) rotate(-90)" font-family='"Liberation Serif", serif' fill="#262626" stroke="#262626" stroke-width="0.15" font-size="10.6" text-anchor="middle">Number of ground motion</text>
<text x="60.7" y="394.2" font-size="14.5" font-family='"Liberation Serif", serif' text-anchor="start" fill="#222"  stroke="#222" stroke-width="0.18">(c)</text>
<rect x="295.2" y="401.2" width="83.9" height="46.8" fill="#fff" stroke="#555" stroke-width="0.8"/>
<rect x="298.1" y="405.0" width="24.1" height="10.8" fill="#000" stroke="#222" stroke-width="0.8"/>
<text x="324.7" y="413.3" font-family='"Liberation Serif", serif' fill="#262626" font-size="9.8" textLength="42.6" lengthAdjust="spacingAndGlyphs">0&lt;<tspan font-style="italic">V</tspan><tspan font-size="7.2" dy="3.7">s30</tspan><tspan dy="-3.7">&lt;180</tspan></text>
<rect x="298.1" y="419.6" width="24.1" height="10.8" fill="#808080" stroke="#222" stroke-width="0.8"/>
<text x="324.7" y="427.9" font-family='"Liberation Serif", serif' fill="#262626" font-size="9.8" textLength="50.6" lengthAdjust="spacingAndGlyphs">180&lt;<tspan font-style="italic">V</tspan><tspan font-size="7.2" dy="3.7">s30</tspan><tspan dy="-3.7">&lt;360</tspan></text>
<rect x="298.1" y="434.3" width="24.1" height="10.8" fill="#fff" stroke="#222" stroke-width="0.8"/>
<text x="324.7" y="442.6" font-family='"Liberation Serif", serif' fill="#262626" font-size="9.8" textLength="50.6" lengthAdjust="spacingAndGlyphs">360&lt;<tspan font-style="italic">V</tspan><tspan font-size="7.2" dy="3.7">s30</tspan><tspan dy="-3.7">&lt;760</tspan></text>
<line x1="563.8" y1="390.7" x2="563.8" y2="617.0" stroke="#d0d0d0" stroke-width="0.8" stroke-dasharray="1.5,1.5"/>
<line x1="648.0" y1="390.7" x2="648.0" y2="617.0" stroke="#d0d0d0" stroke-width="0.8" stroke-dasharray="1.5,1.5"/>
<line x1="732.2" y1="390.7" x2="732.2" y2="617.0" stroke="#d0d0d0" stroke-width="0.8" stroke-dasharray="1.5,1.5"/>
<line x1="479.6" y1="560.4" x2="774.3" y2="560.4" stroke="#d0d0d0" stroke-width="0.8" stroke-dasharray="1.5,1.5"/>
<line x1="479.6" y1="503.9" x2="774.3" y2="503.9" stroke="#d0d0d0" stroke-width="0.8" stroke-dasharray="1.5,1.5"/>
<line x1="479.6" y1="447.3" x2="774.3" y2="447.3" stroke="#d0d0d0" stroke-width="0.8" stroke-dasharray="1.5,1.5"/>
<circle cx="479.6" cy="554.8" r="2.6" fill="#a8a8a8" stroke="#5a5a5a" stroke-width="0.9"/>
<circle cx="530.1" cy="419.0" r="2.6" fill="#a8a8a8" stroke="#5a5a5a" stroke-width="0.9"/>
<circle cx="538.5" cy="526.5" r="2.6" fill="#a8a8a8" stroke="#5a5a5a" stroke-width="0.9"/>
<circle cx="538.5" cy="537.8" r="2.6" fill="#a8a8a8" stroke="#5a5a5a" stroke-width="0.9"/>
<circle cx="538.5" cy="560.4" r="2.6" fill="#a8a8a8" stroke="#5a5a5a" stroke-width="0.9"/>
<circle cx="538.5" cy="566.1" r="2.6" fill="#a8a8a8" stroke="#5a5a5a" stroke-width="0.9"/>
<circle cx="538.5" cy="583.1" r="2.6" fill="#a8a8a8" stroke="#5a5a5a" stroke-width="0.9"/>
<circle cx="547.0" cy="498.2" r="2.6" fill="#a8a8a8" stroke="#5a5a5a" stroke-width="0.9"/>
<circle cx="547.0" cy="549.1" r="2.6" fill="#a8a8a8" stroke="#5a5a5a" stroke-width="0.9"/>
<circle cx="547.0" cy="554.8" r="2.6" fill="#a8a8a8" stroke="#5a5a5a" stroke-width="0.9"/>
<circle cx="555.4" cy="492.5" r="2.6" fill="#a8a8a8" stroke="#5a5a5a" stroke-width="0.9"/>
<circle cx="555.4" cy="498.2" r="2.6" fill="#a8a8a8" stroke="#5a5a5a" stroke-width="0.9"/>
<circle cx="555.4" cy="503.9" r="2.6" fill="#a8a8a8" stroke="#5a5a5a" stroke-width="0.9"/>
<circle cx="555.4" cy="509.5" r="2.6" fill="#a8a8a8" stroke="#5a5a5a" stroke-width="0.9"/>
<circle cx="555.4" cy="515.2" r="2.6" fill="#a8a8a8" stroke="#5a5a5a" stroke-width="0.9"/>
<circle cx="555.4" cy="520.8" r="2.6" fill="#a8a8a8" stroke="#5a5a5a" stroke-width="0.9"/>
<circle cx="555.4" cy="526.5" r="2.6" fill="#a8a8a8" stroke="#5a5a5a" stroke-width="0.9"/>
<circle cx="555.4" cy="543.5" r="2.6" fill="#a8a8a8" stroke="#5a5a5a" stroke-width="0.9"/>
<circle cx="555.4" cy="549.1" r="2.6" fill="#a8a8a8" stroke="#5a5a5a" stroke-width="0.9"/>
<circle cx="555.4" cy="554.8" r="2.6" fill="#a8a8a8" stroke="#5a5a5a" stroke-width="0.9"/>
<circle cx="555.4" cy="560.4" r="2.6" fill="#a8a8a8" stroke="#5a5a5a" stroke-width="0.9"/>
<circle cx="555.4" cy="566.1" r="2.6" fill="#a8a8a8" stroke="#5a5a5a" stroke-width="0.9"/>
<circle cx="555.4" cy="577.4" r="2.6" fill="#a8a8a8" stroke="#5a5a5a" stroke-width="0.9"/>
<circle cx="555.4" cy="583.1" r="2.6" fill="#a8a8a8" stroke="#5a5a5a" stroke-width="0.9"/>
<circle cx="563.8" cy="407.7" r="2.6" fill="#a8a8a8" stroke="#5a5a5a" stroke-width="0.9"/>
<circle cx="563.8" cy="413.3" r="2.6" fill="#a8a8a8" stroke="#5a5a5a" stroke-width="0.9"/>
<circle cx="563.8" cy="419.0" r="2.6" fill="#a8a8a8" stroke="#5a5a5a" stroke-width="0.9"/>
<circle cx="563.8" cy="424.6" r="2.6" fill="#a8a8a8" stroke="#5a5a5a" stroke-width="0.9"/>
<circle cx="563.8" cy="430.3" r="2.6" fill="#a8a8a8" stroke="#5a5a5a" stroke-width="0.9"/>
<circle cx="563.8" cy="447.3" r="2.6" fill="#a8a8a8" stroke="#5a5a5a" stroke-width="0.9"/>
<circle cx="563.8" cy="452.9" r="2.6" fill="#a8a8a8" stroke="#5a5a5a" stroke-width="0.9"/>
<circle cx="563.8" cy="464.2" r="2.6" fill="#a8a8a8" stroke="#5a5a5a" stroke-width="0.9"/>
<circle cx="563.8" cy="475.6" r="2.6" fill="#a8a8a8" stroke="#5a5a5a" stroke-width="0.9"/>
<circle cx="563.8" cy="481.2" r="2.6" fill="#a8a8a8" stroke="#5a5a5a" stroke-width="0.9"/>
<circle cx="563.8" cy="492.5" r="2.6" fill="#a8a8a8" stroke="#5a5a5a" stroke-width="0.9"/>
<circle cx="563.8" cy="498.2" r="2.6" fill="#a8a8a8" stroke="#5a5a5a" stroke-width="0.9"/>
<circle cx="563.8" cy="509.5" r="2.6" fill="#a8a8a8" stroke="#5a5a5a" stroke-width="0.9"/>
<circle cx="563.8" cy="515.2" r="2.6" fill="#a8a8a8" stroke="#5a5a5a" stroke-width="0.9"/>
<circle cx="563.8" cy="520.8" r="2.6" fill="#a8a8a8" stroke="#5a5a5a" stroke-width="0.9"/>
<circle cx="563.8" cy="526.5" r="2.6" fill="#a8a8a8" stroke="#5a5a5a" stroke-width="0.9"/>
<circle cx="563.8" cy="532.1" r="2.6" fill="#a8a8a8" stroke="#5a5a5a" stroke-width="0.9"/>
<circle cx="563.8" cy="537.8" r="2.6" fill="#a8a8a8" stroke="#5a5a5a" stroke-width="0.9"/>
<circle cx="563.8" cy="543.5" r="2.6" fill="#a8a8a8" stroke="#5a5a5a" stroke-width="0.9"/>
<circle cx="563.8" cy="549.1" r="2.6" fill="#a8a8a8" stroke="#5a5a5a" stroke-width="0.9"/>
<circle cx="563.8" cy="554.8" r="2.6" fill="#a8a8a8" stroke="#5a5a5a" stroke-width="0.9"/>
<circle cx="563.8" cy="560.4" r="2.6" fill="#a8a8a8" stroke="#5a5a5a" stroke-width="0.9"/>
<circle cx="563.8" cy="566.1" r="2.6" fill="#a8a8a8" stroke="#5a5a5a" stroke-width="0.9"/>
<circle cx="563.8" cy="571.7" r="2.6" fill="#a8a8a8" stroke="#5a5a5a" stroke-width="0.9"/>
<circle cx="563.8" cy="577.4" r="2.6" fill="#a8a8a8" stroke="#5a5a5a" stroke-width="0.9"/>
<circle cx="563.8" cy="583.1" r="2.6" fill="#a8a8a8" stroke="#5a5a5a" stroke-width="0.9"/>
<circle cx="563.8" cy="600.0" r="2.6" fill="#a8a8a8" stroke="#5a5a5a" stroke-width="0.9"/>
<circle cx="572.2" cy="475.6" r="2.6" fill="#a8a8a8" stroke="#5a5a5a" stroke-width="0.9"/>
<circle cx="572.2" cy="509.5" r="2.6" fill="#a8a8a8" stroke="#5a5a5a" stroke-width="0.9"/>
<circle cx="572.2" cy="515.2" r="2.6" fill="#a8a8a8" stroke="#5a5a5a" stroke-width="0.9"/>
<circle cx="572.2" cy="526.5" r="2.6" fill="#a8a8a8" stroke="#5a5a5a" stroke-width="0.9"/>
<circle cx="572.2" cy="532.1" r="2.6" fill="#a8a8a8" stroke="#5a5a5a" stroke-width="0.9"/>
<circle cx="572.2" cy="537.8" r="2.6" fill="#a8a8a8" stroke="#5a5a5a" stroke-width="0.9"/>
<circle cx="572.2" cy="543.5" r="2.6" fill="#a8a8a8" stroke="#5a5a5a" stroke-width="0.9"/>
<circle cx="572.2" cy="554.8" r="2.6" fill="#a8a8a8" stroke="#5a5a5a" stroke-width="0.9"/>
<circle cx="572.2" cy="560.4" r="2.6" fill="#a8a8a8" stroke="#5a5a5a" stroke-width="0.9"/>
<circle cx="572.2" cy="566.1" r="2.6" fill="#a8a8a8" stroke="#5a5a5a" stroke-width="0.9"/>
<circle cx="572.2" cy="571.7" r="2.6" fill="#a8a8a8" stroke="#5a5a5a" stroke-width="0.9"/>
<circle cx="572.2" cy="594.4" r="2.6" fill="#a8a8a8" stroke="#5a5a5a" stroke-width="0.9"/>
<circle cx="580.6" cy="464.2" r="2.6" fill="#a8a8a8" stroke="#5a5a5a" stroke-width="0.9"/>
<circle cx="580.6" cy="475.6" r="2.6" fill="#a8a8a8" stroke="#5a5a5a" stroke-width="0.9"/>
<circle cx="580.6" cy="498.2" r="2.6" fill="#a8a8a8" stroke="#5a5a5a" stroke-width="0.9"/>
<circle cx="580.6" cy="515.2" r="2.6" fill="#a8a8a8" stroke="#5a5a5a" stroke-width="0.9"/>
<circle cx="580.6" cy="520.8" r="2.6" fill="#a8a8a8" stroke="#5a5a5a" stroke-width="0.9"/>
<circle cx="580.6" cy="526.5" r="2.6" fill="#a8a8a8" stroke="#5a5a5a" stroke-width="0.9"/>
<circle cx="580.6" cy="532.1" r="2.6" fill="#a8a8a8" stroke="#5a5a5a" stroke-width="0.9"/>
<circle cx="580.6" cy="537.8" r="2.6" fill="#a8a8a8" stroke="#5a5a5a" stroke-width="0.9"/>
<circle cx="580.6" cy="543.5" r="2.6" fill="#a8a8a8" stroke="#5a5a5a" stroke-width="0.9"/>
<circle cx="580.6" cy="549.1" r="2.6" fill="#a8a8a8" stroke="#5a5a5a" stroke-width="0.9"/>
<circle cx="580.6" cy="554.8" r="2.6" fill="#a8a8a8" stroke="#5a5a5a" stroke-width="0.9"/>
<circle cx="580.6" cy="560.4" r="2.6" fill="#a8a8a8" stroke="#5a5a5a" stroke-width="0.9"/>
<circle cx="580.6" cy="566.1" r="2.6" fill="#a8a8a8" stroke="#5a5a5a" stroke-width="0.9"/>
<circle cx="580.6" cy="571.7" r="2.6" fill="#a8a8a8" stroke="#5a5a5a" stroke-width="0.9"/>
<circle cx="580.6" cy="583.1" r="2.6" fill="#a8a8a8" stroke="#5a5a5a" stroke-width="0.9"/>
<circle cx="589.1" cy="402.0" r="2.6" fill="#a8a8a8" stroke="#5a5a5a" stroke-width="0.9"/>
<circle cx="589.1" cy="430.3" r="2.6" fill="#a8a8a8" stroke="#5a5a5a" stroke-width="0.9"/>
<circle cx="589.1" cy="447.3" r="2.6" fill="#a8a8a8" stroke="#5a5a5a" stroke-width="0.9"/>
<circle cx="589.1" cy="458.6" r="2.6" fill="#a8a8a8" stroke="#5a5a5a" stroke-width="0.9"/>
<circle cx="589.1" cy="475.6" r="2.6" fill="#a8a8a8" stroke="#5a5a5a" stroke-width="0.9"/>
<circle cx="589.1" cy="481.2" r="2.6" fill="#a8a8a8" stroke="#5a5a5a" stroke-width="0.9"/>
<circle cx="589.1" cy="520.8" r="2.6" fill="#a8a8a8" stroke="#5a5a5a" stroke-width="0.9"/>
<circle cx="589.1" cy="532.1" r="2.6" fill="#a8a8a8" stroke="#5a5a5a" stroke-width="0.9"/>
<circle cx="589.1" cy="537.8" r="2.6" fill="#a8a8a8" stroke="#5a5a5a" stroke-width="0.9"/>
<circle cx="589.1" cy="543.5" r="2.6" fill="#a8a8a8" stroke="#5a5a5a" stroke-width="0.9"/>
<circle cx="589.1" cy="549.1" r="2.6" fill="#a8a8a8" stroke="#5a5a5a" stroke-width="0.9"/>
<circle cx="589.1" cy="554.8" r="2.6" fill="#a8a8a8" stroke="#5a5a5a" stroke-width="0.9"/>
<circle cx="589.1" cy="560.4" r="2.6" fill="#a8a8a8" stroke="#5a5a5a" stroke-width="0.9"/>
<circle cx="589.1" cy="566.1" r="2.6" fill="#a8a8a8" stroke="#5a5a5a" stroke-width="0.9"/>
<circle cx="589.1" cy="571.7" r="2.6" fill="#a8a8a8" stroke="#5a5a5a" stroke-width="0.9"/>
<circle cx="589.1" cy="577.4" r="2.6" fill="#a8a8a8" stroke="#5a5a5a" stroke-width="0.9"/>
<circle cx="589.1" cy="583.1" r="2.6" fill="#a8a8a8" stroke="#5a5a5a" stroke-width="0.9"/>
<circle cx="589.1" cy="588.7" r="2.6" fill="#a8a8a8" stroke="#5a5a5a" stroke-width="0.9"/>
<circle cx="597.5" cy="433.7" r="2.6" fill="#a8a8a8" stroke="#5a5a5a" stroke-width="0.9"/>
<circle cx="597.5" cy="438.8" r="2.6" fill="#a8a8a8" stroke="#5a5a5a" stroke-width="0.9"/>
<circle cx="597.5" cy="443.3" r="2.6" fill="#a8a8a8" stroke="#5a5a5a" stroke-width="0.9"/>
<circle cx="597.5" cy="447.8" r="2.6" fill="#a8a8a8" stroke="#5a5a5a" stroke-width="0.9"/>
<circle cx="597.5" cy="452.9" r="2.6" fill="#a8a8a8" stroke="#5a5a5a" stroke-width="0.9"/>
<circle cx="597.5" cy="468.8" r="2.6" fill="#a8a8a8" stroke="#5a5a5a" stroke-width="0.9"/>
<circle cx="597.5" cy="475.0" r="2.6" fill="#a8a8a8" stroke="#5a5a5a" stroke-width="0.9"/>
<circle cx="597.5" cy="486.9" r="2.6" fill="#a8a8a8" stroke="#5a5a5a" stroke-width="0.9"/>
<circle cx="597.5" cy="492.5" r="2.6" fill="#a8a8a8" stroke="#5a5a5a" stroke-width="0.9"/>
<circle cx="597.5" cy="498.2" r="2.6" fill="#a8a8a8" stroke="#5a5a5a" stroke-width="0.9"/>
<circle cx="597.5" cy="503.9" r="2.6" fill="#a8a8a8" stroke="#5a5a5a" stroke-width="0.9"/>
<circle cx="597.5" cy="509.5" r="2.6" fill="#a8a8a8" stroke="#5a5a5a" stroke-width="0.9"/>
<circle cx="597.5" cy="520.8" r="2.6" fill="#a8a8a8" stroke="#5a5a5a" stroke-width="0.9"/>
<circle cx="597.5" cy="526.5" r="2.6" fill="#a8a8a8" stroke="#5a5a5a" stroke-width="0.9"/>
<circle cx="597.5" cy="532.1" r="2.6" fill="#a8a8a8" stroke="#5a5a5a" stroke-width="0.9"/>
<circle cx="597.5" cy="543.5" r="2.6" fill="#a8a8a8" stroke="#5a5a5a" stroke-width="0.9"/>
<circle cx="597.5" cy="549.1" r="2.6" fill="#a8a8a8" stroke="#5a5a5a" stroke-width="0.9"/>
<circle cx="597.5" cy="560.4" r="2.6" fill="#a8a8a8" stroke="#5a5a5a" stroke-width="0.9"/>
<circle cx="597.5" cy="566.1" r="2.6" fill="#a8a8a8" stroke="#5a5a5a" stroke-width="0.9"/>
<circle cx="597.5" cy="571.7" r="2.6" fill="#a8a8a8" stroke="#5a5a5a" stroke-width="0.9"/>
<circle cx="597.5" cy="577.4" r="2.6" fill="#a8a8a8" stroke="#5a5a5a" stroke-width="0.9"/>
<circle cx="597.5" cy="583.1" r="2.6" fill="#a8a8a8" stroke="#5a5a5a" stroke-width="0.9"/>
<circle cx="597.5" cy="594.4" r="2.6" fill="#a8a8a8" stroke="#5a5a5a" stroke-width="0.9"/>
<circle cx="605.9" cy="419.0" r="2.6" fill="#a8a8a8" stroke="#5a5a5a" stroke-width="0.9"/>
<circle cx="605.9" cy="464.2" r="2.6" fill="#a8a8a8" stroke="#5a5a5a" stroke-width="0.9"/>
<circle cx="605.9" cy="481.2" r="2.6" fill="#a8a8a8" stroke="#5a5a5a" stroke-width="0.9"/>
<circle cx="605.9" cy="486.9" r="2.6" fill="#a8a8a8" stroke="#5a5a5a" stroke-width="0.9"/>
<circle cx="605.9" cy="503.9" r="2.6" fill="#a8a8a8" stroke="#5a5a5a" stroke-width="0.9"/>
<circle cx="605.9" cy="509.5" r="2.6" fill="#a8a8a8" stroke="#5a5a5a" stroke-width="0.9"/>
<circle cx="605.9" cy="515.2" r="2.6" fill="#a8a8a8" stroke="#5a5a5a" stroke-width="0.9"/>
<circle cx="605.9" cy="520.8" r="2.6" fill="#a8a8a8" stroke="#5a5a5a" stroke-width="0.9"/>
<circle cx="605.9" cy="526.5" r="2.6" fill="#a8a8a8" stroke="#5a5a5a" stroke-width="0.9"/>
<circle cx="605.9" cy="532.1" r="2.6" fill="#a8a8a8" stroke="#5a5a5a" stroke-width="0.9"/>
<circle cx="605.9" cy="537.8" r="2.6" fill="#a8a8a8" stroke="#5a5a5a" stroke-width="0.9"/>
<circle cx="605.9" cy="543.5" r="2.6" fill="#a8a8a8" stroke="#5a5a5a" stroke-width="0.9"/>
<circle cx="605.9" cy="549.1" r="2.6" fill="#a8a8a8" stroke="#5a5a5a" stroke-width="0.9"/>
<circle cx="605.9" cy="554.8" r="2.6" fill="#a8a8a8" stroke="#5a5a5a" stroke-width="0.9"/>
<circle cx="605.9" cy="560.4" r="2.6" fill="#a8a8a8" stroke="#5a5a5a" stroke-width="0.9"/>
<circle cx="605.9" cy="566.1" r="2.6" fill="#a8a8a8" stroke="#5a5a5a" stroke-width="0.9"/>
<circle cx="605.9" cy="571.7" r="2.6" fill="#a8a8a8" stroke="#5a5a5a" stroke-width="0.9"/>
<circle cx="605.9" cy="577.4" r="2.6" fill="#a8a8a8" stroke="#5a5a5a" stroke-width="0.9"/>
<circle cx="605.9" cy="583.1" r="2.6" fill="#a8a8a8" stroke="#5a5a5a" stroke-width="0.9"/>
<circle cx="614.3" cy="447.3" r="2.6" fill="#a8a8a8" stroke="#5a5a5a" stroke-width="0.9"/>
<circle cx="614.3" cy="452.9" r="2.6" fill="#a8a8a8" stroke="#5a5a5a" stroke-width="0.9"/>
<circle cx="614.3" cy="458.6" r="2.6" fill="#a8a8a8" stroke="#5a5a5a" stroke-width="0.9"/>
<circle cx="614.3" cy="503.9" r="2.6" fill="#a8a8a8" stroke="#5a5a5a" stroke-width="0.9"/>
<circle cx="614.3" cy="515.2" r="2.6" fill="#a8a8a8" stroke="#5a5a5a" stroke-width="0.9"/>
<circle cx="614.3" cy="520.8" r="2.6" fill="#a8a8a8" stroke="#5a5a5a" stroke-width="0.9"/>
<circle cx="614.3" cy="526.5" r="2.6" fill="#a8a8a8" stroke="#5a5a5a" stroke-width="0.9"/>
<circle cx="614.3" cy="532.1" r="2.6" fill="#a8a8a8" stroke="#5a5a5a" stroke-width="0.9"/>
<circle cx="614.3" cy="537.8" r="2.6" fill="#a8a8a8" stroke="#5a5a5a" stroke-width="0.9"/>
<circle cx="614.3" cy="543.5" r="2.6" fill="#a8a8a8" stroke="#5a5a5a" stroke-width="0.9"/>
<circle cx="614.3" cy="549.1" r="2.6" fill="#a8a8a8" stroke="#5a5a5a" stroke-width="0.9"/>
<circle cx="614.3" cy="554.8" r="2.6" fill="#a8a8a8" stroke="#5a5a5a" stroke-width="0.9"/>
<circle cx="614.3" cy="566.1" r="2.6" fill="#a8a8a8" stroke="#5a5a5a" stroke-width="0.9"/>
<circle cx="614.3" cy="571.7" r="2.6" fill="#a8a8a8" stroke="#5a5a5a" stroke-width="0.9"/>
<circle cx="614.3" cy="577.4" r="2.6" fill="#a8a8a8" stroke="#5a5a5a" stroke-width="0.9"/>
<circle cx="614.3" cy="583.1" r="2.6" fill="#a8a8a8" stroke="#5a5a5a" stroke-width="0.9"/>
<circle cx="622.7" cy="481.2" r="2.6" fill="#a8a8a8" stroke="#5a5a5a" stroke-width="0.9"/>
<circle cx="622.7" cy="492.5" r="2.6" fill="#a8a8a8" stroke="#5a5a5a" stroke-width="0.9"/>
<circle cx="622.7" cy="498.2" r="2.6" fill="#a8a8a8" stroke="#5a5a5a" stroke-width="0.9"/>
<circle cx="622.7" cy="509.5" r="2.6" fill="#a8a8a8" stroke="#5a5a5a" stroke-width="0.9"/>
<circle cx="622.7" cy="515.2" r="2.6" fill="#a8a8a8" stroke="#5a5a5a" stroke-width="0.9"/>
<circle cx="622.7" cy="520.8" r="2.6" fill="#a8a8a8" stroke="#5a5a5a" stroke-width="0.9"/>
<circle cx="622.7" cy="526.5" r="2.6" fill="#a8a8a8" stroke="#5a5a5a" stroke-width="0.9"/>
<circle cx="622.7" cy="532.1" r="2.6" fill="#a8a8a8" stroke="#5a5a5a" stroke-width="0.9"/>
<circle cx="622.7" cy="537.8" r="2.6" fill="#a8a8a8" stroke="#5a5a5a" stroke-width="0.9"/>
<circle cx="622.7" cy="543.5" r="2.6" fill="#a8a8a8" stroke="#5a5a5a" stroke-width="0.9"/>
<circle cx="622.7" cy="549.1" r="2.6" fill="#a8a8a8" stroke="#5a5a5a" stroke-width="0.9"/>
<circle cx="622.7" cy="554.8" r="2.6" fill="#a8a8a8" stroke="#5a5a5a" stroke-width="0.9"/>
<circle cx="622.7" cy="560.4" r="2.6" fill="#a8a8a8" stroke="#5a5a5a" stroke-width="0.9"/>
<circle cx="622.7" cy="577.4" r="2.6" fill="#a8a8a8" stroke="#5a5a5a" stroke-width="0.9"/>
<circle cx="622.7" cy="583.1" r="2.6" fill="#a8a8a8" stroke="#5a5a5a" stroke-width="0.9"/>
<circle cx="622.7" cy="588.7" r="2.6" fill="#a8a8a8" stroke="#5a5a5a" stroke-width="0.9"/>
<circle cx="631.2" cy="498.2" r="2.6" fill="#a8a8a8" stroke="#5a5a5a" stroke-width="0.9"/>
<circle cx="631.2" cy="526.5" r="2.6" fill="#a8a8a8" stroke="#5a5a5a" stroke-width="0.9"/>
<circle cx="631.2" cy="537.8" r="2.6" fill="#a8a8a8" stroke="#5a5a5a" stroke-width="0.9"/>
<circle cx="631.2" cy="543.5" r="2.6" fill="#a8a8a8" stroke="#5a5a5a" stroke-width="0.9"/>
<circle cx="631.2" cy="549.1" r="2.6" fill="#a8a8a8" stroke="#5a5a5a" stroke-width="0.9"/>
<circle cx="631.2" cy="554.8" r="2.6" fill="#a8a8a8" stroke="#5a5a5a" stroke-width="0.9"/>
<circle cx="631.2" cy="560.4" r="2.6" fill="#a8a8a8" stroke="#5a5a5a" stroke-width="0.9"/>
<circle cx="631.2" cy="566.1" r="2.6" fill="#a8a8a8" stroke="#5a5a5a" stroke-width="0.9"/>
<circle cx="631.2" cy="571.7" r="2.6" fill="#a8a8a8" stroke="#5a5a5a" stroke-width="0.9"/>
<circle cx="631.2" cy="577.4" r="2.6" fill="#a8a8a8" stroke="#5a5a5a" stroke-width="0.9"/>
<circle cx="631.2" cy="583.1" r="2.6" fill="#a8a8a8" stroke="#5a5a5a" stroke-width="0.9"/>
<circle cx="631.2" cy="600.0" r="2.6" fill="#a8a8a8" stroke="#5a5a5a" stroke-width="0.9"/>
<circle cx="639.6" cy="438.8" r="2.6" fill="#a8a8a8" stroke="#5a5a5a" stroke-width="0.9"/>
<circle cx="639.6" cy="447.3" r="2.6" fill="#a8a8a8" stroke="#5a5a5a" stroke-width="0.9"/>
<circle cx="639.6" cy="498.2" r="2.6" fill="#a8a8a8" stroke="#5a5a5a" stroke-width="0.9"/>
<circle cx="639.6" cy="515.2" r="2.6" fill="#a8a8a8" stroke="#5a5a5a" stroke-width="0.9"/>
<circle cx="639.6" cy="526.5" r="2.6" fill="#a8a8a8" stroke="#5a5a5a" stroke-width="0.9"/>
<circle cx="639.6" cy="532.1" r="2.6" fill="#a8a8a8" stroke="#5a5a5a" stroke-width="0.9"/>
<circle cx="639.6" cy="543.5" r="2.6" fill="#a8a8a8" stroke="#5a5a5a" stroke-width="0.9"/>
<circle cx="639.6" cy="549.1" r="2.6" fill="#a8a8a8" stroke="#5a5a5a" stroke-width="0.9"/>
<circle cx="639.6" cy="554.8" r="2.6" fill="#a8a8a8" stroke="#5a5a5a" stroke-width="0.9"/>
<circle cx="639.6" cy="560.4" r="2.6" fill="#a8a8a8" stroke="#5a5a5a" stroke-width="0.9"/>
<circle cx="639.6" cy="566.1" r="2.6" fill="#a8a8a8" stroke="#5a5a5a" stroke-width="0.9"/>
<circle cx="639.6" cy="577.4" r="2.6" fill="#a8a8a8" stroke="#5a5a5a" stroke-width="0.9"/>
<circle cx="639.6" cy="583.1" r="2.6" fill="#a8a8a8" stroke="#5a5a5a" stroke-width="0.9"/>
<circle cx="639.6" cy="588.7" r="2.6" fill="#a8a8a8" stroke="#5a5a5a" stroke-width="0.9"/>
<circle cx="639.6" cy="594.4" r="2.6" fill="#a8a8a8" stroke="#5a5a5a" stroke-width="0.9"/>
<circle cx="648.0" cy="402.0" r="2.6" fill="#a8a8a8" stroke="#5a5a5a" stroke-width="0.9"/>
<circle cx="648.0" cy="436.0" r="2.6" fill="#a8a8a8" stroke="#5a5a5a" stroke-width="0.9"/>
<circle cx="648.0" cy="492.5" r="2.6" fill="#a8a8a8" stroke="#5a5a5a" stroke-width="0.9"/>
<circle cx="648.0" cy="503.9" r="2.6" fill="#a8a8a8" stroke="#5a5a5a" stroke-width="0.9"/>
<circle cx="648.0" cy="520.8" r="2.6" fill="#a8a8a8" stroke="#5a5a5a" stroke-width="0.9"/>
<circle cx="648.0" cy="526.5" r="2.6" fill="#a8a8a8" stroke="#5a5a5a" stroke-width="0.9"/>
<circle cx="648.0" cy="543.5" r="2.6" fill="#a8a8a8" stroke="#5a5a5a" stroke-width="0.9"/>
<circle cx="648.0" cy="549.1" r="2.6" fill="#a8a8a8" stroke="#5a5a5a" stroke-width="0.9"/>
<circle cx="648.0" cy="554.8" r="2.6" fill="#a8a8a8" stroke="#5a5a5a" stroke-width="0.9"/>
<circle cx="648.0" cy="560.4" r="2.6" fill="#a8a8a8" stroke="#5a5a5a" stroke-width="0.9"/>
<circle cx="648.0" cy="566.1" r="2.6" fill="#a8a8a8" stroke="#5a5a5a" stroke-width="0.9"/>
<circle cx="648.0" cy="571.7" r="2.6" fill="#a8a8a8" stroke="#5a5a5a" stroke-width="0.9"/>
<circle cx="648.0" cy="577.4" r="2.6" fill="#a8a8a8" stroke="#5a5a5a" stroke-width="0.9"/>
<circle cx="648.0" cy="594.4" r="2.6" fill="#a8a8a8" stroke="#5a5a5a" stroke-width="0.9"/>
<circle cx="656.4" cy="458.6" r="2.6" fill="#a8a8a8" stroke="#5a5a5a" stroke-width="0.9"/>
<circle cx="656.4" cy="515.2" r="2.6" fill="#a8a8a8" stroke="#5a5a5a" stroke-width="0.9"/>
<circle cx="656.4" cy="543.5" r="2.6" fill="#a8a8a8" stroke="#5a5a5a" stroke-width="0.9"/>
<circle cx="656.4" cy="549.1" r="2.6" fill="#a8a8a8" stroke="#5a5a5a" stroke-width="0.9"/>
<circle cx="656.4" cy="554.8" r="2.6" fill="#a8a8a8" stroke="#5a5a5a" stroke-width="0.9"/>
<circle cx="656.4" cy="566.1" r="2.6" fill="#a8a8a8" stroke="#5a5a5a" stroke-width="0.9"/>
<circle cx="656.4" cy="577.4" r="2.6" fill="#a8a8a8" stroke="#5a5a5a" stroke-width="0.9"/>
<circle cx="656.4" cy="588.7" r="2.6" fill="#a8a8a8" stroke="#5a5a5a" stroke-width="0.9"/>
<circle cx="664.8" cy="520.8" r="2.6" fill="#a8a8a8" stroke="#5a5a5a" stroke-width="0.9"/>
<circle cx="664.8" cy="532.1" r="2.6" fill="#a8a8a8" stroke="#5a5a5a" stroke-width="0.9"/>
<circle cx="664.8" cy="537.8" r="2.6" fill="#a8a8a8" stroke="#5a5a5a" stroke-width="0.9"/>
<circle cx="664.8" cy="549.1" r="2.6" fill="#a8a8a8" stroke="#5a5a5a" stroke-width="0.9"/>
<circle cx="664.8" cy="554.8" r="2.6" fill="#a8a8a8" stroke="#5a5a5a" stroke-width="0.9"/>
<circle cx="664.8" cy="560.4" r="2.6" fill="#a8a8a8" stroke="#5a5a5a" stroke-width="0.9"/>
<circle cx="664.8" cy="566.1" r="2.6" fill="#a8a8a8" stroke="#5a5a5a" stroke-width="0.9"/>
<circle cx="664.8" cy="571.7" r="2.6" fill="#a8a8a8" stroke="#5a5a5a" stroke-width="0.9"/>
<circle cx="664.8" cy="577.4" r="2.6" fill="#a8a8a8" stroke="#5a5a5a" stroke-width="0.9"/>
<circle cx="664.8" cy="583.1" r="2.6" fill="#a8a8a8" stroke="#5a5a5a" stroke-width="0.9"/>
<circle cx="664.8" cy="588.7" r="2.6" fill="#a8a8a8" stroke="#5a5a5a" stroke-width="0.9"/>
<circle cx="664.8" cy="594.4" r="2.6" fill="#a8a8a8" stroke="#5a5a5a" stroke-width="0.9"/>
<circle cx="673.3" cy="520.8" r="2.6" fill="#a8a8a8" stroke="#5a5a5a" stroke-width="0.9"/>
<circle cx="673.3" cy="537.8" r="2.6" fill="#a8a8a8" stroke="#5a5a5a" stroke-width="0.9"/>
<circle cx="673.3" cy="549.1" r="2.6" fill="#a8a8a8" stroke="#5a5a5a" stroke-width="0.9"/>
<circle cx="673.3" cy="566.1" r="2.6" fill="#a8a8a8" stroke="#5a5a5a" stroke-width="0.9"/>
<circle cx="673.3" cy="571.7" r="2.6" fill="#a8a8a8" stroke="#5a5a5a" stroke-width="0.9"/>
<circle cx="673.3" cy="583.1" r="2.6" fill="#a8a8a8" stroke="#5a5a5a" stroke-width="0.9"/>
<circle cx="673.3" cy="594.4" r="2.6" fill="#a8a8a8" stroke="#5a5a5a" stroke-width="0.9"/>
<circle cx="673.3" cy="605.7" r="2.6" fill="#a8a8a8" stroke="#5a5a5a" stroke-width="0.9"/>
<circle cx="681.7" cy="509.5" r="2.6" fill="#a8a8a8" stroke="#5a5a5a" stroke-width="0.9"/>
<circle cx="681.7" cy="537.8" r="2.6" fill="#a8a8a8" stroke="#5a5a5a" stroke-width="0.9"/>
<circle cx="681.7" cy="543.5" r="2.6" fill="#a8a8a8" stroke="#5a5a5a" stroke-width="0.9"/>
<circle cx="681.7" cy="560.4" r="2.6" fill="#a8a8a8" stroke="#5a5a5a" stroke-width="0.9"/>
<circle cx="681.7" cy="566.1" r="2.6" fill="#a8a8a8" stroke="#5a5a5a" stroke-width="0.9"/>
<circle cx="681.7" cy="583.1" r="2.6" fill="#a8a8a8" stroke="#5a5a5a" stroke-width="0.9"/>
<circle cx="681.7" cy="588.7" r="2.6" fill="#a8a8a8" stroke="#5a5a5a" stroke-width="0.9"/>
<circle cx="690.1" cy="526.5" r="2.6" fill="#a8a8a8" stroke="#5a5a5a" stroke-width="0.9"/>
<circle cx="690.1" cy="537.8" r="2.6" fill="#a8a8a8" stroke="#5a5a5a" stroke-width="0.9"/>
<circle cx="690.1" cy="543.5" r="2.6" fill="#a8a8a8" stroke="#5a5a5a" stroke-width="0.9"/>
<circle cx="690.1" cy="588.7" r="2.6" fill="#a8a8a8" stroke="#5a5a5a" stroke-width="0.9"/>
<circle cx="698.5" cy="560.4" r="2.6" fill="#a8a8a8" stroke="#5a5a5a" stroke-width="0.9"/>
<circle cx="698.5" cy="566.1" r="2.6" fill="#a8a8a8" stroke="#5a5a5a" stroke-width="0.9"/>
<circle cx="706.9" cy="481.2" r="2.6" fill="#a8a8a8" stroke="#5a5a5a" stroke-width="0.9"/>
<circle cx="706.9" cy="549.1" r="2.6" fill="#a8a8a8" stroke="#5a5a5a" stroke-width="0.9"/>
<circle cx="706.9" cy="577.4" r="2.6" fill="#a8a8a8" stroke="#5a5a5a" stroke-width="0.9"/>
<circle cx="732.2" cy="520.8" r="2.6" fill="#a8a8a8" stroke="#5a5a5a" stroke-width="0.9"/>
<rect x="479.6" y="390.7" width="294.69999999999993" height="226.3" fill="none" stroke="#7a7a7a" stroke-width="1"/>
<line x1="479.6" y1="617.0" x2="482.6" y2="617.0" stroke="#7a7a7a" stroke-width="1"/>
<line x1="774.3" y1="617.0" x2="771.3" y2="617.0" stroke="#7a7a7a" stroke-width="1"/>
<text x="474.5" y="621.1" font-size="11.5" font-family='"Liberation Sans", sans-serif' text-anchor="end" fill="#262626"  stroke="#262626" stroke-width="0.18">3</text>
<line x1="479.6" y1="560.4" x2="482.6" y2="560.4" stroke="#7a7a7a" stroke-width="1"/>
<line x1="774.3" y1="560.4" x2="771.3" y2="560.4" stroke="#7a7a7a" stroke-width="1"/>
<text x="474.5" y="564.5" font-size="11.5" font-family='"Liberation Sans", sans-serif' text-anchor="end" fill="#262626"  stroke="#262626" stroke-width="0.18">4</text>
<line x1="479.6" y1="503.9" x2="482.6" y2="503.9" stroke="#7a7a7a" stroke-width="1"/>
<line x1="774.3" y1="503.9" x2="771.3" y2="503.9" stroke="#7a7a7a" stroke-width="1"/>
<text x="474.5" y="508.0" font-size="11.5" font-family='"Liberation Sans", sans-serif' text-anchor="end" fill="#262626"  stroke="#262626" stroke-width="0.18">5</text>
<line x1="479.6" y1="447.3" x2="482.6" y2="447.3" stroke="#7a7a7a" stroke-width="1"/>
<line x1="774.3" y1="447.3" x2="771.3" y2="447.3" stroke="#7a7a7a" stroke-width="1"/>
<text x="474.5" y="451.4" font-size="11.5" font-family='"Liberation Sans", sans-serif' text-anchor="end" fill="#262626"  stroke="#262626" stroke-width="0.18">6</text>
<line x1="479.6" y1="390.7" x2="482.6" y2="390.7" stroke="#7a7a7a" stroke-width="1"/>
<line x1="774.3" y1="390.7" x2="771.3" y2="390.7" stroke="#7a7a7a" stroke-width="1"/>
<text x="474.5" y="394.8" font-size="11.5" font-family='"Liberation Sans", sans-serif' text-anchor="end" fill="#262626"  stroke="#262626" stroke-width="0.18">7</text>
<line x1="479.6" y1="617.0" x2="479.6" y2="614.0" stroke="#7a7a7a" stroke-width="1"/>
<line x1="479.6" y1="390.7" x2="479.6" y2="393.7" stroke="#7a7a7a" stroke-width="1"/>
<text x="479.6" y="632.8" font-size="11.5" font-family='"Liberation Sans", sans-serif' text-anchor="middle" fill="#262626"  stroke="#262626" stroke-width="0.18">0</text>
<line x1="563.8" y1="617.0" x2="563.8" y2="614.0" stroke="#7a7a7a" stroke-width="1"/>
<line x1="563.8" y1="390.7" x2="563.8" y2="393.7" stroke="#7a7a7a" stroke-width="1"/>
<text x="563.8" y="632.8" font-size="11.5" font-family='"Liberation Sans", sans-serif' text-anchor="middle" fill="#262626"  stroke="#262626" stroke-width="0.18">10</text>
<line x1="648.0" y1="617.0" x2="648.0" y2="614.0" stroke="#7a7a7a" stroke-width="1"/>
<line x1="648.0" y1="390.7" x2="648.0" y2="393.7" stroke="#7a7a7a" stroke-width="1"/>
<text x="648.0" y="632.8" font-size="11.5" font-family='"Liberation Sans", sans-serif' text-anchor="middle" fill="#262626"  stroke="#262626" stroke-width="0.18">20</text>
<line x1="732.2" y1="617.0" x2="732.2" y2="614.0" stroke="#7a7a7a" stroke-width="1"/>
<line x1="732.2" y1="390.7" x2="732.2" y2="393.7" stroke="#7a7a7a" stroke-width="1"/>
<text x="732.2" y="632.8" font-size="11.5" font-family='"Liberation Sans", sans-serif' text-anchor="middle" fill="#262626"  stroke="#262626" stroke-width="0.18">30</text>
<text x="626.9" y="649.0" font-size="12.7" font-family='"Liberation Serif", serif' text-anchor="middle" fill="#262626"  stroke="#262626" stroke-width="0.18">Focal depth (km)</text>
<text transform="translate(457,505) rotate(-90)" font-family='"Liberation Serif", serif' fill="#262626" font-size="13.5" text-anchor="middle"><tspan font-style="italic">M</tspan><tspan font-size="9.5" dy="3.5">w</tspan></text>
<text x="446.8" y="394.8" font-size="13.5" font-family='"Liberation Serif", serif' text-anchor="start" fill="#222"  stroke="#222" stroke-width="0.18">(d)</text>
</svg></body></html>
